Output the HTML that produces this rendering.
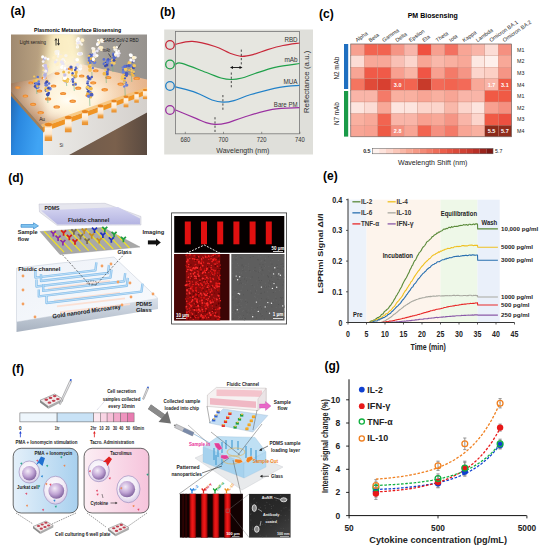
<!DOCTYPE html>
<html><head><meta charset="utf-8"><style>
html,body{margin:0;padding:0;background:#fff;width:544px;height:550px;overflow:hidden}
svg{display:block}
text{font-family:"Liberation Sans",sans-serif}
</style></head><body>
<svg width="544" height="550" viewBox="0 0 544 550">
<text x="10.5" y="15" font-size="12" font-weight="bold" text-anchor="start" fill="#000" >(a)</text>
<text x="160" y="15.6" font-size="12" font-weight="bold" text-anchor="start" fill="#000" >(b)</text>
<text x="319" y="17.5" font-size="12" font-weight="bold" text-anchor="start" fill="#000" >(c)</text>
<text x="8.2" y="181.8" font-size="12" font-weight="bold" text-anchor="start" fill="#000" >(d)</text>
<text x="323" y="180" font-size="12" font-weight="bold" text-anchor="start" fill="#000" >(e)</text>
<text x="12" y="373" font-size="12" font-weight="bold" text-anchor="start" fill="#000" >(f)</text>
<text x="324.5" y="370" font-size="12" font-weight="bold" text-anchor="start" fill="#000" >(g)</text>
<defs><linearGradient id="abg" x1="0" y1="0" x2="1" y2="0"><stop offset="0" stop-color="#a08a70"/><stop offset="0.2" stop-color="#b8a080"/><stop offset="0.33" stop-color="#d8c090"/><stop offset="0.45" stop-color="#e8d8b0"/><stop offset="0.55" stop-color="#b4aca0"/><stop offset="0.7" stop-color="#a29e98"/><stop offset="1" stop-color="#96928e"/></linearGradient><filter id="ablur" x="-50%" y="-50%" width="200%" height="200%"><feGaussianBlur stdDeviation="4"/></filter><clipPath id="aclip"><rect x="11" y="34.5" width="136" height="120.5"/></clipPath><radialGradient id="abeam" cx="0.42" cy="0.1" r="0.55" gradientTransform="translate(0.42,0.1) scale(0.6,1.6) translate(-0.42,-0.1)"><stop offset="0" stop-color="#fffbe8" stop-opacity="1"/><stop offset="0.45" stop-color="#fce8b0" stop-opacity="0.8"/><stop offset="1" stop-color="#f0c880" stop-opacity="0"/></radialGradient><radialGradient id="aglow" cx="0.45" cy="0.5" r="0.55"><stop offset="0" stop-color="#fffdf6" stop-opacity="1"/><stop offset="0.35" stop-color="#fff2dc" stop-opacity="0.9"/><stop offset="1" stop-color="#f0c8a0" stop-opacity="0"/></radialGradient><linearGradient id="abeam2" x1="0" y1="0" x2="0" y2="1"><stop offset="0" stop-color="#fffbe6" stop-opacity="0.95"/><stop offset="0.6" stop-color="#fff4d8" stop-opacity="0.6"/><stop offset="1" stop-color="#fff0d0" stop-opacity="0"/></linearGradient><linearGradient id="atop" x1="0" y1="0" x2="1" y2="0"><stop offset="0" stop-color="#8a6448"/><stop offset="0.2" stop-color="#b88a68"/><stop offset="0.45" stop-color="#fcecd8"/><stop offset="0.7" stop-color="#f2cca8"/><stop offset="1" stop-color="#e6b48c"/></linearGradient><linearGradient id="aleft" x1="0" y1="0" x2="1" y2="0.3"><stop offset="0" stop-color="#2468b0"/><stop offset="0.35" stop-color="#2a88e0"/><stop offset="1" stop-color="#40a4f4"/></linearGradient><linearGradient id="afront" x1="0" y1="0" x2="1" y2="0"><stop offset="0" stop-color="#ecebe8"/><stop offset="1" stop-color="#d4d0cc"/></linearGradient><linearGradient id="afloor" x1="0" y1="0" x2="1" y2="0"><stop offset="0" stop-color="#6e5a4c"/><stop offset="0.6" stop-color="#7a604c"/><stop offset="1" stop-color="#5a4a40"/></linearGradient></defs>
<g>
<rect x="11" y="34.5" width="136" height="120.5" fill="url(#abg)"/>
<g clip-path="url(#aclip)"><polygon points="50,30 74,30 96,100 40,100" fill="#fff4cc" opacity="0.85" filter="url(#ablur)"/></g>
<polygon points="68,155 147,112 147,155" fill="url(#afloor)"/>
<polygon points="11,83.5 45,77 72,62 147,79.5 147,90 41.3,127.5 11,92" fill="url(#atop)"/>
<polygon points="11,83.5 45,77 72,62 147,79.5 147,90 41.3,127.5 11,92" fill="url(#aglow)"/>
<g clip-path="url(#aclip)"><polygon points="52,60 76,60 96,112 45,118" fill="#fff8e4" opacity="0.75" filter="url(#ablur)"/></g>
<defs><radialGradient id="aspot"><stop offset="0" stop-color="#fffef8" stop-opacity="1"/><stop offset="0.5" stop-color="#fff6e0" stop-opacity="0.7"/><stop offset="1" stop-color="#fff0d0" stop-opacity="0"/></radialGradient></defs>
<ellipse cx="68" cy="100" rx="26" ry="16" fill="url(#aspot)"/>
<polygon points="41.3,127.5 147,90 147,112.5 69,155 41.3,155" fill="url(#afront)"/>
<polygon points="41.3,127.5 147,90 147,94.5 42,132.5" fill="#f09424"/>
<polygon points="41.3,124.5 147,87 147,90 41.3,127.5" fill="#f8c070" opacity="0.8"/>
<polygon points="11,92 43,128 43,155 11,155" fill="url(#aleft)"/>
<polygon points="11,92 43,128 44,133 11,96" fill="#c07830" opacity="0.8"/>
<ellipse cx="40.7" cy="112.6" rx="3.3" ry="1.7" fill="#ee8a30"/>
<ellipse cx="40.7" cy="112.9" rx="2.0" ry="0.9" fill="#f6a850"/>
<ellipse cx="56.7" cy="106.9" rx="3.3" ry="1.7" fill="#ee8a30"/>
<ellipse cx="56.7" cy="107.2" rx="2.0" ry="0.9" fill="#f6a850"/>
<ellipse cx="72.7" cy="101.2" rx="3.3" ry="1.7" fill="#ee8a30"/>
<ellipse cx="72.7" cy="101.5" rx="2.0" ry="0.9" fill="#f6a850"/>
<ellipse cx="88.7" cy="95.5" rx="3.3" ry="1.7" fill="#ee8a30"/>
<ellipse cx="88.7" cy="95.8" rx="2.0" ry="0.9" fill="#f6a850"/>
<ellipse cx="104.7" cy="89.8" rx="3.3" ry="1.7" fill="#ee8a30"/>
<ellipse cx="104.7" cy="90.1" rx="2.0" ry="0.9" fill="#f6a850"/>
<ellipse cx="120.7" cy="84.1" rx="3.3" ry="1.7" fill="#ee8a30"/>
<ellipse cx="120.7" cy="84.4" rx="2.0" ry="0.9" fill="#f6a850"/>
<ellipse cx="136.7" cy="78.4" rx="3.3" ry="1.7" fill="#ee8a30"/>
<ellipse cx="136.7" cy="78.7" rx="2.0" ry="0.9" fill="#f6a850"/>
<ellipse cx="33.1" cy="104.3" rx="3.1" ry="1.6" fill="#ee8a30"/>
<ellipse cx="33.1" cy="104.6" rx="1.9" ry="0.8" fill="#f6a850"/>
<ellipse cx="48.1" cy="98.9" rx="3.1" ry="1.6" fill="#ee8a30"/>
<ellipse cx="48.1" cy="99.2" rx="1.9" ry="0.8" fill="#f6a850"/>
<ellipse cx="63.1" cy="93.5" rx="3.1" ry="1.6" fill="#ee8a30"/>
<ellipse cx="63.1" cy="93.8" rx="1.9" ry="0.8" fill="#f6a850"/>
<ellipse cx="78.2" cy="88.2" rx="3.1" ry="1.6" fill="#ee8a30"/>
<ellipse cx="78.2" cy="88.5" rx="1.9" ry="0.8" fill="#f6a850"/>
<ellipse cx="93.2" cy="82.8" rx="3.1" ry="1.6" fill="#ee8a30"/>
<ellipse cx="93.2" cy="83.1" rx="1.9" ry="0.8" fill="#f6a850"/>
<ellipse cx="108.3" cy="77.5" rx="3.1" ry="1.6" fill="#ee8a30"/>
<ellipse cx="108.3" cy="77.8" rx="1.9" ry="0.8" fill="#f6a850"/>
<ellipse cx="25.4" cy="95.9" rx="2.9" ry="1.5" fill="#ee8a30"/>
<ellipse cx="25.4" cy="96.2" rx="1.8" ry="0.8" fill="#f6a850"/>
<ellipse cx="39.5" cy="90.9" rx="2.9" ry="1.5" fill="#ee8a30"/>
<ellipse cx="39.5" cy="91.2" rx="1.8" ry="0.8" fill="#f6a850"/>
<ellipse cx="53.6" cy="85.9" rx="2.9" ry="1.5" fill="#ee8a30"/>
<ellipse cx="53.6" cy="86.2" rx="1.8" ry="0.8" fill="#f6a850"/>
<ellipse cx="67.7" cy="80.9" rx="2.9" ry="1.5" fill="#ee8a30"/>
<ellipse cx="67.7" cy="81.2" rx="1.8" ry="0.8" fill="#f6a850"/>
<ellipse cx="81.7" cy="75.9" rx="2.9" ry="1.5" fill="#ee8a30"/>
<ellipse cx="81.7" cy="76.2" rx="1.8" ry="0.8" fill="#f6a850"/>
<ellipse cx="95.8" cy="70.8" rx="2.9" ry="1.5" fill="#ee8a30"/>
<ellipse cx="95.8" cy="71.1" rx="1.8" ry="0.8" fill="#f6a850"/>
<ellipse cx="17.8" cy="87.6" rx="2.7" ry="1.4" fill="#ee8a30"/>
<ellipse cx="17.8" cy="87.9" rx="1.6" ry="0.7" fill="#f6a850"/>
<ellipse cx="30.9" cy="82.9" rx="2.7" ry="1.4" fill="#ee8a30"/>
<ellipse cx="30.9" cy="83.2" rx="1.6" ry="0.7" fill="#f6a850"/>
<ellipse cx="44.0" cy="78.2" rx="2.7" ry="1.4" fill="#ee8a30"/>
<ellipse cx="44.0" cy="78.5" rx="1.6" ry="0.7" fill="#f6a850"/>
<ellipse cx="57.1" cy="73.6" rx="2.7" ry="1.4" fill="#ee8a30"/>
<ellipse cx="57.1" cy="73.9" rx="1.6" ry="0.7" fill="#f6a850"/>
<ellipse cx="70.3" cy="68.9" rx="2.7" ry="1.4" fill="#ee8a30"/>
<ellipse cx="70.3" cy="69.2" rx="1.6" ry="0.7" fill="#f6a850"/>
<defs><linearGradient id="anotch" x1="0" y1="0" x2="0" y2="1"><stop offset="0" stop-color="#f09a30"/><stop offset="0.25" stop-color="#fff4e4"/><stop offset="0.6" stop-color="#fbe6cc"/><stop offset="0.8" stop-color="#f0a040"/><stop offset="1" stop-color="#e89030"/></linearGradient></defs>
<rect x="44.7" y="124.0" width="7.4" height="17.0" fill="url(#anotch)"/>
<ellipse cx="48.4" cy="124.5" rx="3.7" ry="1.8" fill="#e88420"/>
<rect x="64.9" y="116.9" width="6.7" height="15.4" fill="url(#anotch)"/>
<ellipse cx="68.3" cy="117.4" rx="3.4" ry="1.6" fill="#e88420"/>
<rect x="81.9" y="110.9" width="6.2" height="14.2" fill="url(#anotch)"/>
<ellipse cx="85.0" cy="111.4" rx="3.1" ry="1.5" fill="#e88420"/>
<rect x="97.7" y="105.4" width="5.7" height="13.0" fill="url(#anotch)"/>
<ellipse cx="100.5" cy="105.9" rx="2.8" ry="1.4" fill="#e88420"/>
<rect x="111.4" y="100.5" width="5.2" height="12.0" fill="url(#anotch)"/>
<ellipse cx="114.0" cy="101.0" rx="2.6" ry="1.3" fill="#e88420"/>
<rect x="123.6" y="96.3" width="4.8" height="11.0" fill="url(#anotch)"/>
<ellipse cx="126.0" cy="96.8" rx="2.4" ry="1.2" fill="#e88420"/>
<rect x="134.3" y="92.5" width="4.5" height="10.2" fill="url(#anotch)"/>
<ellipse cx="136.5" cy="93.0" rx="2.2" ry="1.1" fill="#e88420"/>
<rect x="142.9" y="89.5" width="4.2" height="9.6" fill="url(#anotch)"/>
<ellipse cx="145.0" cy="90.0" rx="2.1" ry="1.0" fill="#e88420"/>
<line x1="36.6" y1="88.0" x2="36.9" y2="94.0" stroke="#70b080" stroke-width="0.6"/>
<circle cx="35.0" cy="83.5" r="1.1" fill="#3a4cb0"/>
<circle cx="34.2" cy="76.5" r="1.1" fill="#f4c860"/>
<circle cx="34.2" cy="80.9" r="1.4" fill="#f0b848"/>
<circle cx="36.8" cy="84.6" r="1.8" fill="#4a5cc0"/>
<circle cx="35.4" cy="86.3" r="1.6" fill="#3a4cb0"/>
<circle cx="36.9" cy="87.1" r="1.9" fill="#4a5cc0"/>
<circle cx="38.0" cy="87.3" r="1.4" fill="#6a80d8"/>
<circle cx="37.0" cy="80.4" r="1.8" fill="#f4c860"/>
<circle cx="37.0" cy="85.5" r="1.3" fill="#3a4cb0"/>
<circle cx="37.5" cy="86.6" r="1.1" fill="#f4c860"/>
<circle cx="37.4" cy="85.1" r="1.7" fill="#f0b848"/>
<circle cx="38.7" cy="81.5" r="1.3" fill="#6a80d8"/>
<circle cx="37.8" cy="76.9" r="1.2" fill="#5a70d0"/>
<circle cx="36.6" cy="83.8" r="1.7" fill="#6a80d8"/>
<circle cx="38.8" cy="84.0" r="1.5" fill="#4a5cc0"/>
<circle cx="44.7" cy="76.0" r="1.4" fill="#f8e0a0"/>
<circle cx="42.7" cy="56.9" r="1.6" fill="#ffffff"/>
<circle cx="44.3" cy="59.0" r="1.6" fill="#b0b0e0"/>
<circle cx="45.2" cy="66.1" r="1.9" fill="#c8c0e8"/>
<circle cx="46.2" cy="68.6" r="1.7" fill="#c8c0e8"/>
<circle cx="45.8" cy="72.6" r="1.3" fill="#f8e0a0"/>
<circle cx="46.2" cy="70.7" r="1.9" fill="#c8c0e8"/>
<circle cx="45.9" cy="71.5" r="1.1" fill="#f8e0a0"/>
<circle cx="43.2" cy="61.6" r="1.4" fill="#f4f0f8"/>
<circle cx="45.4" cy="58.0" r="1.5" fill="#f4f0f8"/>
<circle cx="47.4" cy="66.8" r="1.8" fill="#f8e0a0"/>
<circle cx="45.0" cy="73.3" r="1.6" fill="#b0b0e0"/>
<circle cx="44.1" cy="70.9" r="1.2" fill="#c8c0e8"/>
<circle cx="44.2" cy="74.4" r="1.8" fill="#f8e0a0"/>
<circle cx="44.5" cy="75.6" r="1.4" fill="#f4f0f8"/>
<circle cx="45.7" cy="71.1" r="1.7" fill="#f4f0f8"/>
<circle cx="46.0" cy="67.6" r="1.5" fill="#c8c0e8"/>
<circle cx="48.1" cy="59.1" r="1.4" fill="#ffffff"/>
<circle cx="43.5" cy="70.4" r="1.1" fill="#f8e0a0"/>
<circle cx="44.2" cy="78.4" r="1.2" fill="#f4f0f8"/>
<circle cx="43.3" cy="65.6" r="1.2" fill="#ffffff"/>
<circle cx="44.8" cy="77.6" r="1.2" fill="#c8c0e8"/>
<circle cx="44.9" cy="75.0" r="1.9" fill="#b0b0e0"/>
<circle cx="45.3" cy="65.5" r="1.8" fill="#c8c0e8"/>
<line x1="47.6" y1="95.0" x2="47.9" y2="103.0" stroke="#70b080" stroke-width="0.6"/>
<circle cx="47.4" cy="81.1" r="1.3" fill="#f0b848"/>
<circle cx="48.7" cy="93.0" r="1.3" fill="#3a4cb0"/>
<circle cx="45.6" cy="83.4" r="1.3" fill="#4a5cc0"/>
<circle cx="46.7" cy="81.7" r="1.5" fill="#3a4cb0"/>
<circle cx="47.7" cy="94.6" r="1.8" fill="#3a4cb0"/>
<circle cx="46.3" cy="85.3" r="1.8" fill="#6a80d8"/>
<circle cx="46.3" cy="90.0" r="1.7" fill="#f4c860"/>
<circle cx="46.3" cy="90.4" r="1.7" fill="#5a70d0"/>
<circle cx="49.0" cy="83.5" r="1.3" fill="#5a70d0"/>
<circle cx="48.8" cy="88.1" r="1.7" fill="#4a5cc0"/>
<circle cx="46.1" cy="88.4" r="1.9" fill="#f4c860"/>
<circle cx="49.8" cy="88.7" r="1.9" fill="#6a80d8"/>
<circle cx="46.3" cy="89.9" r="1.5" fill="#5a70d0"/>
<circle cx="47.5" cy="90.3" r="1.8" fill="#f4c860"/>
<circle cx="48.4" cy="88.3" r="1.2" fill="#3a4cb0"/>
<circle cx="58.8" cy="55.8" r="1.5" fill="#f8f4ec"/>
<circle cx="57.7" cy="62.5" r="1.2" fill="#e8e4f4"/>
<circle cx="57.9" cy="51.8" r="1.4" fill="#fff0c8"/>
<circle cx="57.9" cy="51.7" r="1.9" fill="#f8f4ec"/>
<circle cx="56.9" cy="64.6" r="1.7" fill="#fff0c8"/>
<circle cx="57.9" cy="63.0" r="1.6" fill="#fff0c8"/>
<circle cx="56.7" cy="60.1" r="1.1" fill="#f8f4ec"/>
<circle cx="57.8" cy="53.8" r="1.5" fill="#ffffff"/>
<circle cx="56.1" cy="51.9" r="1.8" fill="#f8f4ec"/>
<circle cx="55.4" cy="62.0" r="1.5" fill="#e8e4f4"/>
<circle cx="55.5" cy="54.3" r="1.8" fill="#fff0c8"/>
<circle cx="57.5" cy="64.1" r="1.6" fill="#fff0c8"/>
<circle cx="56.6" cy="53.6" r="1.5" fill="#f8f4ec"/>
<circle cx="54.0" cy="57.7" r="1.7" fill="#fff0c8"/>
<circle cx="58.0" cy="56.5" r="1.2" fill="#f8f4ec"/>
<circle cx="64.1" cy="61.4" r="1.4" fill="#ffffff"/>
<circle cx="63.3" cy="60.7" r="1.8" fill="#ffffff"/>
<circle cx="61.8" cy="67.2" r="1.7" fill="#ffffff"/>
<circle cx="63.3" cy="60.9" r="1.5" fill="#ffffff"/>
<circle cx="63.0" cy="59.4" r="1.7" fill="#f8f4ec"/>
<circle cx="63.2" cy="61.7" r="1.5" fill="#fff0c8"/>
<circle cx="63.1" cy="64.5" r="1.8" fill="#e8e4f4"/>
<circle cx="61.2" cy="55.5" r="1.2" fill="#fff0c8"/>
<circle cx="62.8" cy="66.3" r="1.6" fill="#ffffff"/>
<circle cx="61.6" cy="62.0" r="1.7" fill="#e8e4f4"/>
<circle cx="60.9" cy="55.4" r="1.2" fill="#e8e4f4"/>
<circle cx="65.9" cy="55.6" r="1.7" fill="#f8f4ec"/>
<circle cx="64.6" cy="66.7" r="1.9" fill="#f8f4ec"/>
<circle cx="61.0" cy="56.3" r="1.9" fill="#fff0c8"/>
<circle cx="62.6" cy="62.3" r="1.4" fill="#e8e4f4"/>
<line x1="66.4" y1="82.0" x2="66.7" y2="86.0" stroke="#70b080" stroke-width="0.6"/>
<circle cx="63.7" cy="71.9" r="1.5" fill="#f0c050"/>
<circle cx="65.7" cy="81.7" r="1.5" fill="#c8c0e8"/>
<circle cx="68.3" cy="81.1" r="1.9" fill="#ffffff"/>
<circle cx="65.4" cy="80.5" r="1.8" fill="#f8d070"/>
<circle cx="67.5" cy="79.5" r="1.8" fill="#f0c050"/>
<circle cx="68.9" cy="72.5" r="1.2" fill="#f0c050"/>
<circle cx="66.8" cy="69.1" r="1.2" fill="#c8c0e8"/>
<circle cx="67.2" cy="81.2" r="1.8" fill="#f0c050"/>
<circle cx="64.2" cy="78.2" r="1.7" fill="#f8d070"/>
<circle cx="67.8" cy="80.8" r="1.3" fill="#f8d070"/>
<circle cx="64.4" cy="80.3" r="1.8" fill="#f0c050"/>
<circle cx="64.7" cy="78.2" r="1.9" fill="#ffffff"/>
<circle cx="64.9" cy="68.4" r="1.3" fill="#ffffff"/>
<circle cx="65.5" cy="77.6" r="1.3" fill="#ffffff"/>
<circle cx="64.8" cy="75.0" r="1.7" fill="#c8c0e8"/>
<line x1="74.0" y1="85.0" x2="74.3" y2="91.0" stroke="#70b080" stroke-width="0.6"/>
<circle cx="71.0" cy="67.1" r="1.7" fill="#4a5cc0"/>
<circle cx="72.4" cy="75.1" r="1.3" fill="#f0b848"/>
<circle cx="74.8" cy="77.0" r="1.4" fill="#3a4cb0"/>
<circle cx="75.7" cy="76.1" r="1.9" fill="#f0b848"/>
<circle cx="72.7" cy="79.5" r="1.4" fill="#5a70d0"/>
<circle cx="75.2" cy="70.0" r="1.2" fill="#3a4cb0"/>
<circle cx="77.1" cy="67.2" r="1.1" fill="#5a70d0"/>
<circle cx="76.1" cy="73.7" r="1.2" fill="#f0b848"/>
<circle cx="75.4" cy="83.5" r="1.6" fill="#f4c860"/>
<circle cx="72.8" cy="79.9" r="1.1" fill="#6a80d8"/>
<circle cx="73.0" cy="81.7" r="1.3" fill="#4a5cc0"/>
<circle cx="77.0" cy="67.7" r="1.4" fill="#f4c860"/>
<circle cx="75.5" cy="84.4" r="1.4" fill="#5a70d0"/>
<circle cx="73.5" cy="85.0" r="1.3" fill="#f0b848"/>
<circle cx="72.6" cy="73.2" r="1.2" fill="#4a5cc0"/>
<circle cx="71.9" cy="70.3" r="1.1" fill="#f4c860"/>
<circle cx="73.2" cy="84.6" r="1.2" fill="#5a70d0"/>
<circle cx="76.2" cy="67.8" r="1.6" fill="#5a70d0"/>
<circle cx="76.2" cy="72.1" r="1.7" fill="#f0b848"/>
<circle cx="79.6" cy="42.0" r="1.7" fill="#e8e4f4"/>
<circle cx="77.1" cy="43.4" r="1.7" fill="#fff0c8"/>
<circle cx="77.5" cy="40.4" r="1.8" fill="#ffffff"/>
<circle cx="81.7" cy="44.5" r="1.2" fill="#f8f4ec"/>
<circle cx="80.1" cy="54.2" r="1.4" fill="#ffffff"/>
<circle cx="77.4" cy="46.9" r="1.6" fill="#ffffff"/>
<circle cx="79.5" cy="42.7" r="1.5" fill="#ffffff"/>
<circle cx="81.3" cy="53.7" r="1.6" fill="#ffffff"/>
<circle cx="80.5" cy="53.8" r="1.7" fill="#e8e4f4"/>
<circle cx="78.0" cy="39.8" r="1.3" fill="#f8f4ec"/>
<circle cx="79.4" cy="43.3" r="1.2" fill="#fff0c8"/>
<circle cx="78.3" cy="38.6" r="1.6" fill="#ffffff"/>
<circle cx="77.3" cy="43.4" r="1.4" fill="#f8f4ec"/>
<circle cx="80.7" cy="43.3" r="1.1" fill="#f8f4ec"/>
<circle cx="78.7" cy="53.9" r="1.7" fill="#ffffff"/>
<circle cx="78.4" cy="42.8" r="1.5" fill="#e8e4f4"/>
<circle cx="77.7" cy="46.6" r="1.3" fill="#f8f4ec"/>
<circle cx="79.5" cy="53.5" r="1.5" fill="#e8e4f4"/>
<circle cx="82.4" cy="40.2" r="1.9" fill="#fff0c8"/>
<circle cx="80.5" cy="65.4" r="1.2" fill="#f8f4ec"/>
<circle cx="79.5" cy="68.9" r="1.9" fill="#e8e4f4"/>
<circle cx="79.8" cy="68.4" r="1.8" fill="#e8e4f4"/>
<circle cx="77.0" cy="61.6" r="1.4" fill="#fff0c8"/>
<circle cx="80.4" cy="68.1" r="1.4" fill="#fff0c8"/>
<circle cx="78.0" cy="61.3" r="1.4" fill="#fff0c8"/>
<circle cx="75.5" cy="59.9" r="1.8" fill="#e8e4f4"/>
<circle cx="80.3" cy="68.6" r="1.8" fill="#ffffff"/>
<circle cx="77.9" cy="66.5" r="1.4" fill="#fff0c8"/>
<circle cx="75.9" cy="59.6" r="1.7" fill="#fff0c8"/>
<circle cx="77.2" cy="59.7" r="1.8" fill="#ffffff"/>
<circle cx="80.5" cy="66.6" r="1.9" fill="#f8f4ec"/>
<circle cx="77.6" cy="64.8" r="1.7" fill="#e8e4f4"/>
<line x1="89.6" y1="98.0" x2="89.9" y2="106.0" stroke="#70b080" stroke-width="0.6"/>
<circle cx="87.3" cy="88.6" r="1.4" fill="#3a4cb0"/>
<circle cx="89.9" cy="78.7" r="1.7" fill="#5a70d0"/>
<circle cx="90.5" cy="96.9" r="1.6" fill="#f0b848"/>
<circle cx="91.1" cy="95.0" r="1.1" fill="#f0b848"/>
<circle cx="87.3" cy="77.6" r="1.4" fill="#f0b848"/>
<circle cx="88.5" cy="91.8" r="1.9" fill="#3a4cb0"/>
<circle cx="90.3" cy="92.3" r="1.5" fill="#6a80d8"/>
<circle cx="87.5" cy="83.3" r="1.2" fill="#3a4cb0"/>
<circle cx="91.4" cy="93.4" r="1.5" fill="#f0b848"/>
<circle cx="88.8" cy="88.0" r="1.4" fill="#f0b848"/>
<circle cx="88.3" cy="85.9" r="1.4" fill="#5a70d0"/>
<circle cx="88.5" cy="96.0" r="1.7" fill="#6a80d8"/>
<circle cx="87.5" cy="93.6" r="1.4" fill="#f0b848"/>
<circle cx="87.9" cy="81.6" r="1.4" fill="#6a80d8"/>
<circle cx="88.7" cy="96.6" r="1.2" fill="#6a80d8"/>
<circle cx="90.3" cy="86.9" r="1.2" fill="#5a70d0"/>
<circle cx="88.9" cy="78.3" r="1.5" fill="#3a4cb0"/>
<circle cx="91.8" cy="77.0" r="1.2" fill="#4a5cc0"/>
<circle cx="90.9" cy="88.6" r="1.9" fill="#f0b848"/>
<circle cx="87.4" cy="87.2" r="1.8" fill="#f4c860"/>
<circle cx="88.0" cy="76.6" r="1.3" fill="#4a5cc0"/>
<circle cx="91.6" cy="94.7" r="1.9" fill="#4a5cc0"/>
<line x1="91.8" y1="72.0" x2="92.1" y2="76.0" stroke="#70b080" stroke-width="0.6"/>
<circle cx="92.6" cy="59.0" r="1.2" fill="#f0b848"/>
<circle cx="88.9" cy="58.0" r="1.3" fill="#5a70d0"/>
<circle cx="92.7" cy="55.4" r="1.9" fill="#6a80d8"/>
<circle cx="92.0" cy="60.7" r="1.7" fill="#f0b848"/>
<circle cx="90.0" cy="70.0" r="1.9" fill="#f4c860"/>
<circle cx="90.8" cy="68.5" r="1.1" fill="#f4c860"/>
<circle cx="94.4" cy="62.3" r="1.9" fill="#6a80d8"/>
<circle cx="93.9" cy="60.4" r="1.5" fill="#f0b848"/>
<circle cx="89.3" cy="62.2" r="1.7" fill="#f0b848"/>
<circle cx="89.6" cy="66.5" r="1.8" fill="#f0b848"/>
<circle cx="89.5" cy="60.4" r="1.6" fill="#5a70d0"/>
<circle cx="90.1" cy="55.3" r="1.7" fill="#4a5cc0"/>
<circle cx="91.0" cy="59.1" r="1.3" fill="#f0b848"/>
<circle cx="93.2" cy="57.7" r="1.2" fill="#f4c860"/>
<circle cx="90.3" cy="63.1" r="1.3" fill="#5a70d0"/>
<circle cx="92.9" cy="68.0" r="1.2" fill="#6a80d8"/>
<circle cx="92.4" cy="60.8" r="1.5" fill="#5a70d0"/>
<circle cx="89.1" cy="55.6" r="1.2" fill="#f4c860"/>
<circle cx="90.4" cy="64.9" r="1.2" fill="#f4c860"/>
<circle cx="93.3" cy="59.4" r="1.5" fill="#fff0c8"/>
<circle cx="93.9" cy="51.5" r="1.9" fill="#ffffff"/>
<circle cx="93.9" cy="48.8" r="1.6" fill="#f8f4ec"/>
<circle cx="94.8" cy="53.7" r="1.6" fill="#e8e4f4"/>
<circle cx="94.4" cy="55.5" r="1.5" fill="#e8e4f4"/>
<circle cx="93.3" cy="58.7" r="1.4" fill="#ffffff"/>
<circle cx="92.6" cy="48.5" r="1.4" fill="#f8f4ec"/>
<circle cx="93.9" cy="50.8" r="1.2" fill="#fff0c8"/>
<circle cx="93.3" cy="51.5" r="1.3" fill="#fff0c8"/>
<circle cx="96.9" cy="55.6" r="1.6" fill="#ffffff"/>
<circle cx="95.6" cy="57.0" r="1.1" fill="#fff0c8"/>
<circle cx="93.3" cy="59.6" r="1.3" fill="#ffffff"/>
<circle cx="97.3" cy="51.0" r="1.4" fill="#e8e4f4"/>
<line x1="106.0" y1="75.0" x2="106.3" y2="83.0" stroke="#70b080" stroke-width="0.6"/>
<circle cx="108.1" cy="69.6" r="1.3" fill="#4a5cc0"/>
<circle cx="105.0" cy="63.5" r="1.3" fill="#6a80d8"/>
<circle cx="106.5" cy="63.5" r="1.9" fill="#3a4cb0"/>
<circle cx="107.3" cy="74.0" r="1.5" fill="#4a5cc0"/>
<circle cx="108.9" cy="59.7" r="1.7" fill="#f0b848"/>
<circle cx="107.9" cy="60.4" r="1.8" fill="#5a70d0"/>
<circle cx="107.3" cy="72.1" r="1.3" fill="#3a4cb0"/>
<circle cx="104.0" cy="63.9" r="1.4" fill="#5a70d0"/>
<circle cx="105.4" cy="69.9" r="1.2" fill="#f4c860"/>
<circle cx="107.1" cy="71.8" r="1.4" fill="#5a70d0"/>
<circle cx="105.9" cy="64.6" r="1.4" fill="#f4c860"/>
<circle cx="108.4" cy="59.3" r="1.3" fill="#4a5cc0"/>
<circle cx="104.4" cy="73.7" r="1.9" fill="#f0b848"/>
<circle cx="103.9" cy="59.4" r="1.4" fill="#5a70d0"/>
<circle cx="106.9" cy="65.1" r="1.5" fill="#3a4cb0"/>
<circle cx="107.5" cy="62.6" r="1.3" fill="#6a80d8"/>
<circle cx="105.3" cy="65.9" r="1.3" fill="#3a4cb0"/>
<line x1="112.7" y1="66.0" x2="113.0" y2="72.0" stroke="#70b080" stroke-width="0.6"/>
<circle cx="111.1" cy="59.8" r="1.2" fill="#5a70d0"/>
<circle cx="113.2" cy="53.6" r="1.2" fill="#6a80d8"/>
<circle cx="111.6" cy="62.5" r="1.3" fill="#f4c860"/>
<circle cx="113.6" cy="54.7" r="1.2" fill="#4a5cc0"/>
<circle cx="114.3" cy="59.4" r="1.8" fill="#f0b848"/>
<circle cx="111.9" cy="65.4" r="1.1" fill="#4a5cc0"/>
<circle cx="114.5" cy="57.6" r="1.8" fill="#5a70d0"/>
<circle cx="114.5" cy="60.8" r="1.6" fill="#f0b848"/>
<circle cx="113.7" cy="55.2" r="1.2" fill="#4a5cc0"/>
<circle cx="113.3" cy="57.7" r="1.1" fill="#5a70d0"/>
<circle cx="110.6" cy="61.2" r="1.1" fill="#6a80d8"/>
<circle cx="115.1" cy="55.7" r="1.8" fill="#4a5cc0"/>
<circle cx="112.1" cy="60.3" r="1.3" fill="#f4c860"/>
<circle cx="114.0" cy="63.2" r="1.5" fill="#f4c860"/>
<circle cx="114.1" cy="60.3" r="1.5" fill="#3a4cb0"/>
<circle cx="114.8" cy="49.6" r="1.4" fill="#f8f4ec"/>
<circle cx="119.2" cy="53.3" r="1.4" fill="#e8e4f4"/>
<circle cx="118.0" cy="55.5" r="1.4" fill="#e8e4f4"/>
<circle cx="118.0" cy="55.8" r="1.6" fill="#e8e4f4"/>
<circle cx="116.5" cy="52.1" r="1.4" fill="#ffffff"/>
<circle cx="115.4" cy="54.4" r="1.4" fill="#ffffff"/>
<circle cx="116.8" cy="47.2" r="1.2" fill="#f8f4ec"/>
<circle cx="115.6" cy="55.5" r="1.2" fill="#fff0c8"/>
<circle cx="116.3" cy="49.8" r="1.2" fill="#f8f4ec"/>
<circle cx="117.1" cy="53.2" r="1.2" fill="#ffffff"/>
<circle cx="118.6" cy="51.1" r="1.3" fill="#f8f4ec"/>
<circle cx="114.3" cy="47.6" r="1.4" fill="#fff0c8"/>
<line x1="124.9" y1="88.0" x2="125.2" y2="96.0" stroke="#70b080" stroke-width="0.6"/>
<circle cx="125.6" cy="74.6" r="1.8" fill="#4a5cc0"/>
<circle cx="126.7" cy="74.4" r="1.6" fill="#5a70d0"/>
<circle cx="125.6" cy="69.2" r="1.8" fill="#f4c860"/>
<circle cx="123.0" cy="69.8" r="1.1" fill="#5a70d0"/>
<circle cx="122.8" cy="67.4" r="1.2" fill="#6a80d8"/>
<circle cx="125.9" cy="82.6" r="1.1" fill="#5a70d0"/>
<circle cx="126.3" cy="75.6" r="1.6" fill="#4a5cc0"/>
<circle cx="124.4" cy="80.9" r="1.5" fill="#f0b848"/>
<circle cx="123.8" cy="74.2" r="1.3" fill="#f0b848"/>
<circle cx="124.4" cy="82.5" r="1.5" fill="#6a80d8"/>
<circle cx="122.5" cy="78.4" r="1.9" fill="#f4c860"/>
<circle cx="124.6" cy="77.8" r="1.7" fill="#f4c860"/>
<circle cx="123.3" cy="77.9" r="1.4" fill="#f0b848"/>
<circle cx="124.3" cy="86.5" r="1.2" fill="#6a80d8"/>
<circle cx="125.0" cy="78.3" r="1.1" fill="#4a5cc0"/>
<circle cx="126.7" cy="85.1" r="1.7" fill="#6a80d8"/>
<circle cx="122.6" cy="76.7" r="1.8" fill="#f4c860"/>
<circle cx="126.5" cy="73.6" r="1.8" fill="#4a5cc0"/>
<circle cx="126.4" cy="66.1" r="1.3" fill="#4a5cc0"/>
<circle cx="124.8" cy="66.4" r="1.6" fill="#5a70d0"/>
<circle cx="123.3" cy="72.1" r="1.6" fill="#6a80d8"/>
<circle cx="124.1" cy="82.5" r="1.3" fill="#f4c860"/>
<line x1="131.5" y1="76.0" x2="131.8" y2="82.0" stroke="#70b080" stroke-width="0.6"/>
<circle cx="129.4" cy="62.9" r="1.9" fill="#f4c860"/>
<circle cx="132.0" cy="68.3" r="1.5" fill="#f4c860"/>
<circle cx="129.3" cy="70.9" r="1.4" fill="#5a70d0"/>
<circle cx="130.3" cy="65.8" r="1.8" fill="#6a80d8"/>
<circle cx="132.7" cy="73.3" r="1.7" fill="#4a5cc0"/>
<circle cx="132.9" cy="75.2" r="1.5" fill="#f0b848"/>
<circle cx="133.5" cy="66.7" r="1.3" fill="#4a5cc0"/>
<circle cx="133.4" cy="67.4" r="1.7" fill="#3a4cb0"/>
<circle cx="133.7" cy="71.8" r="1.2" fill="#f4c860"/>
<circle cx="129.5" cy="70.7" r="1.2" fill="#5a70d0"/>
<circle cx="128.9" cy="64.1" r="1.3" fill="#f4c860"/>
<circle cx="134.2" cy="65.8" r="1.8" fill="#f4c860"/>
<circle cx="132.9" cy="61.7" r="1.1" fill="#3a4cb0"/>
<circle cx="132.0" cy="73.6" r="1.4" fill="#f0b848"/>
<circle cx="129.3" cy="70.2" r="1.3" fill="#f0b848"/>
<circle cx="128.9" cy="65.6" r="1.6" fill="#4a5cc0"/>
<circle cx="131.6" cy="71.1" r="1.3" fill="#f4c860"/>
<circle cx="133.5" cy="57.3" r="1.4" fill="#f8f4ec"/>
<circle cx="131.0" cy="55.4" r="1.8" fill="#ffffff"/>
<circle cx="131.4" cy="60.1" r="1.2" fill="#ffffff"/>
<circle cx="133.7" cy="60.8" r="1.4" fill="#e8e4f4"/>
<circle cx="130.8" cy="59.9" r="1.6" fill="#e8e4f4"/>
<circle cx="133.5" cy="57.4" r="1.3" fill="#fff0c8"/>
<circle cx="130.2" cy="54.8" r="1.4" fill="#ffffff"/>
<circle cx="131.0" cy="60.1" r="1.1" fill="#ffffff"/>
<circle cx="135.3" cy="57.6" r="1.4" fill="#f8f4ec"/>
<circle cx="133.7" cy="57.9" r="1.8" fill="#fff0c8"/>
<circle cx="99.2" cy="48.3" r="1.6" fill="#e8e4f4"/>
<circle cx="101.4" cy="40.1" r="1.7" fill="#fff0c8"/>
<circle cx="101.3" cy="49.9" r="1.2" fill="#fff0c8"/>
<circle cx="98.2" cy="43.4" r="1.3" fill="#ffffff"/>
<circle cx="97.9" cy="43.6" r="1.7" fill="#e8e4f4"/>
<circle cx="100.2" cy="47.3" r="1.6" fill="#fff0c8"/>
<circle cx="102.9" cy="40.8" r="1.6" fill="#e8e4f4"/>
<circle cx="98.2" cy="40.3" r="1.2" fill="#ffffff"/>
<circle cx="102.1" cy="41.0" r="1.9" fill="#f8f4ec"/>
<circle cx="99.0" cy="42.5" r="1.4" fill="#fff0c8"/>
<circle cx="101.8" cy="47.6" r="1.5" fill="#fff0c8"/>
<circle cx="97.4" cy="44.7" r="1.4" fill="#ffffff"/>
</g>
<text x="34" y="32.3" font-size="5.2" font-weight="bold" text-anchor="start" fill="#000" >Plasmonic Metasurface Biosensing</text>
<text x="19.7" y="44" font-size="5.4" text-anchor="start" fill="#1a1a1a" textLength="26.3" lengthAdjust="spacingAndGlyphs" >Light sensing</text>
<path d="M56,45.5 L56,39 M55,40.5 L56,38.6 L57,40.5 M58.5,38.6 L58.5,45 M57.5,43.2 L58.5,45.2 L59.5,43.2" stroke="#1a1a1a" stroke-width="0.8" fill="none"/>
<text x="103.1" y="41.6" font-size="5.3" text-anchor="start" fill="#1a1a1a" textLength="35.4" lengthAdjust="spacingAndGlyphs" >SARS-CoV-2 RBD</text>
<text x="103.1" y="52.3" font-size="5.3" text-anchor="start" fill="#1a1a1a" textLength="7.1" lengthAdjust="spacingAndGlyphs" >mAb</text>
<line x1="121" y1="43.5" x2="118" y2="48.5" stroke="#1a1a1a" stroke-width="0.6"/>
<line x1="108.5" y1="53.5" x2="111" y2="57.5" stroke="#1a1a1a" stroke-width="0.6"/>
<text x="39.2" y="121" font-size="5.3" text-anchor="start" fill="#1a1a1a" textLength="5.8" lengthAdjust="spacingAndGlyphs" >Au</text>
<text x="59.5" y="146.5" font-size="5.3" text-anchor="start" fill="#333" textLength="3.8" lengthAdjust="spacingAndGlyphs" >Si</text>
<rect x="164.2" y="29.5" width="148.8" height="125" fill="#dfdfda"/>
<rect x="175.5" y="31.5" width="124" height="102.3" fill="#e6e6e0" stroke="#777" stroke-width="0.8"/>
<path d="M175.6,44.3 C178.4,43.8 185.7,41.0 192.3,41.4 C198.9,41.8 208.7,44.5 215.0,46.5 C221.3,48.5 225.6,51.6 230.0,53.2 C234.4,54.8 237.5,56.1 241.3,56.3 C245.1,56.5 248.6,55.7 253.0,54.6 C257.4,53.5 262.6,51.1 267.6,49.6 C272.6,48.1 277.7,46.6 283.0,45.5 C288.3,44.4 296.8,43.4 299.5,43.0" fill="none" stroke="#c8283a" stroke-width="1.2"/>
<line x1="241.3" y1="49.6" x2="241.3" y2="64.6" stroke="#222" stroke-width="0.8" stroke-dasharray="2.2,2"/>
<circle cx="170" cy="45.0" r="4.3" fill="none" stroke="#c8283a" stroke-width="1.3"/>
<text x="297.6" y="42.4" font-size="7" text-anchor="end" fill="#333" textLength="13.2" lengthAdjust="spacingAndGlyphs" >RBD</text>
<path d="M175.6,64.2 C176.7,64.1 176.6,61.9 182.0,63.4 C187.4,64.9 201.3,70.6 207.8,73.0 C214.3,75.4 217.1,76.9 221.0,78.0 C224.9,79.1 227.8,79.5 231.3,79.5 C234.8,79.5 238.1,79.0 242.0,78.0 C245.9,77.0 249.5,75.3 255.0,73.5 C260.5,71.7 267.6,69.0 275.0,67.3 C282.4,65.6 295.4,64.1 299.5,63.5" fill="none" stroke="#1fa04a" stroke-width="1.2"/>
<line x1="231.3" y1="72.5" x2="231.3" y2="87.3" stroke="#222" stroke-width="0.8" stroke-dasharray="2.2,2"/>
<circle cx="170" cy="64.5" r="4.3" fill="none" stroke="#1fa04a" stroke-width="1.3"/>
<text x="297.6" y="62.3" font-size="7" text-anchor="end" fill="#333" textLength="13.2" lengthAdjust="spacingAndGlyphs" >mAb</text>
<path d="M175.6,86.9 C179.0,87.9 189.8,90.4 195.9,92.6 C202.0,94.8 207.5,98.4 212.0,100.0 C216.5,101.6 219.2,102.1 222.9,102.2 C226.6,102.3 229.3,101.9 234.0,100.6 C238.7,99.3 243.3,96.7 250.9,94.5 C258.5,92.3 271.4,88.8 279.5,87.3 C287.6,85.8 296.2,85.7 299.5,85.4" fill="none" stroke="#2080c8" stroke-width="1.2"/>
<line x1="222.9" y1="95" x2="222.9" y2="110" stroke="#222" stroke-width="0.8" stroke-dasharray="2.2,2"/>
<circle cx="170" cy="86.0" r="4.3" fill="none" stroke="#2080c8" stroke-width="1.3"/>
<text x="297.6" y="83.8" font-size="7" text-anchor="end" fill="#333" textLength="14.1" lengthAdjust="spacingAndGlyphs" >MUA</text>
<path d="M175.6,110 C179.0,111.4 190.8,116.3 195.9,118.4 C201.0,120.5 202.8,121.6 206.0,122.6 C209.2,123.6 211.7,124.3 215.0,124.4 C218.3,124.5 221.2,124.4 226.0,123.2 C230.8,122.0 236.0,119.5 243.7,117.2 C251.4,114.9 263.1,110.9 272.4,109.3 C281.7,107.7 295.0,108.0 299.5,107.7" fill="none" stroke="#9a30a0" stroke-width="1.2"/>
<line x1="215" y1="117.2" x2="215" y2="133" stroke="#222" stroke-width="0.8" stroke-dasharray="2.2,2"/>
<circle cx="170" cy="110.0" r="4.3" fill="none" stroke="#9a30a0" stroke-width="1.3"/>
<text x="297.6" y="106.5" font-size="7" text-anchor="end" fill="#333" textLength="23.8" lengthAdjust="spacingAndGlyphs" >Bare PM</text>
<line x1="231.5" y1="67.5" x2="241" y2="67.5" stroke="#111" stroke-width="0.9"/>
<polygon points="230,67.5 233,66 233,69" fill="#111"/><polygon points="242.5,67.5 239.5,66 239.5,69" fill="#111"/>
<line x1="185.3" y1="133.8" x2="185.3" y2="131.8" stroke="#555" stroke-width="0.6"/>
<text x="185.3" y="142.2" font-size="7.1" text-anchor="middle" fill="#333" textLength="9.8" lengthAdjust="spacingAndGlyphs" >680</text>
<line x1="223.5" y1="133.8" x2="223.5" y2="131.8" stroke="#555" stroke-width="0.6"/>
<text x="223.5" y="142.2" font-size="7.1" text-anchor="middle" fill="#333" textLength="9.8" lengthAdjust="spacingAndGlyphs" >700</text>
<line x1="261.7" y1="133.8" x2="261.7" y2="131.8" stroke="#555" stroke-width="0.6"/>
<text x="261.7" y="142.2" font-size="7.1" text-anchor="middle" fill="#333" textLength="9.8" lengthAdjust="spacingAndGlyphs" >720</text>
<line x1="299.9" y1="133.8" x2="299.9" y2="131.8" stroke="#555" stroke-width="0.6"/>
<text x="299.9" y="142.2" font-size="7.1" text-anchor="middle" fill="#333" textLength="9.8" lengthAdjust="spacingAndGlyphs" >740</text>
<text x="242.9" y="152.9" font-size="7.6" text-anchor="middle" fill="#333" textLength="53.1" lengthAdjust="spacingAndGlyphs" >Wavelength (nm)</text>
<text x="0" y="0" font-size="7.7" fill="#333" text-anchor="middle" textLength="62.7" lengthAdjust="spacingAndGlyphs" transform="translate(308.6,81.9) rotate(-90)">Reflectance (a.u.)</text>
<text x="432.8" y="17.9" font-size="7" font-weight="bold" text-anchor="middle" fill="#000" >PM Biosensing</text>
<rect x="350.80" y="44.00" width="13.40" height="11.60" fill="#f7a090" stroke="#c88878" stroke-width="0.3"/>
<rect x="364.20" y="44.00" width="13.40" height="11.60" fill="#f26450" stroke="#c88878" stroke-width="0.3"/>
<rect x="377.60" y="44.00" width="13.40" height="11.60" fill="#f26450" stroke="#c88878" stroke-width="0.3"/>
<rect x="391.00" y="44.00" width="13.40" height="11.60" fill="#f59585" stroke="#c88878" stroke-width="0.3"/>
<rect x="404.40" y="44.00" width="13.40" height="11.60" fill="#f8b5aa" stroke="#c88878" stroke-width="0.3"/>
<rect x="417.80" y="44.00" width="13.40" height="11.60" fill="#f05040" stroke="#c88878" stroke-width="0.3"/>
<rect x="431.20" y="44.00" width="13.40" height="11.60" fill="#f7a090" stroke="#c88878" stroke-width="0.3"/>
<rect x="444.60" y="44.00" width="13.40" height="11.60" fill="#f37060" stroke="#c88878" stroke-width="0.3"/>
<rect x="458.00" y="44.00" width="13.40" height="11.60" fill="#f8a595" stroke="#c88878" stroke-width="0.3"/>
<rect x="471.40" y="44.00" width="13.40" height="11.60" fill="#f9b5a8" stroke="#c88878" stroke-width="0.3"/>
<rect x="484.80" y="44.00" width="13.40" height="11.60" fill="#fcdcd5" stroke="#c88878" stroke-width="0.3"/>
<rect x="498.20" y="44.00" width="13.40" height="11.60" fill="#f59080" stroke="#c88878" stroke-width="0.3"/>
<rect x="350.80" y="55.60" width="13.40" height="11.60" fill="#fcdcd5" stroke="#c88878" stroke-width="0.3"/>
<rect x="364.20" y="55.60" width="13.40" height="11.60" fill="#f8a898" stroke="#c88878" stroke-width="0.3"/>
<rect x="377.60" y="55.60" width="13.40" height="11.60" fill="#f8a898" stroke="#c88878" stroke-width="0.3"/>
<rect x="391.00" y="55.60" width="13.40" height="11.60" fill="#f9c0b5" stroke="#c88878" stroke-width="0.3"/>
<rect x="404.40" y="55.60" width="13.40" height="11.60" fill="#fcd5cc" stroke="#c88878" stroke-width="0.3"/>
<rect x="417.80" y="55.60" width="13.40" height="11.60" fill="#f8a595" stroke="#c88878" stroke-width="0.3"/>
<rect x="431.20" y="55.60" width="13.40" height="11.60" fill="#f9b8aa" stroke="#c88878" stroke-width="0.3"/>
<rect x="444.60" y="55.60" width="13.40" height="11.60" fill="#f9b0a0" stroke="#c88878" stroke-width="0.3"/>
<rect x="458.00" y="55.60" width="13.40" height="11.60" fill="#f8a898" stroke="#c88878" stroke-width="0.3"/>
<rect x="471.40" y="55.60" width="13.40" height="11.60" fill="#fde8e2" stroke="#c88878" stroke-width="0.3"/>
<rect x="484.80" y="55.60" width="13.40" height="11.60" fill="#fef0ec" stroke="#c88878" stroke-width="0.3"/>
<rect x="498.20" y="55.60" width="13.40" height="11.60" fill="#f8a898" stroke="#c88878" stroke-width="0.3"/>
<rect x="350.80" y="67.20" width="13.40" height="11.60" fill="#f8a595" stroke="#c88878" stroke-width="0.3"/>
<rect x="364.20" y="67.20" width="13.40" height="11.60" fill="#f05a48" stroke="#c88878" stroke-width="0.3"/>
<rect x="377.60" y="67.20" width="13.40" height="11.60" fill="#f05a48" stroke="#c88878" stroke-width="0.3"/>
<rect x="391.00" y="67.20" width="13.40" height="11.60" fill="#f8a090" stroke="#c88878" stroke-width="0.3"/>
<rect x="404.40" y="67.20" width="13.40" height="11.60" fill="#f9b5a5" stroke="#c88878" stroke-width="0.3"/>
<rect x="417.80" y="67.20" width="13.40" height="11.60" fill="#f05545" stroke="#c88878" stroke-width="0.3"/>
<rect x="431.20" y="67.20" width="13.40" height="11.60" fill="#f8a090" stroke="#c88878" stroke-width="0.3"/>
<rect x="444.60" y="67.20" width="13.40" height="11.60" fill="#f47a68" stroke="#c88878" stroke-width="0.3"/>
<rect x="458.00" y="67.20" width="13.40" height="11.60" fill="#f59585" stroke="#c88878" stroke-width="0.3"/>
<rect x="471.40" y="67.20" width="13.40" height="11.60" fill="#fcd5cc" stroke="#c88878" stroke-width="0.3"/>
<rect x="484.80" y="67.20" width="13.40" height="11.60" fill="#fcd0c5" stroke="#c88878" stroke-width="0.3"/>
<rect x="498.20" y="67.20" width="13.40" height="11.60" fill="#f59585" stroke="#c88878" stroke-width="0.3"/>
<rect x="350.80" y="78.80" width="13.40" height="11.60" fill="#f47560" stroke="#c88878" stroke-width="0.3"/>
<rect x="364.20" y="78.80" width="13.40" height="11.60" fill="#e04a38" stroke="#c88878" stroke-width="0.3"/>
<rect x="377.60" y="78.80" width="13.40" height="11.60" fill="#d84030" stroke="#c88878" stroke-width="0.3"/>
<rect x="391.00" y="78.80" width="13.40" height="11.60" fill="#f06050" stroke="#c88878" stroke-width="0.3"/>
<rect x="404.40" y="78.80" width="13.40" height="11.60" fill="#f26450" stroke="#c88878" stroke-width="0.3"/>
<rect x="417.80" y="78.80" width="13.40" height="11.60" fill="#c83a2a" stroke="#c88878" stroke-width="0.3"/>
<rect x="431.20" y="78.80" width="13.40" height="11.60" fill="#f26a58" stroke="#c88878" stroke-width="0.3"/>
<rect x="444.60" y="78.80" width="13.40" height="11.60" fill="#f26450" stroke="#c88878" stroke-width="0.3"/>
<rect x="458.00" y="78.80" width="13.40" height="11.60" fill="#f36a58" stroke="#c88878" stroke-width="0.3"/>
<rect x="471.40" y="78.80" width="13.40" height="11.60" fill="#f8a898" stroke="#c88878" stroke-width="0.3"/>
<rect x="484.80" y="78.80" width="13.40" height="11.60" fill="#f9b5a8" stroke="#c88878" stroke-width="0.3"/>
<rect x="498.20" y="78.80" width="13.40" height="11.60" fill="#f05a45" stroke="#c88878" stroke-width="0.3"/>
<rect x="350.80" y="90.40" width="13.40" height="11.60" fill="#f9b5a8" stroke="#c88878" stroke-width="0.3"/>
<rect x="364.20" y="90.40" width="13.40" height="11.60" fill="#f9b5a8" stroke="#c88878" stroke-width="0.3"/>
<rect x="377.60" y="90.40" width="13.40" height="11.60" fill="#f47a68" stroke="#c88878" stroke-width="0.3"/>
<rect x="391.00" y="90.40" width="13.40" height="11.60" fill="#f9b0a0" stroke="#c88878" stroke-width="0.3"/>
<rect x="404.40" y="90.40" width="13.40" height="11.60" fill="#f9b0a0" stroke="#c88878" stroke-width="0.3"/>
<rect x="417.80" y="90.40" width="13.40" height="11.60" fill="#f8a595" stroke="#c88878" stroke-width="0.3"/>
<rect x="431.20" y="90.40" width="13.40" height="11.60" fill="#f9b0a0" stroke="#c88878" stroke-width="0.3"/>
<rect x="444.60" y="90.40" width="13.40" height="11.60" fill="#f8a595" stroke="#c88878" stroke-width="0.3"/>
<rect x="458.00" y="90.40" width="13.40" height="11.60" fill="#f9b5a8" stroke="#c88878" stroke-width="0.3"/>
<rect x="471.40" y="90.40" width="13.40" height="11.60" fill="#f9b5a8" stroke="#c88878" stroke-width="0.3"/>
<rect x="484.80" y="90.40" width="13.40" height="11.60" fill="#f05a45" stroke="#c88878" stroke-width="0.3"/>
<rect x="498.20" y="90.40" width="13.40" height="11.60" fill="#f05a45" stroke="#c88878" stroke-width="0.3"/>
<rect x="350.80" y="102.00" width="13.40" height="11.60" fill="#fde5df" stroke="#c88878" stroke-width="0.3"/>
<rect x="364.20" y="102.00" width="13.40" height="11.60" fill="#fcdcd5" stroke="#c88878" stroke-width="0.3"/>
<rect x="377.60" y="102.00" width="13.40" height="11.60" fill="#f8a898" stroke="#c88878" stroke-width="0.3"/>
<rect x="391.00" y="102.00" width="13.40" height="11.60" fill="#fde5df" stroke="#c88878" stroke-width="0.3"/>
<rect x="404.40" y="102.00" width="13.40" height="11.60" fill="#fde5df" stroke="#c88878" stroke-width="0.3"/>
<rect x="417.80" y="102.00" width="13.40" height="11.60" fill="#fcd5cc" stroke="#c88878" stroke-width="0.3"/>
<rect x="431.20" y="102.00" width="13.40" height="11.60" fill="#fcd5cc" stroke="#c88878" stroke-width="0.3"/>
<rect x="444.60" y="102.00" width="13.40" height="11.60" fill="#f9b8aa" stroke="#c88878" stroke-width="0.3"/>
<rect x="458.00" y="102.00" width="13.40" height="11.60" fill="#fcd5cc" stroke="#c88878" stroke-width="0.3"/>
<rect x="471.40" y="102.00" width="13.40" height="11.60" fill="#fde5df" stroke="#c88878" stroke-width="0.3"/>
<rect x="484.80" y="102.00" width="13.40" height="11.60" fill="#f8a090" stroke="#c88878" stroke-width="0.3"/>
<rect x="498.20" y="102.00" width="13.40" height="11.60" fill="#f59080" stroke="#c88878" stroke-width="0.3"/>
<rect x="350.80" y="113.60" width="13.40" height="11.60" fill="#f9b0a0" stroke="#c88878" stroke-width="0.3"/>
<rect x="364.20" y="113.60" width="13.40" height="11.60" fill="#f8a898" stroke="#c88878" stroke-width="0.3"/>
<rect x="377.60" y="113.60" width="13.40" height="11.60" fill="#f26450" stroke="#c88878" stroke-width="0.3"/>
<rect x="391.00" y="113.60" width="13.40" height="11.60" fill="#f9b5a8" stroke="#c88878" stroke-width="0.3"/>
<rect x="404.40" y="113.60" width="13.40" height="11.60" fill="#f9b5a8" stroke="#c88878" stroke-width="0.3"/>
<rect x="417.80" y="113.60" width="13.40" height="11.60" fill="#f8a090" stroke="#c88878" stroke-width="0.3"/>
<rect x="431.20" y="113.60" width="13.40" height="11.60" fill="#f8a898" stroke="#c88878" stroke-width="0.3"/>
<rect x="444.60" y="113.60" width="13.40" height="11.60" fill="#f59585" stroke="#c88878" stroke-width="0.3"/>
<rect x="458.00" y="113.60" width="13.40" height="11.60" fill="#f9b5a8" stroke="#c88878" stroke-width="0.3"/>
<rect x="471.40" y="113.60" width="13.40" height="11.60" fill="#fcd5cc" stroke="#c88878" stroke-width="0.3"/>
<rect x="484.80" y="113.60" width="13.40" height="11.60" fill="#f05a45" stroke="#c88878" stroke-width="0.3"/>
<rect x="498.20" y="113.60" width="13.40" height="11.60" fill="#ec5040" stroke="#c88878" stroke-width="0.3"/>
<rect x="350.80" y="125.20" width="13.40" height="11.60" fill="#f8a595" stroke="#c88878" stroke-width="0.3"/>
<rect x="364.20" y="125.20" width="13.40" height="11.60" fill="#f8a090" stroke="#c88878" stroke-width="0.3"/>
<rect x="377.60" y="125.20" width="13.40" height="11.60" fill="#ee5a45" stroke="#c88878" stroke-width="0.3"/>
<rect x="391.00" y="125.20" width="13.40" height="11.60" fill="#f59080" stroke="#c88878" stroke-width="0.3"/>
<rect x="404.40" y="125.20" width="13.40" height="11.60" fill="#f8a595" stroke="#c88878" stroke-width="0.3"/>
<rect x="417.80" y="125.20" width="13.40" height="11.60" fill="#f26450" stroke="#c88878" stroke-width="0.3"/>
<rect x="431.20" y="125.20" width="13.40" height="11.60" fill="#f59080" stroke="#c88878" stroke-width="0.3"/>
<rect x="444.60" y="125.20" width="13.40" height="11.60" fill="#f47a68" stroke="#c88878" stroke-width="0.3"/>
<rect x="458.00" y="125.20" width="13.40" height="11.60" fill="#f8a595" stroke="#c88878" stroke-width="0.3"/>
<rect x="471.40" y="125.20" width="13.40" height="11.60" fill="#f9b0a0" stroke="#c88878" stroke-width="0.3"/>
<rect x="484.80" y="125.20" width="13.40" height="11.60" fill="#8b2a1a" stroke="#c88878" stroke-width="0.3"/>
<rect x="498.20" y="125.20" width="13.40" height="11.60" fill="#902c1c" stroke="#c88878" stroke-width="0.3"/>
<rect x="350.8" y="44.0" width="160.8" height="92.8" fill="none" stroke="#666" stroke-width="0.6"/>
<text x="397.7" y="86.6" font-size="5.5" font-weight="bold" text-anchor="middle" fill="#fff" >3.0</text>
<text x="491.5" y="86.6" font-size="5.5" font-weight="bold" text-anchor="middle" fill="#fff" >1.7</text>
<text x="504.9" y="86.6" font-size="5.5" font-weight="bold" text-anchor="middle" fill="#fff" >3.1</text>
<text x="397.7" y="133.0" font-size="5.5" font-weight="bold" text-anchor="middle" fill="#fff" >2.8</text>
<text x="491.5" y="133.0" font-size="5.5" font-weight="bold" text-anchor="middle" fill="#fff" >5.5</text>
<text x="504.9" y="133.0" font-size="5.5" font-weight="bold" text-anchor="middle" fill="#fff" >5.7</text>
<text x="517" y="51.8" font-size="5.3" text-anchor="start" fill="#222" >M1</text>
<text x="517" y="63.4" font-size="5.3" text-anchor="start" fill="#222" >M2</text>
<text x="517" y="75.0" font-size="5.3" text-anchor="start" fill="#222" >M3</text>
<text x="517" y="86.6" font-size="5.3" text-anchor="start" fill="#222" >M4</text>
<text x="517" y="98.2" font-size="5.3" text-anchor="start" fill="#222" >M1</text>
<text x="517" y="109.8" font-size="5.3" text-anchor="start" fill="#222" >M2</text>
<text x="517" y="121.4" font-size="5.3" text-anchor="start" fill="#222" >M3</text>
<text x="517" y="133.0" font-size="5.3" text-anchor="start" fill="#222" >M4</text>
<text x="0" y="0" font-size="5.4" fill="#222" transform="translate(356.9,42.2) rotate(-35)">Alpha</text>
<text x="0" y="0" font-size="5.4" fill="#222" transform="translate(370.3,42.2) rotate(-35)">Beta</text>
<text x="0" y="0" font-size="5.4" fill="#222" transform="translate(383.7,42.2) rotate(-35)">Gamma</text>
<text x="0" y="0" font-size="5.4" fill="#222" transform="translate(397.1,42.2) rotate(-35)">Delta</text>
<text x="0" y="0" font-size="5.4" fill="#222" transform="translate(410.5,42.2) rotate(-35)">Epsilon</text>
<text x="0" y="0" font-size="5.4" fill="#222" transform="translate(423.9,42.2) rotate(-35)">Eta</text>
<text x="0" y="0" font-size="5.4" fill="#222" transform="translate(437.3,42.2) rotate(-35)">Theta</text>
<text x="0" y="0" font-size="5.4" fill="#222" transform="translate(450.7,42.2) rotate(-35)">Iota</text>
<text x="0" y="0" font-size="5.4" fill="#222" transform="translate(464.1,42.2) rotate(-35)">Kappa</text>
<text x="0" y="0" font-size="5.4" fill="#222" transform="translate(477.5,42.2) rotate(-35)">Lambda</text>
<text x="0" y="0" font-size="5.4" fill="#222" transform="translate(490.9,42.2) rotate(-35)">Omicron BA.1</text>
<text x="0" y="0" font-size="5.4" fill="#222" transform="translate(504.3,42.2) rotate(-35)">Omicron BA.2</text>
<rect x="344" y="44" width="4.2" height="45" fill="#1f6fc0"/>
<rect x="344" y="91" width="4.2" height="45.6" fill="#1a9a48"/>
<text x="0" y="0" font-size="7.8" fill="#222" text-anchor="middle" textLength="22.7" lengthAdjust="spacingAndGlyphs" transform="translate(339.2,68.2) rotate(-90)">N2 mAb</text>
<text x="0" y="0" font-size="7.8" fill="#222" text-anchor="middle" textLength="22.7" lengthAdjust="spacingAndGlyphs" transform="translate(339.2,113.6) rotate(-90)">N7 mAb</text>
<defs><linearGradient id="cbar"><stop offset="0" stop-color="#fff8f6"/><stop offset="0.35" stop-color="#f8a090"/><stop offset="0.7" stop-color="#e65040"/><stop offset="1" stop-color="#8a2418"/></linearGradient></defs>
<rect x="372.50" y="148.5" width="6.74" height="5.3" fill="rgb(254, 242, 238)"/>
<rect x="379.19" y="148.5" width="6.74" height="5.3" fill="rgb(253, 227, 220)"/>
<rect x="385.89" y="148.5" width="6.74" height="5.3" fill="rgb(251, 212, 202)"/>
<rect x="392.58" y="148.5" width="6.74" height="5.3" fill="rgb(250, 198, 184)"/>
<rect x="399.28" y="148.5" width="6.74" height="5.3" fill="rgb(249, 183, 166)"/>
<rect x="405.97" y="148.5" width="6.74" height="5.3" fill="rgb(247, 168, 148)"/>
<rect x="412.67" y="148.5" width="6.74" height="5.3" fill="rgb(245, 153, 133)"/>
<rect x="419.36" y="148.5" width="6.74" height="5.3" fill="rgb(243, 138, 118)"/>
<rect x="426.06" y="148.5" width="6.74" height="5.3" fill="rgb(241, 124, 104)"/>
<rect x="432.75" y="148.5" width="6.74" height="5.3" fill="rgb(238, 109, 89)"/>
<rect x="439.44" y="148.5" width="6.74" height="5.3" fill="rgb(236, 94, 74)"/>
<rect x="446.14" y="148.5" width="6.74" height="5.3" fill="rgb(228, 83, 65)"/>
<rect x="452.83" y="148.5" width="6.74" height="5.3" fill="rgb(218, 74, 58)"/>
<rect x="459.53" y="148.5" width="6.74" height="5.3" fill="rgb(208, 66, 52)"/>
<rect x="466.22" y="148.5" width="6.74" height="5.3" fill="rgb(198, 57, 45)"/>
<rect x="472.92" y="148.5" width="6.74" height="5.3" fill="rgb(184, 47, 38)"/>
<rect x="479.61" y="148.5" width="6.74" height="5.3" fill="rgb(154, 36, 29)"/>
<rect x="486.31" y="148.5" width="6.74" height="5.3" fill="rgb(124, 25, 20)"/>
<rect x="372.5" y="148.5" width="120.5" height="5.3" fill="none" stroke="#555" stroke-width="0.5"/>
<text x="370.5" y="153.4" font-size="5.3" font-weight="bold" text-anchor="end" fill="#222" >0.5</text>
<text x="495" y="153.4" font-size="5.3" text-anchor="start" fill="#222" >5.7</text>
<text x="432.7" y="165.2" font-size="7.3" text-anchor="middle" fill="#222" textLength="69.4" lengthAdjust="spacingAndGlyphs" >Wavelength Shift (nm)</text>
<defs><linearGradient id="dtop" x1="0" y1="0" x2="1" y2="1"><stop offset="0" stop-color="#eef2f8"/><stop offset="1" stop-color="#f8fafd"/></linearGradient><linearGradient id="dfront" x1="0" y1="0" x2="0" y2="1"><stop offset="0" stop-color="#d8e0ea"/><stop offset="1" stop-color="#a8b2c0"/></linearGradient><clipPath id="dplate"><polygon points="40,231.5 103,227.5 140,247 60,254.5"/></clipPath><linearGradient id="dlav" x1="0" y1="0" x2="0" y2="1"><stop offset="0" stop-color="#d4d4f0"/><stop offset="1" stop-color="#b4b4e2"/></linearGradient></defs>
<polygon points="16.5,268 114,257 158,298.5 16.5,322" fill="url(#dtop)" stroke="#c0c8d4" stroke-width="0.5"/>
<polygon points="16.5,322 158,298.5 158,309 16.5,332" fill="url(#dfront)"/>
<line x1="48" y1="289.0" x2="110" y2="281.0" stroke="#fbe0d4" stroke-width="1.8"/>
<line x1="51" y1="294.8" x2="115" y2="286.8" stroke="#fbe0d4" stroke-width="1.8"/>
<line x1="54" y1="300.6" x2="120" y2="292.6" stroke="#fbe0d4" stroke-width="1.8"/>
<line x1="57" y1="306.4" x2="125" y2="298.4" stroke="#fbe0d4" stroke-width="1.8"/>
<line x1="60" y1="312.2" x2="130" y2="304.2" stroke="#fbe0d4" stroke-width="1.8"/>
<polyline points="35.4,270.6 35.4,277.6 95.4,270.4 96.4,262.4" fill="none" stroke="#88c0ec" stroke-width="2.4" stroke-linejoin="round"/>
<polyline points="35.4,270.6 35.4,277.6 95.4,270.4 96.4,262.4" fill="none" stroke="#d4ebfb" stroke-width="0.7" stroke-linejoin="round"/>
<polyline points="41.0,274.0 41.0,281.0 108.0,273.0 109.0,265.0" fill="none" stroke="#88c0ec" stroke-width="2.4" stroke-linejoin="round"/>
<polyline points="41.0,274.0 41.0,281.0 108.0,273.0 109.0,265.0" fill="none" stroke="#d4ebfb" stroke-width="0.7" stroke-linejoin="round"/>
<polyline points="36.5,279.5 36.5,286.5 110.5,277.6 111.5,269.6" fill="none" stroke="#88c0ec" stroke-width="2.4" stroke-linejoin="round"/>
<polyline points="36.5,279.5 36.5,286.5 110.5,277.6 111.5,269.6" fill="none" stroke="#d4ebfb" stroke-width="0.7" stroke-linejoin="round"/>
<polyline points="43.2,283.9 43.2,290.9 124.2,281.2 125.2,273.2" fill="none" stroke="#88c0ec" stroke-width="2.4" stroke-linejoin="round"/>
<polyline points="43.2,283.9 43.2,290.9 124.2,281.2 125.2,273.2" fill="none" stroke="#d4ebfb" stroke-width="0.7" stroke-linejoin="round"/>
<polyline points="38.8,289.4 38.8,296.4 126.8,285.8 127.8,277.8" fill="none" stroke="#88c0ec" stroke-width="2.4" stroke-linejoin="round"/>
<polyline points="38.8,289.4 38.8,296.4 126.8,285.8 127.8,277.8" fill="none" stroke="#d4ebfb" stroke-width="0.7" stroke-linejoin="round"/>
<polyline points="46.5,296.0 46.5,303.0 141.5,291.6 142.5,283.6" fill="none" stroke="#88c0ec" stroke-width="2.4" stroke-linejoin="round"/>
<polyline points="46.5,296.0 46.5,303.0 141.5,291.6 142.5,283.6" fill="none" stroke="#d4ebfb" stroke-width="0.7" stroke-linejoin="round"/>
<circle cx="23" cy="276" r="1.4" fill="#f4a060"/>
<circle cx="23" cy="290" r="1.4" fill="#f4a060"/>
<circle cx="23" cy="304" r="1.4" fill="#f4a060"/>
<circle cx="35" cy="317" r="1.4" fill="#f4a060"/>
<circle cx="111" cy="264" r="1.4" fill="#f4a060"/>
<circle cx="102" cy="266" r="1.4" fill="#f4a060"/>
<circle cx="130" cy="283" r="1.4" fill="#f4a060"/>
<circle cx="131" cy="297" r="1.4" fill="#f4a060"/>
<circle cx="122" cy="305" r="1.4" fill="#f4a060"/>
<circle cx="153" cy="294" r="1.4" fill="#f4a060"/>
<circle cx="118" cy="282" r="1.4" fill="#f4a060"/>
<text x="18.2" y="271.2" font-size="5.8" font-weight="bold" text-anchor="start" fill="#222" >Fluidic channel</text>
<text x="0" y="0" font-size="6.2" font-weight="bold" fill="#222" textLength="69" lengthAdjust="spacingAndGlyphs" transform="translate(52.7,318.4) rotate(-8.3)">Gold nanorod Microarray</text>
<text x="135.9" y="305.6" font-size="6" font-weight="bold" text-anchor="start" fill="#222" textLength="16" lengthAdjust="spacingAndGlyphs" >PDMS</text>
<text x="135.9" y="312.4" font-size="6" font-weight="bold" text-anchor="start" fill="#222" textLength="16" lengthAdjust="spacingAndGlyphs" >Glass</text>
<polyline points="60,252 88,283 96,285 128,250" fill="none" stroke="#222" stroke-width="0.6" stroke-dasharray="2,1.5"/>
<ellipse cx="92" cy="283" rx="5" ry="2" fill="none" stroke="#222" stroke-width="0.5" stroke-dasharray="1.5,1"/>
<polygon points="40,231.5 103,227.5 140,247 60,254.5" fill="#a8a8a8" stroke="#8a8a8a" stroke-width="0.4"/>
<line x1="44.0" y1="231.2" x2="64.0" y2="252.2" stroke="#f4e41a" stroke-width="1.2" clip-path="url(#dplate)"/>
<line x1="52.2" y1="230.7" x2="72.2" y2="251.7" stroke="#f4e41a" stroke-width="1.2" clip-path="url(#dplate)"/>
<line x1="60.4" y1="230.2" x2="80.4" y2="251.2" stroke="#f4e41a" stroke-width="1.2" clip-path="url(#dplate)"/>
<line x1="68.6" y1="229.7" x2="88.6" y2="250.7" stroke="#f4e41a" stroke-width="1.2" clip-path="url(#dplate)"/>
<line x1="76.8" y1="229.2" x2="96.8" y2="250.2" stroke="#f4e41a" stroke-width="1.2" clip-path="url(#dplate)"/>
<line x1="85.0" y1="228.7" x2="105.0" y2="249.7" stroke="#f4e41a" stroke-width="1.2" clip-path="url(#dplate)"/>
<line x1="93.2" y1="228.2" x2="113.2" y2="249.2" stroke="#f4e41a" stroke-width="1.2" clip-path="url(#dplate)"/>
<line x1="101.4" y1="227.7" x2="121.4" y2="248.7" stroke="#f4e41a" stroke-width="1.2" clip-path="url(#dplate)"/>
<line x1="109.6" y1="227.2" x2="129.6" y2="248.2" stroke="#f4e41a" stroke-width="1.2" clip-path="url(#dplate)"/>
<path d="M50.8,231.2 L53.3,233.6 L55.8,231.2 M53.3,233.6 L53.3,236.6" stroke="#8a2aa8" stroke-width="1.7" fill="none"/>
<path d="M61.1,230.3 L63.6,232.7 L66.1,230.3 M63.6,232.7 L63.6,235.7" stroke="#d41c1c" stroke-width="1.7" fill="none"/>
<path d="M71.4,229.4 L73.9,231.8 L76.4,229.4 M73.9,231.8 L73.9,234.8" stroke="#7a6a4a" stroke-width="1.7" fill="none"/>
<path d="M81.7,228.6 L84.2,231.0 L86.7,228.6 M84.2,231.0 L84.2,234.0" stroke="#c89020" stroke-width="1.7" fill="none"/>
<path d="M92.0,227.7 L94.5,230.1 L97.0,227.7 M94.5,230.1 L94.5,233.1" stroke="#2030c0" stroke-width="1.7" fill="none"/>
<path d="M102.3,226.8 L104.8,229.2 L107.3,226.8 M104.8,229.2 L104.8,232.2" stroke="#20a040" stroke-width="1.7" fill="none"/>
<path d="M55.6,235.6 L58.1,238.0 L60.6,235.6 M58.1,238.0 L58.1,241.0" stroke="#8a2aa8" stroke-width="1.7" fill="none"/>
<path d="M66.8,234.8 L69.3,237.2 L71.8,234.8 M69.3,237.2 L69.3,240.2" stroke="#d41c1c" stroke-width="1.7" fill="none"/>
<path d="M78.0,234.1 L80.5,236.5 L83.0,234.1 M80.5,236.5 L80.5,239.5" stroke="#7a6a4a" stroke-width="1.7" fill="none"/>
<path d="M89.2,233.3 L91.7,235.7 L94.2,233.3 M91.7,235.7 L91.7,238.7" stroke="#c89020" stroke-width="1.7" fill="none"/>
<path d="M100.4,232.6 L102.9,235.0 L105.4,232.6 M102.9,235.0 L102.9,238.0" stroke="#2030c0" stroke-width="1.7" fill="none"/>
<path d="M111.6,231.8 L114.1,234.2 L116.6,231.8 M114.1,234.2 L114.1,237.2" stroke="#20a040" stroke-width="1.7" fill="none"/>
<path d="M60.4,240.0 L62.9,242.4 L65.4,240.0 M62.9,242.4 L62.9,245.4" stroke="#8a2aa8" stroke-width="1.7" fill="none"/>
<path d="M72.5,239.4 L75.0,241.8 L77.5,239.4 M75.0,241.8 L75.0,244.8" stroke="#d41c1c" stroke-width="1.7" fill="none"/>
<path d="M84.6,238.7 L87.1,241.1 L89.6,238.7 M87.1,241.1 L87.1,244.1" stroke="#7a6a4a" stroke-width="1.7" fill="none"/>
<path d="M96.7,238.1 L99.2,240.5 L101.7,238.1 M99.2,240.5 L99.2,243.5" stroke="#c89020" stroke-width="1.7" fill="none"/>
<path d="M108.8,237.4 L111.3,239.8 L113.8,237.4 M111.3,239.8 L111.3,242.8" stroke="#2030c0" stroke-width="1.7" fill="none"/>
<path d="M120.9,236.8 L123.4,239.2 L125.9,236.8 M123.4,239.2 L123.4,242.2" stroke="#20a040" stroke-width="1.7" fill="none"/>
<text x="117.5" y="254.4" font-size="5.2" font-weight="bold" text-anchor="start" fill="#222" >Glass</text>
<polygon points="39,204 105,203.3 141,216.5 141,225 57,225.3 39.5,212" fill="#e6e6ee" stroke="#b4b4c4" stroke-width="0.4"/>
<polygon points="41,210.5 118,207 140,218.5 140,224.3 57.5,224.6" fill="url(#dlav)"/>
<text x="44.5" y="210" font-size="5.2" font-weight="bold" text-anchor="start" fill="#222" >PDMS</text>
<text x="67.9" y="222" font-size="5.7" font-weight="bold" text-anchor="start" fill="#222" >Fluidic channel</text>
<polygon points="21,224.5 33.5,224.5 33.5,222.8 38.5,225.9 33.5,229 33.5,227.3 21,227.3" fill="#80c4f0" stroke="#2a80c8" stroke-width="0.6"/>
<text x="17.7" y="234.2" font-size="5.6" font-weight="bold" text-anchor="start" fill="#222" >Sample</text>
<text x="17.7" y="240.6" font-size="5.6" font-weight="bold" text-anchor="start" fill="#222" >flow</text>
<text x="142.4" y="234.2" font-size="5.7" font-weight="bold" text-anchor="start" fill="#222" >Imaging</text>
<rect x="147.9" y="240.4" width="8.8" height="4" fill="#111"/><polygon points="156,238.4 160.8,242.4 156,246.2" fill="#111"/>
<rect x="171.6" y="212.9" width="115" height="111.1" fill="#fff" stroke="#333" stroke-width="0.8"/>
<rect x="174.2" y="216" width="110.1" height="36.8" fill="#050000"/>
<rect x="184.8" y="221.5" width="6" height="22.8" fill="#e01010"/>
<rect x="201.0" y="221.5" width="6" height="22.8" fill="#e01010"/>
<rect x="217.2" y="221.5" width="6" height="22.8" fill="#e01010"/>
<rect x="233.4" y="221.5" width="6" height="22.8" fill="#e01010"/>
<rect x="249.6" y="221.5" width="6" height="22.8" fill="#e01010"/>
<rect x="265.8" y="221.5" width="6" height="22.8" fill="#e01010"/>
<polyline points="186,253.5 204.3,245 220.5,253.5" fill="none" stroke="#fff" stroke-width="0.9" stroke-dasharray="2,1.3"/>
<text x="278" y="250" font-size="4.5" font-weight="bold" text-anchor="middle" fill="#fff" >50 μm</text>
<rect x="273" y="251" width="10" height="0.8" fill="#fff"/>
<rect x="174.2" y="254" width="55.3" height="66.4" fill="#3c0505"/>
<rect x="174.2" y="254" width="11.5" height="66.4" fill="#4a0707"/>
<rect x="185.7" y="254" width="34.5" height="66.4" fill="#8c0c0c"/>
<circle cx="207.3" cy="303.1" r="0.9" fill="#f83030"/>
<circle cx="186.5" cy="285.0" r="1.0" fill="#ff2a2a"/>
<circle cx="217.0" cy="261.9" r="0.7" fill="#e81818"/>
<circle cx="198.8" cy="261.2" r="0.6" fill="#e81818"/>
<circle cx="199.8" cy="266.4" r="0.9" fill="#600404"/>
<circle cx="191.1" cy="306.7" r="0.6" fill="#f83030"/>
<circle cx="201.1" cy="263.2" r="1.0" fill="#ff2a2a"/>
<circle cx="192.8" cy="268.6" r="1.0" fill="#e81818"/>
<circle cx="195.6" cy="317.5" r="0.8" fill="#e81818"/>
<circle cx="191.9" cy="317.9" r="0.6" fill="#600404"/>
<circle cx="196.0" cy="278.2" r="0.6" fill="#e81818"/>
<circle cx="194.7" cy="276.2" r="0.9" fill="#f83030"/>
<circle cx="185.6" cy="298.9" r="0.7" fill="#d01010"/>
<circle cx="197.9" cy="274.5" r="0.8" fill="#e81818"/>
<circle cx="202.3" cy="300.7" r="0.5" fill="#ff2a2a"/>
<circle cx="218.7" cy="277.9" r="0.7" fill="#f83030"/>
<circle cx="213.1" cy="278.5" r="0.8" fill="#ff2a2a"/>
<circle cx="201.3" cy="300.9" r="0.8" fill="#e81818"/>
<circle cx="189.7" cy="270.6" r="0.9" fill="#600404"/>
<circle cx="197.6" cy="277.7" r="0.8" fill="#600404"/>
<circle cx="189.3" cy="303.5" r="0.9" fill="#d01010"/>
<circle cx="186.8" cy="316.4" r="0.5" fill="#d01010"/>
<circle cx="203.5" cy="278.3" r="0.6" fill="#d01010"/>
<circle cx="217.8" cy="290.2" r="0.7" fill="#d01010"/>
<circle cx="196.2" cy="306.8" r="0.8" fill="#d01010"/>
<circle cx="220.4" cy="265.1" r="0.5" fill="#f83030"/>
<circle cx="204.2" cy="281.1" r="0.6" fill="#f83030"/>
<circle cx="197.5" cy="270.9" r="0.8" fill="#e81818"/>
<circle cx="187.4" cy="314.5" r="0.5" fill="#600404"/>
<circle cx="197.2" cy="268.1" r="1.0" fill="#f83030"/>
<circle cx="218.7" cy="295.8" r="0.9" fill="#ff2a2a"/>
<circle cx="191.4" cy="278.9" r="0.5" fill="#600404"/>
<circle cx="195.8" cy="284.2" r="1.0" fill="#e81818"/>
<circle cx="219.7" cy="284.2" r="0.7" fill="#d01010"/>
<circle cx="202.3" cy="273.6" r="0.7" fill="#e81818"/>
<circle cx="189.4" cy="308.3" r="0.8" fill="#e81818"/>
<circle cx="207.4" cy="287.2" r="0.7" fill="#ff2a2a"/>
<circle cx="202.7" cy="288.2" r="0.8" fill="#f83030"/>
<circle cx="198.1" cy="306.0" r="0.9" fill="#f83030"/>
<circle cx="208.7" cy="304.3" r="0.7" fill="#d01010"/>
<circle cx="214.7" cy="271.8" r="1.0" fill="#d01010"/>
<circle cx="219.0" cy="276.8" r="0.6" fill="#ff2a2a"/>
<circle cx="202.1" cy="305.2" r="0.7" fill="#d01010"/>
<circle cx="201.7" cy="308.0" r="0.8" fill="#d01010"/>
<circle cx="197.7" cy="296.7" r="0.9" fill="#600404"/>
<circle cx="197.8" cy="309.7" r="0.9" fill="#600404"/>
<circle cx="219.7" cy="317.2" r="0.8" fill="#f83030"/>
<circle cx="219.8" cy="267.5" r="0.7" fill="#600404"/>
<circle cx="195.4" cy="259.7" r="0.8" fill="#600404"/>
<circle cx="191.5" cy="305.6" r="0.8" fill="#600404"/>
<circle cx="196.1" cy="290.7" r="0.9" fill="#d01010"/>
<circle cx="210.7" cy="256.3" r="0.6" fill="#600404"/>
<circle cx="207.3" cy="266.3" r="0.9" fill="#e81818"/>
<circle cx="207.6" cy="257.2" r="0.7" fill="#e81818"/>
<circle cx="191.3" cy="312.9" r="0.6" fill="#e81818"/>
<circle cx="202.4" cy="290.4" r="0.7" fill="#d01010"/>
<circle cx="198.8" cy="294.6" r="0.8" fill="#e81818"/>
<circle cx="210.6" cy="279.0" r="0.7" fill="#d01010"/>
<circle cx="215.5" cy="311.2" r="0.8" fill="#f83030"/>
<circle cx="198.6" cy="256.9" r="0.8" fill="#ff2a2a"/>
<circle cx="195.8" cy="288.1" r="1.0" fill="#d01010"/>
<circle cx="219.0" cy="308.1" r="0.7" fill="#f83030"/>
<circle cx="208.0" cy="278.7" r="0.6" fill="#f83030"/>
<circle cx="198.9" cy="285.7" r="0.6" fill="#e81818"/>
<circle cx="206.8" cy="277.5" r="0.9" fill="#ff2a2a"/>
<circle cx="198.9" cy="275.9" r="1.0" fill="#f83030"/>
<circle cx="190.4" cy="295.7" r="0.9" fill="#600404"/>
<circle cx="200.5" cy="318.5" r="0.7" fill="#600404"/>
<circle cx="219.5" cy="279.4" r="1.0" fill="#e81818"/>
<circle cx="206.4" cy="271.5" r="1.0" fill="#600404"/>
<circle cx="194.3" cy="255.8" r="1.0" fill="#d01010"/>
<circle cx="202.7" cy="273.3" r="0.7" fill="#ff2a2a"/>
<circle cx="208.6" cy="317.4" r="0.6" fill="#ff2a2a"/>
<circle cx="212.9" cy="308.7" r="0.5" fill="#f83030"/>
<circle cx="205.1" cy="270.4" r="0.7" fill="#ff2a2a"/>
<circle cx="194.1" cy="272.0" r="0.6" fill="#d01010"/>
<circle cx="195.8" cy="294.3" r="0.7" fill="#f83030"/>
<circle cx="216.3" cy="313.1" r="0.5" fill="#e81818"/>
<circle cx="196.0" cy="289.4" r="0.7" fill="#d01010"/>
<circle cx="211.1" cy="256.2" r="0.7" fill="#f83030"/>
<circle cx="190.1" cy="254.7" r="0.8" fill="#ff2a2a"/>
<circle cx="216.6" cy="290.2" r="0.5" fill="#600404"/>
<circle cx="206.3" cy="299.6" r="1.0" fill="#600404"/>
<circle cx="215.6" cy="309.6" r="0.7" fill="#e81818"/>
<circle cx="217.0" cy="285.0" r="0.9" fill="#d01010"/>
<circle cx="214.8" cy="300.0" r="0.7" fill="#d01010"/>
<circle cx="208.2" cy="285.4" r="0.7" fill="#e81818"/>
<circle cx="202.2" cy="290.5" r="0.7" fill="#d01010"/>
<circle cx="204.3" cy="282.4" r="0.8" fill="#ff2a2a"/>
<circle cx="187.9" cy="269.6" r="0.9" fill="#ff2a2a"/>
<circle cx="208.7" cy="256.2" r="0.9" fill="#ff2a2a"/>
<circle cx="220.4" cy="300.4" r="0.5" fill="#ff2a2a"/>
<circle cx="193.2" cy="296.8" r="1.0" fill="#e81818"/>
<circle cx="220.3" cy="300.7" r="0.7" fill="#e81818"/>
<circle cx="206.9" cy="281.6" r="0.6" fill="#f83030"/>
<circle cx="193.0" cy="290.9" r="0.8" fill="#ff2a2a"/>
<circle cx="195.3" cy="291.9" r="0.6" fill="#600404"/>
<circle cx="216.2" cy="263.3" r="0.7" fill="#d01010"/>
<circle cx="209.5" cy="286.6" r="0.7" fill="#d01010"/>
<circle cx="217.5" cy="263.6" r="0.6" fill="#f83030"/>
<circle cx="207.6" cy="287.6" r="1.0" fill="#f83030"/>
<circle cx="204.7" cy="268.9" r="0.5" fill="#e81818"/>
<circle cx="194.4" cy="303.7" r="0.8" fill="#e81818"/>
<circle cx="213.8" cy="311.1" r="0.7" fill="#600404"/>
<circle cx="191.8" cy="301.2" r="0.8" fill="#ff2a2a"/>
<circle cx="205.6" cy="256.9" r="0.9" fill="#f83030"/>
<circle cx="206.3" cy="270.1" r="0.9" fill="#600404"/>
<circle cx="219.2" cy="261.5" r="0.8" fill="#f83030"/>
<circle cx="210.9" cy="258.0" r="0.6" fill="#600404"/>
<circle cx="209.3" cy="269.1" r="0.6" fill="#600404"/>
<circle cx="214.2" cy="263.7" r="0.8" fill="#d01010"/>
<circle cx="214.8" cy="273.5" r="1.0" fill="#d01010"/>
<circle cx="213.4" cy="279.3" r="0.9" fill="#d01010"/>
<circle cx="208.2" cy="307.2" r="0.7" fill="#d01010"/>
<circle cx="203.6" cy="293.3" r="0.8" fill="#e81818"/>
<circle cx="199.3" cy="260.9" r="0.5" fill="#e81818"/>
<circle cx="192.3" cy="286.6" r="1.0" fill="#d01010"/>
<circle cx="185.5" cy="285.3" r="0.9" fill="#f83030"/>
<circle cx="217.8" cy="275.7" r="0.7" fill="#e81818"/>
<circle cx="190.9" cy="264.9" r="0.7" fill="#600404"/>
<circle cx="215.9" cy="285.3" r="0.8" fill="#ff2a2a"/>
<circle cx="195.2" cy="265.1" r="0.6" fill="#e81818"/>
<circle cx="186.7" cy="313.2" r="0.7" fill="#d01010"/>
<circle cx="196.6" cy="258.4" r="0.5" fill="#600404"/>
<circle cx="202.0" cy="316.4" r="0.6" fill="#d01010"/>
<circle cx="195.7" cy="298.7" r="0.9" fill="#e81818"/>
<circle cx="186.7" cy="301.3" r="0.8" fill="#ff2a2a"/>
<circle cx="207.1" cy="314.2" r="0.9" fill="#d01010"/>
<circle cx="192.0" cy="278.2" r="0.5" fill="#600404"/>
<circle cx="191.2" cy="270.3" r="0.8" fill="#ff2a2a"/>
<circle cx="208.1" cy="282.7" r="1.0" fill="#ff2a2a"/>
<circle cx="201.7" cy="284.2" r="0.8" fill="#e81818"/>
<circle cx="187.1" cy="290.4" r="1.0" fill="#f83030"/>
<circle cx="205.3" cy="316.0" r="0.9" fill="#e81818"/>
<circle cx="217.0" cy="286.7" r="1.0" fill="#ff2a2a"/>
<circle cx="209.4" cy="296.7" r="0.7" fill="#ff2a2a"/>
<circle cx="187.2" cy="309.1" r="0.7" fill="#ff2a2a"/>
<circle cx="216.1" cy="316.7" r="0.6" fill="#f83030"/>
<circle cx="207.9" cy="266.8" r="0.6" fill="#d01010"/>
<circle cx="213.2" cy="260.2" r="1.0" fill="#e81818"/>
<circle cx="206.4" cy="310.6" r="0.6" fill="#ff2a2a"/>
<circle cx="200.9" cy="277.9" r="0.7" fill="#600404"/>
<circle cx="203.8" cy="263.2" r="0.5" fill="#d01010"/>
<circle cx="209.6" cy="312.9" r="1.0" fill="#f83030"/>
<circle cx="189.5" cy="274.9" r="0.5" fill="#d01010"/>
<circle cx="214.2" cy="275.0" r="0.6" fill="#ff2a2a"/>
<circle cx="202.0" cy="300.2" r="0.9" fill="#f83030"/>
<circle cx="208.8" cy="272.6" r="0.7" fill="#e81818"/>
<circle cx="187.2" cy="267.6" r="0.6" fill="#d01010"/>
<circle cx="216.5" cy="259.2" r="0.9" fill="#600404"/>
<circle cx="211.8" cy="290.9" r="0.9" fill="#e81818"/>
<circle cx="205.6" cy="283.5" r="0.9" fill="#ff2a2a"/>
<circle cx="211.0" cy="300.4" r="0.6" fill="#600404"/>
<circle cx="205.2" cy="275.5" r="0.7" fill="#e81818"/>
<circle cx="194.7" cy="298.8" r="0.6" fill="#ff2a2a"/>
<circle cx="204.5" cy="302.9" r="0.5" fill="#ff2a2a"/>
<circle cx="187.3" cy="263.0" r="0.7" fill="#d01010"/>
<circle cx="218.7" cy="294.6" r="0.6" fill="#600404"/>
<circle cx="189.9" cy="267.7" r="0.7" fill="#e81818"/>
<circle cx="206.0" cy="308.7" r="0.9" fill="#ff2a2a"/>
<circle cx="194.9" cy="294.2" r="0.8" fill="#e81818"/>
<circle cx="201.1" cy="316.0" r="0.9" fill="#ff2a2a"/>
<circle cx="197.2" cy="283.7" r="0.6" fill="#f83030"/>
<circle cx="200.7" cy="283.4" r="0.9" fill="#e81818"/>
<circle cx="204.1" cy="318.0" r="0.8" fill="#ff2a2a"/>
<circle cx="189.9" cy="310.2" r="0.8" fill="#e81818"/>
<circle cx="219.7" cy="256.7" r="0.8" fill="#600404"/>
<circle cx="210.2" cy="277.7" r="0.7" fill="#e81818"/>
<circle cx="195.2" cy="267.7" r="0.8" fill="#d01010"/>
<circle cx="212.3" cy="305.9" r="0.7" fill="#e81818"/>
<circle cx="214.0" cy="297.9" r="1.0" fill="#ff2a2a"/>
<circle cx="207.1" cy="280.8" r="0.6" fill="#e81818"/>
<circle cx="202.7" cy="257.0" r="0.6" fill="#ff2a2a"/>
<circle cx="211.9" cy="272.9" r="1.0" fill="#d01010"/>
<circle cx="202.2" cy="285.3" r="0.8" fill="#ff2a2a"/>
<circle cx="213.5" cy="279.2" r="0.5" fill="#f83030"/>
<circle cx="206.7" cy="295.2" r="0.9" fill="#ff2a2a"/>
<circle cx="196.6" cy="256.3" r="0.7" fill="#600404"/>
<circle cx="203.0" cy="290.2" r="0.8" fill="#600404"/>
<circle cx="219.9" cy="307.9" r="1.0" fill="#f83030"/>
<circle cx="209.0" cy="289.7" r="0.9" fill="#d01010"/>
<circle cx="219.0" cy="255.8" r="0.9" fill="#e81818"/>
<circle cx="195.4" cy="259.6" r="0.5" fill="#d01010"/>
<circle cx="206.9" cy="311.0" r="1.0" fill="#600404"/>
<circle cx="196.2" cy="315.4" r="0.6" fill="#e81818"/>
<circle cx="188.0" cy="303.8" r="0.8" fill="#d01010"/>
<circle cx="216.9" cy="299.5" r="0.9" fill="#f83030"/>
<circle cx="206.9" cy="268.2" r="0.8" fill="#ff2a2a"/>
<circle cx="193.9" cy="318.3" r="0.8" fill="#600404"/>
<circle cx="219.4" cy="298.5" r="0.7" fill="#f83030"/>
<circle cx="217.0" cy="314.1" r="0.8" fill="#600404"/>
<circle cx="196.8" cy="309.7" r="0.9" fill="#d01010"/>
<circle cx="194.2" cy="261.1" r="0.6" fill="#d01010"/>
<circle cx="213.4" cy="259.6" r="1.0" fill="#ff2a2a"/>
<circle cx="207.6" cy="304.7" r="0.6" fill="#ff2a2a"/>
<circle cx="205.4" cy="295.5" r="0.8" fill="#f83030"/>
<circle cx="211.0" cy="281.8" r="0.7" fill="#f83030"/>
<circle cx="206.4" cy="270.5" r="0.7" fill="#ff2a2a"/>
<circle cx="206.7" cy="317.8" r="0.6" fill="#ff2a2a"/>
<circle cx="190.7" cy="273.9" r="0.8" fill="#f83030"/>
<circle cx="191.9" cy="267.0" r="0.8" fill="#d01010"/>
<circle cx="211.0" cy="258.5" r="0.7" fill="#f83030"/>
<circle cx="219.0" cy="275.4" r="0.9" fill="#600404"/>
<circle cx="217.9" cy="269.5" r="0.8" fill="#600404"/>
<circle cx="214.9" cy="254.6" r="0.8" fill="#ff2a2a"/>
<circle cx="188.7" cy="264.5" r="0.8" fill="#ff2a2a"/>
<circle cx="205.6" cy="283.4" r="0.7" fill="#e81818"/>
<circle cx="210.5" cy="315.0" r="1.0" fill="#ff2a2a"/>
<circle cx="198.3" cy="307.8" r="0.6" fill="#d01010"/>
<circle cx="198.6" cy="284.5" r="0.8" fill="#ff2a2a"/>
<circle cx="194.1" cy="316.2" r="0.7" fill="#ff2a2a"/>
<circle cx="189.6" cy="293.6" r="0.7" fill="#ff2a2a"/>
<circle cx="202.8" cy="317.6" r="1.0" fill="#ff2a2a"/>
<circle cx="202.7" cy="315.9" r="0.9" fill="#ff2a2a"/>
<circle cx="189.6" cy="285.9" r="0.7" fill="#e81818"/>
<circle cx="217.6" cy="279.5" r="0.6" fill="#600404"/>
<circle cx="208.0" cy="304.7" r="0.5" fill="#ff2a2a"/>
<circle cx="195.9" cy="276.6" r="0.9" fill="#f83030"/>
<circle cx="200.6" cy="268.9" r="1.0" fill="#d01010"/>
<circle cx="208.8" cy="259.3" r="0.6" fill="#ff2a2a"/>
<circle cx="204.9" cy="282.8" r="0.6" fill="#600404"/>
<circle cx="215.4" cy="270.5" r="0.7" fill="#e81818"/>
<circle cx="213.9" cy="254.8" r="0.9" fill="#d01010"/>
<circle cx="213.9" cy="255.9" r="0.8" fill="#600404"/>
<circle cx="215.9" cy="259.6" r="1.0" fill="#e81818"/>
<circle cx="219.6" cy="283.5" r="0.7" fill="#ff2a2a"/>
<circle cx="219.0" cy="293.7" r="0.9" fill="#600404"/>
<circle cx="203.3" cy="258.0" r="0.7" fill="#f83030"/>
<circle cx="200.7" cy="293.4" r="1.0" fill="#f83030"/>
<circle cx="207.8" cy="256.9" r="0.5" fill="#600404"/>
<circle cx="213.9" cy="308.4" r="0.7" fill="#600404"/>
<circle cx="186.0" cy="307.9" r="0.6" fill="#d01010"/>
<circle cx="190.7" cy="305.7" r="0.7" fill="#ff2a2a"/>
<circle cx="220.3" cy="268.7" r="0.7" fill="#d01010"/>
<circle cx="190.4" cy="278.3" r="0.5" fill="#ff2a2a"/>
<circle cx="212.4" cy="304.2" r="0.5" fill="#600404"/>
<circle cx="186.8" cy="281.3" r="0.6" fill="#ff2a2a"/>
<circle cx="211.7" cy="286.8" r="0.7" fill="#600404"/>
<circle cx="190.3" cy="270.0" r="1.0" fill="#f83030"/>
<circle cx="186.6" cy="266.6" r="0.7" fill="#d01010"/>
<circle cx="190.1" cy="297.3" r="0.7" fill="#e81818"/>
<circle cx="190.8" cy="288.5" r="1.0" fill="#f83030"/>
<circle cx="188.7" cy="261.8" r="0.8" fill="#d01010"/>
<circle cx="196.1" cy="313.9" r="0.8" fill="#600404"/>
<circle cx="219.3" cy="270.3" r="0.8" fill="#d01010"/>
<circle cx="186.1" cy="255.3" r="0.7" fill="#e81818"/>
<circle cx="202.3" cy="300.7" r="0.5" fill="#e81818"/>
<circle cx="200.2" cy="287.5" r="0.8" fill="#d01010"/>
<circle cx="187.5" cy="287.3" r="0.5" fill="#600404"/>
<circle cx="216.4" cy="305.4" r="0.8" fill="#600404"/>
<circle cx="201.3" cy="297.4" r="1.0" fill="#d01010"/>
<circle cx="205.4" cy="272.6" r="0.8" fill="#f83030"/>
<circle cx="218.7" cy="319.2" r="0.7" fill="#e81818"/>
<circle cx="206.2" cy="299.2" r="0.8" fill="#ff2a2a"/>
<circle cx="211.3" cy="289.1" r="0.7" fill="#f83030"/>
<circle cx="196.0" cy="290.6" r="0.9" fill="#e81818"/>
<circle cx="201.5" cy="258.6" r="0.5" fill="#f83030"/>
<circle cx="192.8" cy="284.2" r="0.5" fill="#ff2a2a"/>
<circle cx="189.6" cy="312.5" r="0.7" fill="#d01010"/>
<circle cx="194.7" cy="272.6" r="0.9" fill="#ff2a2a"/>
<circle cx="194.7" cy="308.8" r="0.8" fill="#600404"/>
<circle cx="191.3" cy="306.2" r="0.9" fill="#f83030"/>
<circle cx="216.2" cy="283.2" r="0.9" fill="#e81818"/>
<circle cx="206.3" cy="291.5" r="1.0" fill="#d01010"/>
<circle cx="205.1" cy="255.1" r="0.5" fill="#f83030"/>
<circle cx="202.8" cy="311.6" r="0.5" fill="#f83030"/>
<circle cx="199.9" cy="281.5" r="0.8" fill="#600404"/>
<circle cx="206.9" cy="269.0" r="1.0" fill="#ff2a2a"/>
<circle cx="210.2" cy="301.6" r="0.8" fill="#ff2a2a"/>
<circle cx="187.8" cy="284.6" r="0.8" fill="#f83030"/>
<circle cx="210.7" cy="259.0" r="0.8" fill="#d01010"/>
<circle cx="189.7" cy="303.9" r="0.6" fill="#d01010"/>
<circle cx="196.0" cy="312.1" r="0.7" fill="#600404"/>
<circle cx="201.8" cy="264.7" r="0.6" fill="#d01010"/>
<circle cx="196.5" cy="294.6" r="0.7" fill="#e81818"/>
<circle cx="197.8" cy="259.7" r="0.7" fill="#f83030"/>
<circle cx="203.6" cy="280.4" r="0.6" fill="#600404"/>
<circle cx="191.4" cy="287.4" r="1.0" fill="#d01010"/>
<circle cx="217.4" cy="264.0" r="0.6" fill="#600404"/>
<circle cx="203.1" cy="316.8" r="0.6" fill="#e81818"/>
<circle cx="208.7" cy="282.0" r="0.9" fill="#d01010"/>
<circle cx="195.8" cy="261.6" r="0.6" fill="#d01010"/>
<circle cx="215.1" cy="288.3" r="0.7" fill="#ff2a2a"/>
<circle cx="219.0" cy="262.1" r="0.9" fill="#d01010"/>
<circle cx="188.9" cy="311.5" r="0.6" fill="#f83030"/>
<circle cx="191.8" cy="305.4" r="0.8" fill="#e81818"/>
<circle cx="207.8" cy="301.9" r="0.6" fill="#600404"/>
<circle cx="215.5" cy="312.3" r="0.7" fill="#d01010"/>
<circle cx="210.6" cy="281.4" r="0.9" fill="#ff2a2a"/>
<circle cx="187.8" cy="259.0" r="0.5" fill="#ff2a2a"/>
<circle cx="213.2" cy="313.2" r="0.8" fill="#ff2a2a"/>
<circle cx="201.7" cy="259.2" r="0.7" fill="#f83030"/>
<circle cx="204.4" cy="297.2" r="0.8" fill="#d01010"/>
<circle cx="218.2" cy="316.5" r="0.7" fill="#ff2a2a"/>
<circle cx="191.5" cy="270.6" r="0.8" fill="#ff2a2a"/>
<circle cx="188.4" cy="319.2" r="0.8" fill="#600404"/>
<circle cx="189.5" cy="274.6" r="0.7" fill="#600404"/>
<circle cx="186.9" cy="312.3" r="1.0" fill="#e81818"/>
<circle cx="198.9" cy="296.0" r="1.0" fill="#d01010"/>
<circle cx="216.4" cy="301.1" r="0.5" fill="#d01010"/>
<circle cx="187.4" cy="316.0" r="0.7" fill="#600404"/>
<circle cx="204.9" cy="306.8" r="0.8" fill="#d01010"/>
<circle cx="195.4" cy="303.2" r="0.6" fill="#600404"/>
<circle cx="199.6" cy="301.0" r="0.5" fill="#f83030"/>
<circle cx="192.6" cy="300.0" r="0.9" fill="#ff2a2a"/>
<circle cx="201.1" cy="269.8" r="0.6" fill="#ff2a2a"/>
<circle cx="210.7" cy="271.3" r="0.7" fill="#e81818"/>
<circle cx="213.6" cy="286.1" r="0.6" fill="#d01010"/>
<circle cx="207.5" cy="300.2" r="0.8" fill="#f83030"/>
<circle cx="189.8" cy="304.6" r="0.7" fill="#f83030"/>
<circle cx="202.3" cy="309.7" r="0.9" fill="#f83030"/>
<circle cx="217.7" cy="273.0" r="0.7" fill="#d01010"/>
<circle cx="190.1" cy="282.0" r="0.7" fill="#e81818"/>
<circle cx="195.6" cy="267.3" r="1.0" fill="#ff2a2a"/>
<circle cx="185.5" cy="316.3" r="0.7" fill="#600404"/>
<circle cx="208.6" cy="282.1" r="0.9" fill="#600404"/>
<circle cx="197.4" cy="302.4" r="0.8" fill="#f83030"/>
<circle cx="213.1" cy="255.4" r="0.8" fill="#ff2a2a"/>
<circle cx="204.4" cy="286.1" r="0.7" fill="#d01010"/>
<circle cx="187.0" cy="289.6" r="0.7" fill="#ff2a2a"/>
<circle cx="211.3" cy="265.6" r="0.6" fill="#f83030"/>
<circle cx="193.8" cy="308.8" r="0.8" fill="#600404"/>
<circle cx="200.1" cy="311.1" r="0.8" fill="#ff2a2a"/>
<circle cx="192.7" cy="269.9" r="0.5" fill="#f83030"/>
<circle cx="198.6" cy="292.6" r="0.6" fill="#ff2a2a"/>
<circle cx="198.5" cy="293.6" r="0.9" fill="#600404"/>
<circle cx="213.0" cy="302.1" r="0.9" fill="#f83030"/>
<circle cx="214.9" cy="264.2" r="0.5" fill="#ff2a2a"/>
<circle cx="192.1" cy="266.9" r="0.6" fill="#600404"/>
<circle cx="217.0" cy="285.2" r="0.6" fill="#ff2a2a"/>
<circle cx="186.4" cy="306.6" r="0.9" fill="#f83030"/>
<circle cx="201.8" cy="295.0" r="0.8" fill="#f83030"/>
<circle cx="192.7" cy="297.2" r="0.7" fill="#f83030"/>
<circle cx="192.5" cy="258.8" r="0.7" fill="#ff2a2a"/>
<circle cx="204.2" cy="312.6" r="0.6" fill="#600404"/>
<circle cx="185.6" cy="282.6" r="0.7" fill="#600404"/>
<circle cx="199.2" cy="305.1" r="0.6" fill="#600404"/>
<circle cx="209.6" cy="268.7" r="0.7" fill="#600404"/>
<circle cx="190.7" cy="317.4" r="0.6" fill="#f83030"/>
<circle cx="212.4" cy="299.9" r="0.9" fill="#d01010"/>
<circle cx="212.2" cy="311.5" r="1.0" fill="#600404"/>
<circle cx="214.3" cy="313.4" r="0.8" fill="#600404"/>
<circle cx="211.1" cy="267.8" r="0.8" fill="#ff2a2a"/>
<circle cx="192.2" cy="289.4" r="0.9" fill="#d01010"/>
<circle cx="207.7" cy="300.9" r="0.7" fill="#e81818"/>
<circle cx="207.5" cy="266.4" r="0.8" fill="#600404"/>
<circle cx="218.7" cy="303.2" r="0.9" fill="#600404"/>
<circle cx="219.0" cy="309.1" r="0.7" fill="#ff2a2a"/>
<circle cx="202.6" cy="278.6" r="1.0" fill="#f83030"/>
<circle cx="198.4" cy="312.5" r="0.6" fill="#f83030"/>
<circle cx="201.3" cy="314.7" r="0.8" fill="#f83030"/>
<circle cx="199.9" cy="280.3" r="0.8" fill="#ff2a2a"/>
<circle cx="193.5" cy="273.8" r="0.9" fill="#ff2a2a"/>
<circle cx="212.7" cy="286.2" r="0.5" fill="#f83030"/>
<circle cx="196.5" cy="259.8" r="0.7" fill="#e81818"/>
<circle cx="196.7" cy="310.6" r="0.9" fill="#d01010"/>
<circle cx="207.5" cy="305.5" r="1.0" fill="#ff2a2a"/>
<circle cx="212.3" cy="311.5" r="0.8" fill="#ff2a2a"/>
<circle cx="186.9" cy="288.1" r="0.7" fill="#600404"/>
<circle cx="196.1" cy="282.3" r="0.8" fill="#f83030"/>
<circle cx="188.0" cy="298.7" r="0.6" fill="#d01010"/>
<circle cx="214.6" cy="293.1" r="0.5" fill="#600404"/>
<circle cx="195.7" cy="260.8" r="0.7" fill="#600404"/>
<circle cx="188.6" cy="276.9" r="0.6" fill="#ff2a2a"/>
<circle cx="201.7" cy="260.9" r="0.9" fill="#d01010"/>
<circle cx="186.7" cy="317.8" r="0.9" fill="#ff2a2a"/>
<circle cx="206.3" cy="312.8" r="0.7" fill="#600404"/>
<circle cx="214.3" cy="287.4" r="0.7" fill="#f83030"/>
<circle cx="188.8" cy="287.9" r="0.9" fill="#600404"/>
<circle cx="208.5" cy="294.8" r="0.7" fill="#600404"/>
<circle cx="189.8" cy="258.6" r="0.7" fill="#ff2a2a"/>
<circle cx="196.2" cy="278.4" r="0.8" fill="#f83030"/>
<circle cx="189.3" cy="255.1" r="0.6" fill="#d01010"/>
<circle cx="186.9" cy="261.6" r="0.9" fill="#ff2a2a"/>
<circle cx="187.9" cy="259.8" r="0.8" fill="#d01010"/>
<circle cx="200.6" cy="269.7" r="0.7" fill="#d01010"/>
<circle cx="191.2" cy="276.3" r="0.8" fill="#f83030"/>
<circle cx="205.2" cy="280.4" r="0.7" fill="#600404"/>
<circle cx="215.2" cy="266.1" r="0.7" fill="#d01010"/>
<circle cx="215.2" cy="260.3" r="0.7" fill="#d01010"/>
<circle cx="198.5" cy="305.8" r="1.0" fill="#ff2a2a"/>
<circle cx="199.2" cy="310.6" r="1.0" fill="#e81818"/>
<circle cx="190.6" cy="306.9" r="0.8" fill="#d01010"/>
<circle cx="195.2" cy="265.9" r="0.7" fill="#600404"/>
<circle cx="196.5" cy="267.3" r="0.6" fill="#f83030"/>
<circle cx="203.6" cy="262.3" r="0.7" fill="#e81818"/>
<circle cx="214.1" cy="297.7" r="0.6" fill="#600404"/>
<circle cx="216.1" cy="298.2" r="0.5" fill="#ff2a2a"/>
<circle cx="212.8" cy="274.6" r="0.7" fill="#f83030"/>
<circle cx="197.7" cy="310.0" r="0.5" fill="#e81818"/>
<circle cx="203.0" cy="272.4" r="0.8" fill="#ff2a2a"/>
<circle cx="217.7" cy="319.5" r="0.7" fill="#d01010"/>
<circle cx="193.2" cy="284.4" r="0.5" fill="#ff2a2a"/>
<circle cx="212.1" cy="261.6" r="0.8" fill="#ff2a2a"/>
<circle cx="194.2" cy="258.8" r="0.6" fill="#f83030"/>
<circle cx="217.7" cy="309.2" r="0.9" fill="#d01010"/>
<circle cx="199.9" cy="305.4" r="0.7" fill="#600404"/>
<circle cx="191.6" cy="301.7" r="0.7" fill="#ff2a2a"/>
<circle cx="212.3" cy="285.3" r="0.6" fill="#ff2a2a"/>
<circle cx="211.0" cy="302.4" r="1.0" fill="#f83030"/>
<circle cx="193.1" cy="298.1" r="0.5" fill="#600404"/>
<circle cx="186.8" cy="271.5" r="0.7" fill="#ff2a2a"/>
<circle cx="211.4" cy="315.0" r="0.7" fill="#e81818"/>
<circle cx="219.0" cy="286.4" r="0.9" fill="#ff2a2a"/>
<circle cx="206.2" cy="275.6" r="0.7" fill="#d01010"/>
<circle cx="194.9" cy="268.6" r="0.9" fill="#f83030"/>
<circle cx="195.8" cy="264.3" r="0.5" fill="#f83030"/>
<circle cx="192.5" cy="314.1" r="0.8" fill="#ff2a2a"/>
<circle cx="193.5" cy="267.9" r="0.8" fill="#f83030"/>
<circle cx="193.1" cy="309.6" r="0.6" fill="#e81818"/>
<circle cx="189.7" cy="293.3" r="0.9" fill="#f83030"/>
<circle cx="202.6" cy="311.6" r="0.8" fill="#d01010"/>
<circle cx="188.3" cy="266.7" r="0.7" fill="#f83030"/>
<circle cx="208.3" cy="298.8" r="0.8" fill="#f83030"/>
<circle cx="202.1" cy="288.7" r="0.9" fill="#d01010"/>
<circle cx="186.0" cy="265.3" r="0.6" fill="#d01010"/>
<circle cx="198.8" cy="309.4" r="0.9" fill="#f83030"/>
<circle cx="208.1" cy="263.3" r="0.7" fill="#f83030"/>
<circle cx="207.6" cy="303.1" r="0.8" fill="#ff2a2a"/>
<circle cx="217.5" cy="266.3" r="0.8" fill="#e81818"/>
<circle cx="194.9" cy="265.1" r="0.7" fill="#d01010"/>
<circle cx="188.3" cy="277.5" r="0.8" fill="#f83030"/>
<circle cx="194.0" cy="294.0" r="1.0" fill="#600404"/>
<circle cx="201.0" cy="271.4" r="0.7" fill="#600404"/>
<circle cx="219.8" cy="281.1" r="0.9" fill="#600404"/>
<circle cx="218.4" cy="258.5" r="1.0" fill="#600404"/>
<circle cx="206.9" cy="257.4" r="0.8" fill="#d01010"/>
<circle cx="197.1" cy="299.3" r="0.7" fill="#f83030"/>
<circle cx="213.8" cy="298.8" r="0.6" fill="#600404"/>
<circle cx="210.3" cy="301.0" r="0.9" fill="#e81818"/>
<circle cx="205.3" cy="305.9" r="0.8" fill="#d01010"/>
<circle cx="211.9" cy="269.4" r="0.7" fill="#f83030"/>
<circle cx="215.3" cy="266.0" r="0.9" fill="#600404"/>
<circle cx="218.4" cy="283.5" r="0.8" fill="#e81818"/>
<circle cx="196.8" cy="301.3" r="1.0" fill="#ff2a2a"/>
<circle cx="189.8" cy="283.7" r="0.7" fill="#ff2a2a"/>
<circle cx="215.6" cy="264.1" r="0.7" fill="#f83030"/>
<circle cx="209.3" cy="263.7" r="0.6" fill="#ff2a2a"/>
<circle cx="214.5" cy="258.7" r="0.7" fill="#e81818"/>
<circle cx="218.6" cy="304.0" r="0.7" fill="#600404"/>
<circle cx="204.1" cy="298.2" r="0.8" fill="#d01010"/>
<circle cx="210.5" cy="318.1" r="0.7" fill="#600404"/>
<circle cx="215.2" cy="313.0" r="0.7" fill="#f83030"/>
<circle cx="196.7" cy="287.2" r="0.5" fill="#e81818"/>
<circle cx="204.7" cy="271.1" r="1.0" fill="#e81818"/>
<circle cx="213.9" cy="270.3" r="0.8" fill="#f83030"/>
<circle cx="202.9" cy="314.8" r="0.6" fill="#600404"/>
<circle cx="194.6" cy="278.3" r="0.5" fill="#ff2a2a"/>
<circle cx="213.2" cy="270.0" r="0.6" fill="#e81818"/>
<circle cx="218.5" cy="277.7" r="0.6" fill="#d01010"/>
<circle cx="189.1" cy="291.1" r="0.6" fill="#f83030"/>
<circle cx="203.8" cy="272.1" r="0.6" fill="#ff2a2a"/>
<circle cx="189.0" cy="274.2" r="0.6" fill="#e81818"/>
<circle cx="196.6" cy="316.5" r="0.5" fill="#600404"/>
<circle cx="198.9" cy="262.0" r="0.9" fill="#f83030"/>
<circle cx="210.6" cy="302.8" r="0.9" fill="#ff2a2a"/>
<circle cx="196.5" cy="291.2" r="0.6" fill="#e81818"/>
<circle cx="198.2" cy="317.6" r="0.9" fill="#d01010"/>
<circle cx="188.4" cy="282.4" r="0.8" fill="#600404"/>
<circle cx="202.3" cy="302.9" r="1.0" fill="#ff2a2a"/>
<circle cx="196.3" cy="305.4" r="0.6" fill="#600404"/>
<circle cx="189.3" cy="292.7" r="0.8" fill="#f83030"/>
<circle cx="207.2" cy="288.8" r="0.8" fill="#600404"/>
<circle cx="203.7" cy="278.5" r="0.6" fill="#ff2a2a"/>
<circle cx="186.3" cy="295.0" r="0.7" fill="#600404"/>
<circle cx="197.3" cy="269.8" r="0.7" fill="#600404"/>
<circle cx="194.6" cy="269.4" r="0.7" fill="#d01010"/>
<circle cx="187.9" cy="260.1" r="0.9" fill="#f83030"/>
<circle cx="204.7" cy="319.2" r="0.7" fill="#600404"/>
<circle cx="218.3" cy="298.0" r="0.5" fill="#600404"/>
<circle cx="203.6" cy="311.5" r="0.6" fill="#d01010"/>
<circle cx="193.7" cy="258.7" r="0.8" fill="#e81818"/>
<circle cx="193.3" cy="316.4" r="1.0" fill="#600404"/>
<circle cx="205.6" cy="311.1" r="0.7" fill="#e81818"/>
<circle cx="215.8" cy="286.1" r="0.9" fill="#d01010"/>
<circle cx="188.0" cy="284.8" r="0.8" fill="#d01010"/>
<circle cx="214.8" cy="315.7" r="0.9" fill="#ff2a2a"/>
<circle cx="203.5" cy="297.7" r="0.7" fill="#d01010"/>
<circle cx="209.3" cy="257.1" r="0.7" fill="#d01010"/>
<circle cx="213.0" cy="310.2" r="0.7" fill="#600404"/>
<circle cx="198.5" cy="272.0" r="0.7" fill="#e81818"/>
<circle cx="206.4" cy="303.7" r="1.0" fill="#ff2a2a"/>
<circle cx="197.5" cy="257.4" r="0.9" fill="#600404"/>
<circle cx="211.9" cy="294.8" r="0.7" fill="#ff2a2a"/>
<circle cx="200.5" cy="267.2" r="0.6" fill="#ff2a2a"/>
<circle cx="205.2" cy="279.3" r="0.7" fill="#e81818"/>
<circle cx="197.7" cy="281.5" r="0.6" fill="#d01010"/>
<circle cx="202.7" cy="265.7" r="0.9" fill="#ff2a2a"/>
<circle cx="212.0" cy="276.0" r="0.5" fill="#600404"/>
<circle cx="198.1" cy="274.0" r="0.7" fill="#f83030"/>
<circle cx="197.0" cy="300.2" r="0.9" fill="#e81818"/>
<circle cx="202.1" cy="316.5" r="0.7" fill="#d01010"/>
<circle cx="218.1" cy="295.2" r="0.8" fill="#f83030"/>
<circle cx="192.3" cy="281.8" r="0.6" fill="#ff2a2a"/>
<circle cx="210.3" cy="292.1" r="0.8" fill="#ff2a2a"/>
<circle cx="215.2" cy="311.1" r="0.8" fill="#600404"/>
<circle cx="209.5" cy="312.8" r="0.6" fill="#f83030"/>
<circle cx="193.2" cy="319.3" r="0.6" fill="#f83030"/>
<circle cx="219.9" cy="275.4" r="0.8" fill="#e81818"/>
<circle cx="206.8" cy="301.0" r="0.6" fill="#600404"/>
<circle cx="195.6" cy="295.0" r="0.9" fill="#d01010"/>
<circle cx="210.6" cy="275.1" r="0.5" fill="#d01010"/>
<circle cx="208.5" cy="285.4" r="0.8" fill="#e81818"/>
<circle cx="194.7" cy="259.5" r="0.6" fill="#f83030"/>
<circle cx="189.1" cy="281.2" r="0.8" fill="#ff2a2a"/>
<circle cx="215.4" cy="319.1" r="0.7" fill="#600404"/>
<circle cx="186.8" cy="293.9" r="0.7" fill="#f83030"/>
<circle cx="194.5" cy="310.0" r="1.0" fill="#f83030"/>
<circle cx="192.3" cy="316.5" r="0.9" fill="#600404"/>
<circle cx="190.1" cy="302.4" r="0.7" fill="#e81818"/>
<circle cx="207.4" cy="293.4" r="0.6" fill="#ff2a2a"/>
<circle cx="199.0" cy="263.1" r="0.9" fill="#e81818"/>
<circle cx="217.3" cy="283.3" r="0.5" fill="#ff2a2a"/>
<circle cx="189.0" cy="288.5" r="0.6" fill="#f83030"/>
<circle cx="220.0" cy="269.5" r="0.9" fill="#600404"/>
<circle cx="203.1" cy="287.0" r="0.6" fill="#e81818"/>
<circle cx="204.7" cy="294.3" r="1.0" fill="#f83030"/>
<circle cx="215.0" cy="255.7" r="0.6" fill="#600404"/>
<circle cx="207.6" cy="263.3" r="0.5" fill="#ff2a2a"/>
<circle cx="200.0" cy="319.3" r="0.8" fill="#600404"/>
<text x="176" y="317" font-size="4.5" font-weight="bold" text-anchor="start" fill="#fff" >10 μm</text>
<rect x="176" y="318" width="10" height="0.8" fill="#fff"/>
<rect x="231.3" y="254" width="53.2" height="66.5" fill="#5e5e5e"/>
<rect x="265.9" y="286.6" width="0.8" height="0.8" fill="#505050"/>
<rect x="248.6" y="277.5" width="0.8" height="0.8" fill="#6c6c6c"/>
<rect x="237.8" y="301.8" width="0.8" height="0.8" fill="#505050"/>
<rect x="241.6" y="307.4" width="0.8" height="0.8" fill="#6c6c6c"/>
<rect x="280.6" y="276.0" width="0.8" height="0.8" fill="#6c6c6c"/>
<rect x="283.5" y="276.7" width="0.8" height="0.8" fill="#6c6c6c"/>
<rect x="235.4" y="259.5" width="0.8" height="0.8" fill="#505050"/>
<rect x="235.2" y="310.1" width="0.8" height="0.8" fill="#505050"/>
<rect x="235.3" y="312.9" width="0.8" height="0.8" fill="#6c6c6c"/>
<rect x="254.4" y="309.3" width="0.8" height="0.8" fill="#6c6c6c"/>
<rect x="244.2" y="278.6" width="0.8" height="0.8" fill="#505050"/>
<rect x="235.9" y="297.9" width="0.8" height="0.8" fill="#6c6c6c"/>
<rect x="245.5" y="302.3" width="0.8" height="0.8" fill="#6c6c6c"/>
<rect x="243.1" y="294.4" width="0.8" height="0.8" fill="#505050"/>
<rect x="262.5" y="264.3" width="0.8" height="0.8" fill="#505050"/>
<rect x="254.7" y="267.3" width="0.8" height="0.8" fill="#505050"/>
<rect x="267.0" y="305.9" width="0.8" height="0.8" fill="#6c6c6c"/>
<rect x="257.4" y="259.3" width="0.8" height="0.8" fill="#505050"/>
<rect x="267.0" y="275.3" width="0.8" height="0.8" fill="#505050"/>
<rect x="272.9" y="292.2" width="0.8" height="0.8" fill="#505050"/>
<rect x="261.1" y="308.4" width="0.8" height="0.8" fill="#505050"/>
<rect x="274.7" y="285.5" width="0.8" height="0.8" fill="#505050"/>
<rect x="259.7" y="270.0" width="0.8" height="0.8" fill="#6c6c6c"/>
<rect x="276.4" y="300.4" width="0.8" height="0.8" fill="#6c6c6c"/>
<rect x="249.9" y="257.1" width="0.8" height="0.8" fill="#505050"/>
<rect x="268.8" y="285.3" width="0.8" height="0.8" fill="#6c6c6c"/>
<rect x="243.1" y="318.0" width="0.8" height="0.8" fill="#6c6c6c"/>
<rect x="262.4" y="270.0" width="0.8" height="0.8" fill="#505050"/>
<rect x="282.9" y="266.1" width="0.8" height="0.8" fill="#505050"/>
<rect x="238.0" y="293.2" width="0.8" height="0.8" fill="#6c6c6c"/>
<rect x="232.3" y="312.0" width="0.8" height="0.8" fill="#6c6c6c"/>
<rect x="242.2" y="269.0" width="0.8" height="0.8" fill="#6c6c6c"/>
<rect x="280.5" y="264.7" width="0.8" height="0.8" fill="#6c6c6c"/>
<rect x="279.6" y="271.7" width="0.8" height="0.8" fill="#6c6c6c"/>
<rect x="259.7" y="299.7" width="0.8" height="0.8" fill="#6c6c6c"/>
<rect x="283.0" y="278.2" width="0.8" height="0.8" fill="#6c6c6c"/>
<rect x="241.2" y="282.8" width="0.8" height="0.8" fill="#505050"/>
<rect x="257.2" y="307.3" width="0.8" height="0.8" fill="#505050"/>
<rect x="240.2" y="299.0" width="0.8" height="0.8" fill="#6c6c6c"/>
<rect x="283.8" y="306.9" width="0.8" height="0.8" fill="#505050"/>
<rect x="279.2" y="318.0" width="0.8" height="0.8" fill="#505050"/>
<rect x="258.9" y="271.2" width="0.8" height="0.8" fill="#6c6c6c"/>
<rect x="245.5" y="310.6" width="0.8" height="0.8" fill="#505050"/>
<rect x="266.1" y="311.3" width="0.8" height="0.8" fill="#505050"/>
<rect x="255.9" y="289.9" width="0.8" height="0.8" fill="#6c6c6c"/>
<rect x="275.6" y="298.0" width="0.8" height="0.8" fill="#505050"/>
<rect x="268.6" y="282.6" width="0.8" height="0.8" fill="#505050"/>
<rect x="233.9" y="276.8" width="0.8" height="0.8" fill="#505050"/>
<rect x="250.9" y="292.7" width="0.8" height="0.8" fill="#505050"/>
<rect x="268.9" y="302.6" width="0.8" height="0.8" fill="#6c6c6c"/>
<rect x="267.7" y="299.5" width="0.8" height="0.8" fill="#505050"/>
<rect x="284.0" y="306.3" width="0.8" height="0.8" fill="#6c6c6c"/>
<rect x="268.6" y="279.9" width="0.8" height="0.8" fill="#505050"/>
<rect x="262.9" y="274.6" width="0.8" height="0.8" fill="#6c6c6c"/>
<rect x="274.8" y="268.4" width="0.8" height="0.8" fill="#6c6c6c"/>
<rect x="283.8" y="316.8" width="0.8" height="0.8" fill="#505050"/>
<rect x="279.1" y="278.2" width="0.8" height="0.8" fill="#6c6c6c"/>
<rect x="274.9" y="291.1" width="0.8" height="0.8" fill="#6c6c6c"/>
<rect x="241.8" y="317.7" width="0.8" height="0.8" fill="#505050"/>
<rect x="245.1" y="318.2" width="0.8" height="0.8" fill="#505050"/>
<rect x="241.6" y="265.4" width="0.8" height="0.8" fill="#505050"/>
<rect x="238.4" y="309.1" width="0.8" height="0.8" fill="#6c6c6c"/>
<rect x="269.6" y="302.4" width="0.8" height="0.8" fill="#6c6c6c"/>
<rect x="264.7" y="262.2" width="0.8" height="0.8" fill="#6c6c6c"/>
<rect x="252.1" y="314.3" width="0.8" height="0.8" fill="#6c6c6c"/>
<rect x="244.4" y="317.9" width="0.8" height="0.8" fill="#505050"/>
<rect x="238.3" y="318.2" width="0.8" height="0.8" fill="#6c6c6c"/>
<rect x="272.9" y="269.8" width="0.8" height="0.8" fill="#505050"/>
<rect x="245.5" y="265.2" width="0.8" height="0.8" fill="#6c6c6c"/>
<rect x="253.6" y="315.1" width="0.8" height="0.8" fill="#505050"/>
<rect x="246.1" y="277.0" width="0.8" height="0.8" fill="#6c6c6c"/>
<rect x="239.9" y="280.2" width="0.8" height="0.8" fill="#505050"/>
<rect x="267.6" y="295.9" width="0.8" height="0.8" fill="#6c6c6c"/>
<rect x="237.5" y="312.3" width="0.8" height="0.8" fill="#6c6c6c"/>
<rect x="240.8" y="289.9" width="0.8" height="0.8" fill="#6c6c6c"/>
<rect x="258.3" y="255.6" width="0.8" height="0.8" fill="#6c6c6c"/>
<rect x="275.4" y="296.5" width="0.8" height="0.8" fill="#6c6c6c"/>
<rect x="239.7" y="314.9" width="0.8" height="0.8" fill="#6c6c6c"/>
<rect x="260.5" y="274.0" width="0.8" height="0.8" fill="#6c6c6c"/>
<rect x="236.7" y="305.1" width="0.8" height="0.8" fill="#6c6c6c"/>
<rect x="277.6" y="278.9" width="0.8" height="0.8" fill="#505050"/>
<rect x="261.0" y="298.2" width="0.8" height="0.8" fill="#505050"/>
<rect x="264.5" y="266.4" width="0.8" height="0.8" fill="#505050"/>
<rect x="268.4" y="266.2" width="0.8" height="0.8" fill="#6c6c6c"/>
<rect x="257.3" y="284.1" width="0.8" height="0.8" fill="#505050"/>
<rect x="283.0" y="281.6" width="0.8" height="0.8" fill="#505050"/>
<rect x="277.0" y="265.9" width="0.8" height="0.8" fill="#6c6c6c"/>
<rect x="262.5" y="254.6" width="0.8" height="0.8" fill="#6c6c6c"/>
<rect x="283.0" y="268.1" width="0.8" height="0.8" fill="#6c6c6c"/>
<rect x="264.2" y="318.6" width="0.8" height="0.8" fill="#505050"/>
<rect x="238.4" y="283.4" width="0.8" height="0.8" fill="#505050"/>
<rect x="278.8" y="301.5" width="0.8" height="0.8" fill="#6c6c6c"/>
<rect x="280.0" y="297.1" width="0.8" height="0.8" fill="#505050"/>
<rect x="259.9" y="306.4" width="0.8" height="0.8" fill="#505050"/>
<rect x="272.6" y="301.4" width="0.8" height="0.8" fill="#6c6c6c"/>
<rect x="241.6" y="299.2" width="0.8" height="0.8" fill="#6c6c6c"/>
<rect x="257.7" y="259.4" width="0.8" height="0.8" fill="#505050"/>
<rect x="269.5" y="272.6" width="0.8" height="0.8" fill="#505050"/>
<rect x="280.6" y="264.2" width="0.8" height="0.8" fill="#505050"/>
<rect x="235.8" y="271.5" width="0.8" height="0.8" fill="#6c6c6c"/>
<rect x="243.3" y="315.5" width="0.8" height="0.8" fill="#6c6c6c"/>
<rect x="254.1" y="286.6" width="0.8" height="0.8" fill="#6c6c6c"/>
<rect x="276.1" y="274.7" width="0.8" height="0.8" fill="#505050"/>
<rect x="256.1" y="317.5" width="0.8" height="0.8" fill="#505050"/>
<rect x="233.0" y="309.9" width="0.8" height="0.8" fill="#6c6c6c"/>
<rect x="249.6" y="312.7" width="0.8" height="0.8" fill="#505050"/>
<rect x="255.1" y="290.6" width="0.8" height="0.8" fill="#505050"/>
<rect x="256.0" y="290.4" width="0.8" height="0.8" fill="#6c6c6c"/>
<rect x="244.6" y="306.7" width="0.8" height="0.8" fill="#6c6c6c"/>
<rect x="242.7" y="277.5" width="0.8" height="0.8" fill="#6c6c6c"/>
<rect x="261.8" y="269.3" width="0.8" height="0.8" fill="#505050"/>
<rect x="257.3" y="298.6" width="0.8" height="0.8" fill="#6c6c6c"/>
<rect x="265.1" y="282.8" width="0.8" height="0.8" fill="#6c6c6c"/>
<rect x="238.9" y="271.9" width="0.8" height="0.8" fill="#6c6c6c"/>
<rect x="245.4" y="299.3" width="0.8" height="0.8" fill="#6c6c6c"/>
<rect x="241.5" y="257.8" width="0.8" height="0.8" fill="#505050"/>
<rect x="272.5" y="279.9" width="0.8" height="0.8" fill="#6c6c6c"/>
<rect x="277.6" y="255.3" width="0.8" height="0.8" fill="#6c6c6c"/>
<rect x="238.1" y="311.8" width="0.8" height="0.8" fill="#6c6c6c"/>
<rect x="253.3" y="270.2" width="0.8" height="0.8" fill="#6c6c6c"/>
<rect x="276.2" y="270.5" width="0.8" height="0.8" fill="#6c6c6c"/>
<rect x="281.2" y="319.2" width="0.8" height="0.8" fill="#505050"/>
<rect x="265.9" y="298.7" width="0.8" height="0.8" fill="#505050"/>
<rect x="268.8" y="287.8" width="0.8" height="0.8" fill="#6c6c6c"/>
<rect x="279.6" y="317.5" width="0.8" height="0.8" fill="#505050"/>
<rect x="245.9" y="304.3" width="0.8" height="0.8" fill="#6c6c6c"/>
<rect x="239.5" y="306.5" width="0.8" height="0.8" fill="#505050"/>
<rect x="267.8" y="303.7" width="0.8" height="0.8" fill="#6c6c6c"/>
<rect x="271.0" y="276.9" width="0.8" height="0.8" fill="#505050"/>
<rect x="258.7" y="280.1" width="0.8" height="0.8" fill="#505050"/>
<rect x="240.4" y="316.3" width="0.8" height="0.8" fill="#6c6c6c"/>
<rect x="235.8" y="256.1" width="0.8" height="0.8" fill="#505050"/>
<rect x="235.8" y="257.2" width="0.8" height="0.8" fill="#6c6c6c"/>
<rect x="255.3" y="296.8" width="0.8" height="0.8" fill="#6c6c6c"/>
<rect x="252.4" y="313.9" width="0.8" height="0.8" fill="#6c6c6c"/>
<rect x="270.0" y="260.9" width="0.8" height="0.8" fill="#505050"/>
<rect x="251.5" y="307.1" width="0.8" height="0.8" fill="#6c6c6c"/>
<rect x="270.8" y="303.7" width="0.8" height="0.8" fill="#505050"/>
<rect x="261.4" y="260.3" width="0.8" height="0.8" fill="#6c6c6c"/>
<rect x="238.8" y="303.4" width="0.8" height="0.8" fill="#6c6c6c"/>
<rect x="276.2" y="315.9" width="0.8" height="0.8" fill="#6c6c6c"/>
<rect x="234.8" y="310.4" width="0.8" height="0.8" fill="#505050"/>
<rect x="238.3" y="316.3" width="0.8" height="0.8" fill="#6c6c6c"/>
<rect x="244.4" y="267.5" width="0.8" height="0.8" fill="#6c6c6c"/>
<rect x="268.5" y="270.3" width="0.8" height="0.8" fill="#6c6c6c"/>
<rect x="273.0" y="287.5" width="0.8" height="0.8" fill="#505050"/>
<rect x="243.1" y="315.2" width="0.8" height="0.8" fill="#505050"/>
<rect x="283.7" y="305.1" width="0.8" height="0.8" fill="#6c6c6c"/>
<rect x="259.4" y="268.8" width="0.8" height="0.8" fill="#6c6c6c"/>
<rect x="259.7" y="282.4" width="0.8" height="0.8" fill="#505050"/>
<rect x="233.2" y="296.5" width="0.8" height="0.8" fill="#6c6c6c"/>
<rect x="257.3" y="284.4" width="0.8" height="0.8" fill="#6c6c6c"/>
<rect x="263.8" y="286.5" width="0.8" height="0.8" fill="#505050"/>
<rect x="272.6" y="302.0" width="0.8" height="0.8" fill="#505050"/>
<rect x="241.9" y="286.6" width="0.8" height="0.8" fill="#6c6c6c"/>
<rect x="276.6" y="264.8" width="0.8" height="0.8" fill="#505050"/>
<rect x="241.8" y="276.2" width="0.8" height="0.8" fill="#505050"/>
<rect x="252.7" y="256.1" width="0.8" height="0.8" fill="#505050"/>
<rect x="237.9" y="265.2" width="0.8" height="0.8" fill="#6c6c6c"/>
<rect x="268.2" y="280.4" width="0.8" height="0.8" fill="#6c6c6c"/>
<rect x="266.0" y="305.7" width="0.8" height="0.8" fill="#505050"/>
<rect x="255.6" y="270.8" width="0.8" height="0.8" fill="#505050"/>
<rect x="271.6" y="263.8" width="0.8" height="0.8" fill="#505050"/>
<rect x="267.7" y="311.4" width="0.8" height="0.8" fill="#6c6c6c"/>
<rect x="242.5" y="283.0" width="0.8" height="0.8" fill="#6c6c6c"/>
<rect x="239.5" y="308.1" width="0.8" height="0.8" fill="#6c6c6c"/>
<rect x="232.0" y="272.8" width="0.8" height="0.8" fill="#6c6c6c"/>
<rect x="260.8" y="292.8" width="0.8" height="0.8" fill="#505050"/>
<rect x="259.4" y="305.1" width="0.8" height="0.8" fill="#6c6c6c"/>
<rect x="246.9" y="301.8" width="0.8" height="0.8" fill="#505050"/>
<rect x="239.2" y="317.1" width="0.8" height="0.8" fill="#6c6c6c"/>
<rect x="279.9" y="268.6" width="0.8" height="0.8" fill="#505050"/>
<rect x="254.3" y="270.1" width="0.8" height="0.8" fill="#505050"/>
<rect x="278.1" y="304.1" width="0.8" height="0.8" fill="#505050"/>
<rect x="232.7" y="318.3" width="0.8" height="0.8" fill="#505050"/>
<rect x="250.3" y="271.4" width="0.8" height="0.8" fill="#6c6c6c"/>
<rect x="237.8" y="282.6" width="0.8" height="0.8" fill="#6c6c6c"/>
<rect x="234.4" y="290.0" width="0.8" height="0.8" fill="#505050"/>
<rect x="233.0" y="278.9" width="0.8" height="0.8" fill="#505050"/>
<rect x="279.9" y="277.7" width="0.8" height="0.8" fill="#6c6c6c"/>
<rect x="250.2" y="290.4" width="0.8" height="0.8" fill="#6c6c6c"/>
<rect x="239.7" y="282.5" width="0.8" height="0.8" fill="#505050"/>
<rect x="264.1" y="267.4" width="0.8" height="0.8" fill="#6c6c6c"/>
<rect x="245.0" y="284.1" width="0.8" height="0.8" fill="#6c6c6c"/>
<rect x="282.7" y="299.6" width="0.8" height="0.8" fill="#6c6c6c"/>
<rect x="274.1" y="287.7" width="0.8" height="0.8" fill="#505050"/>
<rect x="271.5" y="306.5" width="0.8" height="0.8" fill="#505050"/>
<rect x="273.9" y="267.1" width="0.8" height="0.8" fill="#505050"/>
<rect x="247.3" y="313.7" width="0.8" height="0.8" fill="#6c6c6c"/>
<rect x="250.8" y="284.4" width="0.8" height="0.8" fill="#6c6c6c"/>
<rect x="273.0" y="299.7" width="0.8" height="0.8" fill="#6c6c6c"/>
<rect x="260.7" y="273.8" width="0.8" height="0.8" fill="#505050"/>
<rect x="268.5" y="297.6" width="0.8" height="0.8" fill="#6c6c6c"/>
<rect x="232.3" y="262.8" width="0.8" height="0.8" fill="#6c6c6c"/>
<rect x="264.9" y="319.2" width="0.8" height="0.8" fill="#6c6c6c"/>
<rect x="275.8" y="307.3" width="0.8" height="0.8" fill="#6c6c6c"/>
<rect x="241.8" y="264.4" width="0.8" height="0.8" fill="#505050"/>
<rect x="254.3" y="295.9" width="0.8" height="0.8" fill="#6c6c6c"/>
<rect x="248.1" y="263.6" width="0.8" height="0.8" fill="#6c6c6c"/>
<rect x="242.5" y="269.9" width="0.8" height="0.8" fill="#505050"/>
<rect x="260.5" y="256.3" width="0.8" height="0.8" fill="#6c6c6c"/>
<rect x="276.7" y="276.2" width="0.8" height="0.8" fill="#505050"/>
<rect x="261.5" y="315.7" width="0.8" height="0.8" fill="#505050"/>
<rect x="264.9" y="285.9" width="0.8" height="0.8" fill="#6c6c6c"/>
<rect x="267.9" y="276.3" width="0.8" height="0.8" fill="#505050"/>
<rect x="236.6" y="290.1" width="0.8" height="0.8" fill="#505050"/>
<rect x="259.4" y="267.4" width="0.8" height="0.8" fill="#6c6c6c"/>
<rect x="265.1" y="257.8" width="0.8" height="0.8" fill="#6c6c6c"/>
<rect x="258.1" y="277.4" width="0.8" height="0.8" fill="#505050"/>
<rect x="233.3" y="256.7" width="0.8" height="0.8" fill="#6c6c6c"/>
<rect x="271.9" y="281.0" width="0.8" height="0.8" fill="#505050"/>
<rect x="249.4" y="270.3" width="0.8" height="0.8" fill="#505050"/>
<rect x="262.0" y="314.9" width="0.8" height="0.8" fill="#505050"/>
<rect x="243.9" y="319.7" width="0.8" height="0.8" fill="#6c6c6c"/>
<rect x="282.3" y="284.6" width="0.8" height="0.8" fill="#505050"/>
<rect x="282.3" y="297.1" width="0.8" height="0.8" fill="#505050"/>
<rect x="275.3" y="282.6" width="0.8" height="0.8" fill="#505050"/>
<rect x="269.5" y="280.7" width="0.8" height="0.8" fill="#505050"/>
<rect x="257.7" y="294.4" width="0.8" height="0.8" fill="#6c6c6c"/>
<rect x="245.4" y="270.9" width="0.8" height="0.8" fill="#6c6c6c"/>
<rect x="272.0" y="258.7" width="0.8" height="0.8" fill="#505050"/>
<rect x="262.4" y="319.2" width="0.8" height="0.8" fill="#6c6c6c"/>
<rect x="237.6" y="292.3" width="0.8" height="0.8" fill="#505050"/>
<rect x="264.2" y="259.9" width="0.8" height="0.8" fill="#505050"/>
<rect x="270.0" y="261.5" width="0.8" height="0.8" fill="#6c6c6c"/>
<rect x="283.6" y="311.2" width="0.8" height="0.8" fill="#6c6c6c"/>
<rect x="269.4" y="271.5" width="0.8" height="0.8" fill="#6c6c6c"/>
<rect x="237.2" y="263.3" width="0.8" height="0.8" fill="#6c6c6c"/>
<rect x="246.6" y="289.8" width="0.8" height="0.8" fill="#6c6c6c"/>
<rect x="268.2" y="256.3" width="0.8" height="0.8" fill="#505050"/>
<rect x="261.4" y="260.7" width="0.8" height="0.8" fill="#6c6c6c"/>
<rect x="241.0" y="272.7" width="0.8" height="0.8" fill="#6c6c6c"/>
<rect x="246.2" y="280.5" width="0.8" height="0.8" fill="#505050"/>
<rect x="260.0" y="313.5" width="0.8" height="0.8" fill="#505050"/>
<rect x="251.8" y="285.0" width="0.8" height="0.8" fill="#505050"/>
<rect x="282.9" y="257.1" width="0.8" height="0.8" fill="#6c6c6c"/>
<rect x="278.3" y="260.2" width="0.8" height="0.8" fill="#6c6c6c"/>
<rect x="235.6" y="296.6" width="0.8" height="0.8" fill="#505050"/>
<rect x="250.1" y="278.0" width="0.8" height="0.8" fill="#6c6c6c"/>
<rect x="235.6" y="267.3" width="0.8" height="0.8" fill="#6c6c6c"/>
<rect x="262.3" y="314.4" width="0.8" height="0.8" fill="#6c6c6c"/>
<rect x="240.7" y="305.1" width="0.8" height="0.8" fill="#6c6c6c"/>
<rect x="233.4" y="278.4" width="0.8" height="0.8" fill="#505050"/>
<rect x="279.3" y="313.1" width="0.8" height="0.8" fill="#505050"/>
<rect x="282.5" y="263.4" width="0.8" height="0.8" fill="#505050"/>
<rect x="270.1" y="283.7" width="0.8" height="0.8" fill="#505050"/>
<rect x="234.3" y="304.6" width="0.8" height="0.8" fill="#6c6c6c"/>
<rect x="272.2" y="259.2" width="0.8" height="0.8" fill="#6c6c6c"/>
<rect x="260.6" y="293.1" width="0.8" height="0.8" fill="#505050"/>
<rect x="259.5" y="263.8" width="0.8" height="0.8" fill="#505050"/>
<rect x="265.2" y="265.8" width="0.8" height="0.8" fill="#6c6c6c"/>
<rect x="277.5" y="268.1" width="0.8" height="0.8" fill="#505050"/>
<rect x="241.1" y="317.4" width="0.8" height="0.8" fill="#6c6c6c"/>
<rect x="239.7" y="290.3" width="0.8" height="0.8" fill="#6c6c6c"/>
<rect x="268.2" y="276.7" width="0.8" height="0.8" fill="#505050"/>
<rect x="240.3" y="257.1" width="0.8" height="0.8" fill="#505050"/>
<rect x="260.3" y="288.7" width="0.8" height="0.8" fill="#505050"/>
<rect x="247.2" y="289.9" width="0.8" height="0.8" fill="#505050"/>
<rect x="261.0" y="280.1" width="0.8" height="0.8" fill="#505050"/>
<rect x="247.8" y="268.6" width="0.8" height="0.8" fill="#6c6c6c"/>
<rect x="281.6" y="311.9" width="0.8" height="0.8" fill="#505050"/>
<rect x="278.9" y="290.2" width="0.8" height="0.8" fill="#6c6c6c"/>
<rect x="260.5" y="261.4" width="0.8" height="0.8" fill="#6c6c6c"/>
<rect x="275.5" y="314.5" width="0.8" height="0.8" fill="#505050"/>
<rect x="273.7" y="273.6" width="0.8" height="0.8" fill="#505050"/>
<rect x="267.1" y="303.3" width="0.8" height="0.8" fill="#505050"/>
<rect x="243.0" y="310.3" width="0.8" height="0.8" fill="#6c6c6c"/>
<rect x="242.7" y="309.9" width="0.8" height="0.8" fill="#6c6c6c"/>
<rect x="277.6" y="275.2" width="0.8" height="0.8" fill="#6c6c6c"/>
<rect x="283.0" y="289.7" width="0.8" height="0.8" fill="#6c6c6c"/>
<rect x="268.2" y="285.7" width="0.8" height="0.8" fill="#505050"/>
<rect x="250.9" y="309.4" width="0.8" height="0.8" fill="#6c6c6c"/>
<rect x="279.5" y="306.7" width="0.8" height="0.8" fill="#6c6c6c"/>
<rect x="273.6" y="276.1" width="0.8" height="0.8" fill="#6c6c6c"/>
<rect x="241.2" y="300.6" width="0.8" height="0.8" fill="#6c6c6c"/>
<rect x="264.2" y="291.7" width="0.8" height="0.8" fill="#505050"/>
<rect x="246.7" y="312.3" width="0.8" height="0.8" fill="#505050"/>
<rect x="253.5" y="313.4" width="0.8" height="0.8" fill="#505050"/>
<rect x="246.9" y="281.6" width="0.8" height="0.8" fill="#6c6c6c"/>
<rect x="255.0" y="293.0" width="0.8" height="0.8" fill="#6c6c6c"/>
<rect x="243.2" y="266.5" width="0.8" height="0.8" fill="#505050"/>
<rect x="277.5" y="269.4" width="0.8" height="0.8" fill="#6c6c6c"/>
<rect x="247.8" y="309.7" width="0.8" height="0.8" fill="#6c6c6c"/>
<rect x="237.0" y="309.8" width="0.8" height="0.8" fill="#505050"/>
<rect x="232.4" y="299.6" width="0.8" height="0.8" fill="#505050"/>
<rect x="236.8" y="256.4" width="0.8" height="0.8" fill="#6c6c6c"/>
<rect x="267.3" y="291.4" width="0.8" height="0.8" fill="#6c6c6c"/>
<rect x="244.9" y="301.4" width="0.8" height="0.8" fill="#505050"/>
<rect x="258.2" y="271.7" width="0.8" height="0.8" fill="#505050"/>
<rect x="240.8" y="289.7" width="0.8" height="0.8" fill="#6c6c6c"/>
<rect x="244.6" y="257.6" width="0.8" height="0.8" fill="#6c6c6c"/>
<rect x="248.1" y="266.3" width="0.8" height="0.8" fill="#6c6c6c"/>
<rect x="281.1" y="298.4" width="0.8" height="0.8" fill="#505050"/>
<rect x="261.0" y="266.8" width="0.8" height="0.8" fill="#505050"/>
<rect x="280.8" y="297.4" width="0.8" height="0.8" fill="#505050"/>
<rect x="256.4" y="280.5" width="0.8" height="0.8" fill="#6c6c6c"/>
<rect x="251.8" y="276.6" width="0.8" height="0.8" fill="#505050"/>
<rect x="260.3" y="269.6" width="0.8" height="0.8" fill="#6c6c6c"/>
<rect x="242.3" y="311.1" width="0.8" height="0.8" fill="#6c6c6c"/>
<rect x="232.2" y="294.5" width="0.8" height="0.8" fill="#505050"/>
<circle cx="256.4" cy="302.1" r="0.7" fill="#f0f0f0"/>
<circle cx="238.3" cy="293.4" r="0.7" fill="#f0f0f0"/>
<circle cx="273.6" cy="273.9" r="0.7" fill="#f0f0f0"/>
<circle cx="237.6" cy="279.7" r="0.7" fill="#f0f0f0"/>
<circle cx="271.5" cy="303.2" r="0.7" fill="#f0f0f0"/>
<circle cx="236.2" cy="276.1" r="0.7" fill="#f0f0f0"/>
<circle cx="278.8" cy="273.9" r="0.7" fill="#f0f0f0"/>
<circle cx="237.3" cy="309.8" r="0.7" fill="#f0f0f0"/>
<circle cx="274.0" cy="283.6" r="0.7" fill="#f0f0f0"/>
<circle cx="267.8" cy="302.6" r="0.7" fill="#f0f0f0"/>
<circle cx="274.8" cy="267.7" r="0.7" fill="#f0f0f0"/>
<circle cx="269.5" cy="313.3" r="0.7" fill="#f0f0f0"/>
<circle cx="272.4" cy="288.4" r="0.7" fill="#f0f0f0"/>
<circle cx="252.7" cy="316.7" r="0.7" fill="#f0f0f0"/>
<circle cx="282.7" cy="305.9" r="0.7" fill="#f0f0f0"/>
<circle cx="258.3" cy="311.4" r="0.7" fill="#f0f0f0"/>
<circle cx="276.7" cy="287.3" r="0.7" fill="#f0f0f0"/>
<circle cx="239.6" cy="294.0" r="0.7" fill="#f0f0f0"/>
<circle cx="239.7" cy="276.8" r="0.7" fill="#f0f0f0"/>
<circle cx="261.4" cy="287.1" r="0.7" fill="#f0f0f0"/>
<circle cx="265.2" cy="306.9" r="0.7" fill="#f0f0f0"/>
<circle cx="280.4" cy="275.2" r="0.7" fill="#f0f0f0"/>
<text x="278" y="316" font-size="4.5" font-weight="bold" text-anchor="middle" fill="#fff" >1 μm</text>
<rect x="273" y="318" width="10" height="0.8" fill="#fff"/>
<rect x="348.0" y="199.7" width="18.5" height="122.8" fill="#ecf2fa"/>
<rect x="366.5" y="199.7" width="74.0" height="122.8" fill="#fdf4ec"/>
<rect x="440.5" y="199.7" width="37.0" height="122.8" fill="#eef8e8"/>
<rect x="477.5" y="199.7" width="22.2" height="122.8" fill="#eaf0fa"/>
<polyline points="348.0,322.5 348.9,322.5 349.9,322.5 350.8,322.5 351.7,322.5 352.6,322.5 353.6,322.5 354.5,322.5 355.4,322.5 356.3,322.5 357.2,322.5 358.2,322.5 359.1,322.5 360.0,322.5 360.9,322.5 361.9,322.5 362.8,322.5 363.7,322.5 364.6,322.5 365.6,322.5 366.5,322.5 367.4,322.5 368.4,322.5 369.3,322.2 370.2,321.7 371.1,320.9 372.1,321.0 373.0,320.5 373.9,320.0 374.8,319.9 375.8,319.0 376.7,318.3 377.6,317.5 378.5,317.7 379.4,316.7 380.4,316.3 381.3,314.7 382.2,314.1 383.1,313.9 384.1,312.0 385.0,311.1 385.9,310.5 386.9,309.5 387.8,308.9 388.7,307.9 389.6,306.2 390.6,305.5 391.5,304.0 392.4,302.6 393.3,301.5 394.2,299.6 395.2,298.1 396.1,296.2 397.0,295.0 397.9,293.2 398.9,291.7 399.8,289.8 400.7,288.3 401.6,286.8 402.6,284.2 403.5,282.4 404.4,280.8 405.4,279.1 406.3,277.7 407.2,275.9 408.1,274.0 409.1,272.4 410.0,269.8 410.9,268.4 411.8,266.1 412.8,264.8 413.7,262.4 414.6,260.8 415.5,260.1 416.4,258.2 417.4,255.8 418.3,254.7 419.2,252.6 420.1,251.8 421.1,250.7 422.0,248.7 422.9,247.2 423.9,246.5 424.8,245.5 425.7,244.0 426.6,242.2 427.6,241.3 428.5,241.0 429.4,239.9 430.3,239.1 431.2,238.3 432.2,236.6 433.1,236.5 434.0,235.3 434.9,234.7 435.9,234.3 436.8,233.1 437.7,233.2 438.6,232.0 439.6,232.1 440.5,231.2 441.4,231.0 442.4,230.5 443.3,229.3 444.2,229.1 445.1,229.3 446.1,228.3 447.0,228.7 447.9,228.2 448.8,227.4 449.8,227.4 450.7,227.7 451.6,226.5 452.5,227.2 453.4,226.9 454.4,226.2 455.3,226.5 456.2,226.3 457.1,226.4 458.1,226.3 459.0,225.6 459.9,225.8 460.9,225.3 461.8,225.5 462.7,225.3 463.6,224.6 464.6,225.0 465.5,224.9 466.4,224.5 467.3,225.1 468.2,225.1 469.2,224.2 470.1,224.3 471.0,224.8 471.9,224.8 472.9,224.2 473.8,223.9 474.7,224.7 475.6,223.8 476.6,223.9 477.5,224.1 477.7,228.9 497.9,228.9" fill="none" stroke="#5a8a3a" stroke-width="1.1" stroke-linejoin="round"/>
<text x="501" y="230.9" font-size="6.2" font-weight="bold" text-anchor="start" fill="#222" >10,000 pg/ml</text>
<polyline points="348.0,322.5 348.9,322.5 349.9,322.5 350.8,322.5 351.7,322.5 352.6,322.5 353.6,322.5 354.5,322.5 355.4,322.5 356.3,322.5 357.2,322.5 358.2,322.5 359.1,322.5 360.0,322.5 360.9,322.5 361.9,322.5 362.8,322.5 363.7,322.5 364.6,322.5 365.6,322.5 366.5,322.5 367.4,322.5 368.4,322.5 369.3,322.3 370.2,322.4 371.1,322.2 372.1,321.0 373.0,321.4 373.9,320.6 374.8,320.7 375.8,319.8 376.7,319.6 377.6,319.5 378.5,319.1 379.4,318.2 380.4,318.3 381.3,317.6 382.2,316.7 383.1,315.9 384.1,315.5 385.0,315.1 385.9,313.8 386.9,313.7 387.8,313.1 388.7,312.1 389.6,311.1 390.6,310.6 391.5,309.5 392.4,308.4 393.3,307.2 394.2,306.6 395.2,305.3 396.1,303.7 397.0,302.4 397.9,301.5 398.9,300.3 399.8,299.1 400.7,298.2 401.6,297.0 402.6,295.7 403.5,293.5 404.4,292.3 405.4,290.6 406.3,290.1 407.2,288.1 408.1,286.8 409.1,285.1 410.0,284.0 410.9,281.9 411.8,281.3 412.8,279.5 413.7,277.9 414.6,276.4 415.5,275.1 416.4,273.8 417.4,272.4 418.3,271.0 419.2,270.3 420.1,268.7 421.1,267.3 422.0,266.2 422.9,265.5 423.9,264.1 424.8,263.0 425.7,262.2 426.6,261.2 427.6,260.5 428.5,259.5 429.4,258.6 430.3,258.3 431.2,257.0 432.2,255.9 433.1,255.3 434.0,254.8 434.9,254.5 435.9,253.6 436.8,253.2 437.7,252.8 438.6,251.9 439.6,252.1 440.5,251.1 441.4,251.3 442.4,250.4 443.3,250.1 444.2,250.0 445.1,249.3 446.1,249.1 447.0,248.7 447.9,248.2 448.8,248.5 449.8,248.5 450.7,248.0 451.6,247.5 452.5,247.7 453.4,247.6 454.4,246.7 455.3,246.8 456.2,246.8 457.1,246.3 458.1,246.7 459.0,246.3 459.9,246.6 460.9,246.2 461.8,245.8 462.7,245.6 463.6,245.6 464.6,245.9 465.5,245.7 466.4,245.9 467.3,245.9 468.2,245.6 469.2,245.2 470.1,245.1 471.0,245.2 471.9,244.9 472.9,245.5 473.8,245.6 474.7,245.3 475.6,245.4 476.6,245.4 477.5,245.2 477.7,247.3 497.9,247.3" fill="none" stroke="#f0c020" stroke-width="1.1" stroke-linejoin="round"/>
<text x="501" y="249.3" font-size="6.2" font-weight="bold" text-anchor="start" fill="#222" >5000 pg/ml</text>
<polyline points="348.0,322.5 348.9,322.5 349.9,322.5 350.8,322.5 351.7,322.5 352.6,322.5 353.6,322.5 354.5,322.5 355.4,322.5 356.3,322.5 357.2,322.5 358.2,322.5 359.1,322.5 360.0,322.5 360.9,322.5 361.9,322.5 362.8,322.5 363.7,322.5 364.6,322.5 365.6,322.5 366.5,322.5 367.4,322.5 368.4,322.5 369.3,322.5 370.2,322.5 371.1,322.2 372.1,322.1 373.0,322.0 373.9,321.3 374.8,320.9 375.8,321.0 376.7,321.0 377.6,320.7 378.5,319.6 379.4,319.9 380.4,319.0 381.3,318.6 382.2,318.4 383.1,317.5 384.1,317.6 385.0,317.0 385.9,316.2 386.9,315.9 387.8,314.6 388.7,314.4 389.6,313.8 390.6,313.2 391.5,311.9 392.4,311.3 393.3,310.3 394.2,309.4 395.2,308.4 396.1,307.3 397.0,306.5 397.9,305.9 398.9,304.7 399.8,303.8 400.7,302.9 401.6,301.4 402.6,300.0 403.5,299.3 404.4,298.0 405.4,296.7 406.3,295.2 407.2,294.1 408.1,292.8 409.1,291.4 410.0,290.4 410.9,288.8 411.8,287.5 412.8,286.9 413.7,284.9 414.6,283.9 415.5,283.1 416.4,281.7 417.4,280.3 418.3,278.9 419.2,278.2 420.1,277.0 421.1,275.6 422.0,274.6 422.9,273.5 423.9,272.9 424.8,271.8 425.7,271.3 426.6,269.9 427.6,269.0 428.5,268.3 429.4,267.5 430.3,267.2 431.2,265.9 432.2,265.1 433.1,264.5 434.0,264.3 434.9,263.5 435.9,263.3 436.8,262.3 437.7,261.8 438.6,261.8 439.6,261.6 440.5,260.8 441.4,260.4 442.4,259.8 443.3,259.7 444.2,259.7 445.1,258.8 446.1,259.1 447.0,258.2 447.9,258.5 448.8,258.1 449.8,257.5 450.7,257.8 451.6,257.6 452.5,257.2 453.4,256.8 454.4,256.6 455.3,256.5 456.2,256.2 457.1,256.4 458.1,255.9 459.0,256.5 459.9,256.3 460.9,255.9 461.8,256.0 462.7,255.6 463.6,255.6 464.6,255.6 465.5,255.3 466.4,255.4 467.3,255.6 468.2,255.5 469.2,255.0 470.1,254.9 471.0,255.5 471.9,254.9 472.9,254.7 473.8,255.1 474.7,255.0 475.6,255.3 476.6,255.0 477.5,255.0 477.7,260.2 497.9,260.2" fill="none" stroke="#2a70b0" stroke-width="1.1" stroke-linejoin="round"/>
<text x="501" y="262.2" font-size="6.2" font-weight="bold" text-anchor="start" fill="#222" >3000 pg/ml</text>
<polyline points="348.0,322.5 348.9,322.5 349.9,322.5 350.8,322.5 351.7,322.5 352.6,322.5 353.6,322.5 354.5,322.5 355.4,322.5 356.3,322.5 357.2,322.5 358.2,322.5 359.1,322.5 360.0,322.5 360.9,322.5 361.9,322.5 362.8,322.5 363.7,322.5 364.6,322.5 365.6,322.5 366.5,322.5 367.4,322.5 368.4,322.5 369.3,322.5 370.2,322.5 371.1,322.5 372.1,322.5 373.0,322.5 373.9,322.5 374.8,322.5 375.8,322.5 376.7,322.5 377.6,322.5 378.5,322.5 379.4,322.5 380.4,322.5 381.3,322.5 382.2,322.0 383.1,321.9 384.1,321.0 385.0,320.7 385.9,320.2 386.9,319.5 387.8,319.1 388.7,318.5 389.6,317.8 390.6,317.4 391.5,316.5 392.4,315.9 393.3,314.9 394.2,314.2 395.2,313.8 396.1,312.9 397.0,312.3 397.9,311.4 398.9,310.5 399.8,309.7 400.7,309.1 401.6,308.4 402.6,307.8 403.5,306.9 404.4,306.0 405.4,305.7 406.3,304.8 407.2,304.5 408.1,303.8 409.1,303.2 410.0,302.5 410.9,302.1 411.8,301.6 412.8,301.0 413.7,300.9 414.6,300.2 415.5,300.1 416.4,299.5 417.4,299.3 418.3,299.0 419.2,298.6 420.1,298.4 421.1,298.2 422.0,297.9 422.9,297.7 423.9,297.7 424.8,297.5 425.7,297.1 426.6,296.9 427.6,296.9 428.5,296.6 429.4,296.6 430.3,296.4 431.2,296.6 432.2,296.2 433.1,296.1 434.0,296.0 434.9,296.2 435.9,296.2 436.8,295.8 437.7,296.1 438.6,295.7 439.6,295.7 440.5,296.0 441.4,295.9 442.4,295.7 443.3,295.9 444.2,295.9 445.1,295.6 446.1,295.7 447.0,295.5 447.9,295.8 448.8,295.7 449.8,295.5 450.7,295.8 451.6,295.7 452.5,295.5 453.4,295.4 454.4,295.3 455.3,295.7 456.2,295.5 457.1,295.4 458.1,295.5 459.0,295.4 459.9,295.7 460.9,295.7 461.8,295.7 462.7,295.7 463.6,295.5 464.6,295.5 465.5,295.5 466.4,295.7 467.3,295.6 468.2,295.6 469.2,295.3 470.1,295.3 471.0,295.3 471.9,295.7 472.9,295.7 473.8,295.3 474.7,295.5 475.6,295.4 476.6,295.6 477.5,295.5 477.7,297.0 497.9,297.0" fill="none" stroke="#a8a8a0" stroke-width="1.1" stroke-linejoin="round"/>
<text x="501" y="299.0" font-size="6.2" font-weight="bold" text-anchor="start" fill="#222" >1000 pg/ml</text>
<polyline points="348.0,322.5 348.9,322.5 349.9,322.5 350.8,322.5 351.7,322.5 352.6,322.5 353.6,322.5 354.5,322.5 355.4,322.5 356.3,322.5 357.2,322.5 358.2,322.5 359.1,322.5 360.0,322.5 360.9,322.5 361.9,322.5 362.8,322.5 363.7,322.5 364.6,322.5 365.6,322.5 366.5,322.5 367.4,322.5 368.4,322.5 369.3,322.5 370.2,322.5 371.1,322.5 372.1,322.5 373.0,322.5 373.9,322.5 374.8,322.5 375.8,322.5 376.7,322.5 377.6,322.5 378.5,322.5 379.4,322.5 380.4,322.5 381.3,322.5 382.2,322.4 383.1,322.3 384.1,322.1 385.0,322.2 385.9,321.8 386.9,321.5 387.8,321.7 388.7,321.4 389.6,321.1 390.6,321.1 391.5,321.0 392.4,320.9 393.3,320.6 394.2,320.6 395.2,320.0 396.1,319.9 397.0,319.7 397.9,319.5 398.9,319.4 399.8,319.3 400.7,319.0 401.6,318.8 402.6,318.4 403.5,318.2 404.4,318.3 405.4,317.8 406.3,317.6 407.2,317.4 408.1,317.1 409.1,317.0 410.0,316.6 410.9,316.4 411.8,316.2 412.8,315.9 413.7,315.7 414.6,315.6 415.5,315.2 416.4,315.2 417.4,314.8 418.3,314.5 419.2,314.4 420.1,314.0 421.1,313.7 422.0,313.4 422.9,313.3 423.9,312.7 424.8,312.6 425.7,312.5 426.6,312.1 427.6,311.9 428.5,311.6 429.4,311.4 430.3,310.9 431.2,310.8 432.2,310.6 433.1,310.3 434.0,310.0 434.9,310.1 435.9,309.6 436.8,309.3 437.7,309.3 438.6,309.0 439.6,308.9 440.5,308.7 441.4,308.4 442.4,308.3 443.3,308.0 444.2,307.5 445.1,307.5 446.1,307.3 447.0,306.9 447.9,306.9 448.8,306.5 449.8,306.5 450.7,306.2 451.6,306.3 452.5,306.0 453.4,305.7 454.4,305.9 455.3,305.3 456.2,305.5 457.1,305.2 458.1,305.2 459.0,304.9 459.9,304.7 460.9,304.8 461.8,304.3 462.7,304.4 463.6,304.3 464.6,304.1 465.5,304.1 466.4,304.0 467.3,303.8 468.2,303.7 469.2,303.7 470.1,303.4 471.0,303.5 471.9,303.5 472.9,303.4 473.8,303.4 474.7,303.2 475.6,302.9 476.6,303.0 477.5,302.7 477.7,305.0 497.9,305.0" fill="none" stroke="#e82828" stroke-width="1.1" stroke-linejoin="round"/>
<text x="501" y="307.0" font-size="6.2" font-weight="bold" text-anchor="start" fill="#222" >500 pg/ml</text>
<polyline points="348.0,322.5 348.9,322.5 349.9,322.5 350.8,322.5 351.7,322.5 352.6,322.5 353.6,322.5 354.5,322.5 355.4,322.5 356.3,322.5 357.2,322.5 358.2,322.5 359.1,322.5 360.0,322.5 360.9,322.5 361.9,322.5 362.8,322.5 363.7,322.5 364.6,322.5 365.6,322.5 366.5,322.5 367.4,322.5 368.4,322.5 369.3,322.5 370.2,322.5 371.1,322.5 372.1,322.5 373.0,322.5 373.9,322.5 374.8,322.5 375.8,322.5 376.7,322.5 377.6,322.5 378.5,322.5 379.4,322.5 380.4,322.5 381.3,322.5 382.2,322.5 383.1,322.5 384.1,322.5 385.0,322.5 385.9,322.5 386.9,322.5 387.8,322.5 388.7,322.5 389.6,322.4 390.6,322.5 391.5,322.1 392.4,322.1 393.3,322.3 394.2,322.0 395.2,322.0 396.1,321.9 397.0,321.7 397.9,321.8 398.9,321.7 399.8,321.5 400.7,321.5 401.6,321.4 402.6,321.2 403.5,321.2 404.4,321.1 405.4,321.2 406.3,320.9 407.2,320.9 408.1,320.9 409.1,320.8 410.0,320.6 410.9,320.6 411.8,320.4 412.8,320.2 413.7,320.2 414.6,320.1 415.5,319.9 416.4,319.9 417.4,319.7 418.3,319.6 419.2,319.4 420.1,319.3 421.1,319.2 422.0,319.3 422.9,319.2 423.9,318.9 424.8,318.8 425.7,318.7 426.6,318.7 427.6,318.6 428.5,318.4 429.4,318.3 430.3,318.2 431.2,318.1 432.2,318.0 433.1,318.0 434.0,317.9 434.9,317.6 435.9,317.5 436.8,317.4 437.7,317.6 438.6,317.5 439.6,317.3 440.5,317.2 441.4,317.0 442.4,317.1 443.3,316.9 444.2,317.0 445.1,316.9 446.1,316.6 447.0,316.6 447.9,316.5 448.8,316.5 449.8,316.4 450.7,316.4 451.6,316.2 452.5,316.1 453.4,316.0 454.4,316.1 455.3,316.0 456.2,315.8 457.1,315.8 458.1,315.7 459.0,315.8 459.9,315.7 460.9,315.6 461.8,315.4 462.7,315.5 463.6,315.4 464.6,315.2 465.5,315.4 466.4,315.3 467.3,315.2 468.2,315.1 469.2,315.2 470.1,315.1 471.0,315.2 471.9,314.9 472.9,315.1 473.8,315.1 474.7,314.9 475.6,314.9 476.6,314.8 477.5,314.9 477.7,315.1 497.9,315.1" fill="none" stroke="#8a5aa8" stroke-width="1.1" stroke-linejoin="round"/>
<text x="501" y="317.1" font-size="6.2" font-weight="bold" text-anchor="start" fill="#222" >250 pg/ml</text>
<line x1="348.0" y1="198.7" x2="348.0" y2="322.5" stroke="#333" stroke-width="1"/>
<line x1="348.0" y1="322.5" x2="514.5" y2="322.5" stroke="#333" stroke-width="1"/>
<line x1="346.0" y1="322.5" x2="348.0" y2="322.5" stroke="#333" stroke-width="0.8"/>
<text x="342.3" y="325.5" font-size="8.4" font-weight="bold" text-anchor="end" fill="#222" textLength="3.9" lengthAdjust="spacingAndGlyphs" >0</text>
<line x1="346.0" y1="291.8" x2="348.0" y2="291.8" stroke="#333" stroke-width="0.8"/>
<text x="342.3" y="294.8" font-size="8.4" font-weight="bold" text-anchor="end" fill="#222" textLength="10" lengthAdjust="spacingAndGlyphs" >0.1</text>
<line x1="346.0" y1="261.1" x2="348.0" y2="261.1" stroke="#333" stroke-width="0.8"/>
<text x="342.3" y="264.1" font-size="8.4" font-weight="bold" text-anchor="end" fill="#222" textLength="10" lengthAdjust="spacingAndGlyphs" >0.2</text>
<line x1="346.0" y1="230.4" x2="348.0" y2="230.4" stroke="#333" stroke-width="0.8"/>
<text x="342.3" y="233.4" font-size="8.4" font-weight="bold" text-anchor="end" fill="#222" textLength="10" lengthAdjust="spacingAndGlyphs" >0.3</text>
<line x1="346.0" y1="199.7" x2="348.0" y2="199.7" stroke="#333" stroke-width="0.8"/>
<text x="342.3" y="202.7" font-size="8.4" font-weight="bold" text-anchor="end" fill="#222" textLength="10" lengthAdjust="spacingAndGlyphs" >0.4</text>
<line x1="348.0" y1="322.5" x2="348.0" y2="324.5" stroke="#333" stroke-width="0.8"/>
<text x="348.0" y="337.2" font-size="8.4" font-weight="bold" text-anchor="middle" fill="#222" textLength="3.9" lengthAdjust="spacingAndGlyphs" >0</text>
<line x1="366.5" y1="322.5" x2="366.5" y2="324.5" stroke="#333" stroke-width="0.8"/>
<text x="366.5" y="337.2" font-size="8.4" font-weight="bold" text-anchor="middle" fill="#222" textLength="3.9" lengthAdjust="spacingAndGlyphs" >5</text>
<line x1="385.0" y1="322.5" x2="385.0" y2="324.5" stroke="#333" stroke-width="0.8"/>
<text x="385.0" y="337.2" font-size="8.4" font-weight="bold" text-anchor="middle" fill="#222" textLength="7.8" lengthAdjust="spacingAndGlyphs" >10</text>
<line x1="403.5" y1="322.5" x2="403.5" y2="324.5" stroke="#333" stroke-width="0.8"/>
<text x="403.5" y="337.2" font-size="8.4" font-weight="bold" text-anchor="middle" fill="#222" textLength="7.8" lengthAdjust="spacingAndGlyphs" >15</text>
<line x1="422.0" y1="322.5" x2="422.0" y2="324.5" stroke="#333" stroke-width="0.8"/>
<text x="422.0" y="337.2" font-size="8.4" font-weight="bold" text-anchor="middle" fill="#222" textLength="7.8" lengthAdjust="spacingAndGlyphs" >20</text>
<line x1="440.5" y1="322.5" x2="440.5" y2="324.5" stroke="#333" stroke-width="0.8"/>
<text x="440.5" y="337.2" font-size="8.4" font-weight="bold" text-anchor="middle" fill="#222" textLength="7.8" lengthAdjust="spacingAndGlyphs" >25</text>
<line x1="459.0" y1="322.5" x2="459.0" y2="324.5" stroke="#333" stroke-width="0.8"/>
<text x="459.0" y="337.2" font-size="8.4" font-weight="bold" text-anchor="middle" fill="#222" textLength="7.8" lengthAdjust="spacingAndGlyphs" >30</text>
<line x1="477.5" y1="322.5" x2="477.5" y2="324.5" stroke="#333" stroke-width="0.8"/>
<text x="477.5" y="337.2" font-size="8.4" font-weight="bold" text-anchor="middle" fill="#222" textLength="7.8" lengthAdjust="spacingAndGlyphs" >35</text>
<line x1="496.0" y1="322.5" x2="496.0" y2="324.5" stroke="#333" stroke-width="0.8"/>
<text x="496.0" y="337.2" font-size="8.4" font-weight="bold" text-anchor="middle" fill="#222" textLength="7.8" lengthAdjust="spacingAndGlyphs" >40</text>
<line x1="514.5" y1="322.5" x2="514.5" y2="324.5" stroke="#333" stroke-width="0.8"/>
<text x="514.5" y="337.2" font-size="8.4" font-weight="bold" text-anchor="middle" fill="#222" textLength="7.8" lengthAdjust="spacingAndGlyphs" >45</text>
<text x="410.5" y="350.4" font-size="8.4" font-weight="bold" text-anchor="start" fill="#222" textLength="35.3" lengthAdjust="spacingAndGlyphs" >Time (min)</text>
<text x="0" y="0" font-size="8" font-weight="bold" fill="#222" text-anchor="middle" textLength="80" lengthAdjust="spacingAndGlyphs" transform="translate(322.8,253.5) rotate(-90)">LSPRmi Signal ΔI/I</text>
<line x1="352.4" y1="201.8" x2="360.4" y2="201.8" stroke="#5a8a3a" stroke-width="1.3"/>
<text x="360.9" y="204.3" font-size="6.9" font-weight="bold" text-anchor="start" fill="#333" textLength="11.3" lengthAdjust="spacingAndGlyphs" >IL-2</text>
<line x1="352.4" y1="212.85000000000002" x2="360.4" y2="212.85000000000002" stroke="#2a70b0" stroke-width="1.3"/>
<text x="360.9" y="215.35000000000002" font-size="6.9" font-weight="bold" text-anchor="start" fill="#333" textLength="11.3" lengthAdjust="spacingAndGlyphs" >IL-6</text>
<line x1="352.4" y1="223.9" x2="360.4" y2="223.9" stroke="#e82828" stroke-width="1.3"/>
<text x="360.9" y="226.4" font-size="6.9" font-weight="bold" text-anchor="start" fill="#333" textLength="18.2" lengthAdjust="spacingAndGlyphs" >TNF-α</text>
<line x1="387.6" y1="201.8" x2="395.7" y2="201.8" stroke="#f0c020" stroke-width="1.3"/>
<text x="396.5" y="204.3" font-size="6.9" font-weight="bold" text-anchor="start" fill="#333" textLength="11.3" lengthAdjust="spacingAndGlyphs" >IL-4</text>
<line x1="387.6" y1="212.85000000000002" x2="395.7" y2="212.85000000000002" stroke="#a8a8a0" stroke-width="1.3"/>
<text x="396.5" y="215.35000000000002" font-size="6.9" font-weight="bold" text-anchor="start" fill="#333" textLength="14.7" lengthAdjust="spacingAndGlyphs" >IL-10</text>
<line x1="387.6" y1="223.9" x2="395.7" y2="223.9" stroke="#8a5aa8" stroke-width="1.3"/>
<text x="396.5" y="226.4" font-size="6.9" font-weight="bold" text-anchor="start" fill="#333" textLength="17" lengthAdjust="spacingAndGlyphs" >IFN-γ</text>
<text x="382.7" y="258.4" font-size="7.2" font-weight="bold" text-anchor="start" fill="#222" textLength="30.3" lengthAdjust="spacingAndGlyphs" >Incubation</text>
<text x="440.8" y="216.2" font-size="7.2" font-weight="bold" text-anchor="start" fill="#222" textLength="36.2" lengthAdjust="spacingAndGlyphs" >Equilibration</text>
<text x="481.6" y="224.5" font-size="7.4" font-weight="bold" text-anchor="start" fill="#222" textLength="15.6" lengthAdjust="spacingAndGlyphs" >Wash</text>
<text x="353" y="316.6" font-size="7" font-weight="bold" text-anchor="start" fill="#222" textLength="9.4" lengthAdjust="spacingAndGlyphs" >Pre</text>
<defs><radialGradient id="memb" cx="0.45" cy="0.4" r="0.6"><stop offset="0" stop-color="#ffffff"/><stop offset="0.7" stop-color="#f2ecf6"/><stop offset="1" stop-color="#d8cce8"/></radialGradient><radialGradient id="nuc" cx="0.4" cy="0.35" r="0.7"><stop offset="0" stop-color="#f4ecf8"/><stop offset="0.55" stop-color="#c0a4d4"/><stop offset="1" stop-color="#7a5c98"/></radialGradient><linearGradient id="bluebox" x1="0" y1="0" x2="1" y2="0"><stop offset="0" stop-color="#e4f0fa"/><stop offset="1" stop-color="#a8d0ee"/></linearGradient><linearGradient id="pinkbox" x1="0" y1="0" x2="1" y2="0"><stop offset="0" stop-color="#fceef4"/><stop offset="1" stop-color="#f6c4dc"/></linearGradient></defs>
<rect x="19.9" y="412.9" width="37.2" height="9" fill="#eef6fc" stroke="#555" stroke-width="0.5"/>
<rect x="57.1" y="412.9" width="36.5" height="9" fill="#c8e2f6" stroke="#555" stroke-width="0.5"/>
<rect x="93.60" y="412.9" width="6.75" height="9" fill="#fce8f0" stroke="#555" stroke-width="0.4"/>
<rect x="100.35" y="412.9" width="6.75" height="9" fill="#f9d4e4" stroke="#555" stroke-width="0.4"/>
<rect x="107.10" y="412.9" width="6.75" height="9" fill="#f6c0d8" stroke="#555" stroke-width="0.4"/>
<rect x="113.85" y="412.9" width="6.75" height="9" fill="#f2aacb" stroke="#555" stroke-width="0.4"/>
<rect x="120.60" y="412.9" width="6.75" height="9" fill="#ee94be" stroke="#555" stroke-width="0.4"/>
<rect x="127.35" y="412.9" width="6.75" height="9" fill="#e87cb0" stroke="#555" stroke-width="0.4"/>
<text x="20.4" y="429.6" font-size="4.6" font-weight="bold" text-anchor="middle" fill="#222" >0</text>
<text x="54.7" y="429.6" font-size="4.6" font-weight="bold" text-anchor="start" fill="#222" textLength="4.9" lengthAdjust="spacingAndGlyphs" >1hr</text>
<text x="90.6" y="429.6" font-size="4.6" font-weight="bold" text-anchor="start" fill="#222" textLength="5.8" lengthAdjust="spacingAndGlyphs" >2hr</text>
<text x="99.3" y="429.6" font-size="4.6" font-weight="bold" text-anchor="start" fill="#222" textLength="4.2" lengthAdjust="spacingAndGlyphs" >10</text>
<text x="105.5" y="429.6" font-size="4.6" font-weight="bold" text-anchor="start" fill="#222" textLength="4.2" lengthAdjust="spacingAndGlyphs" >20</text>
<text x="113" y="429.6" font-size="4.6" font-weight="bold" text-anchor="start" fill="#222" textLength="4.2" lengthAdjust="spacingAndGlyphs" >30</text>
<text x="119.2" y="429.6" font-size="4.6" font-weight="bold" text-anchor="start" fill="#222" textLength="4.2" lengthAdjust="spacingAndGlyphs" >40</text>
<text x="125.9" y="429.6" font-size="4.6" font-weight="bold" text-anchor="start" fill="#222" textLength="4.2" lengthAdjust="spacingAndGlyphs" >50</text>
<text x="132.8" y="429.6" font-size="4.6" font-weight="bold" text-anchor="start" fill="#222" textLength="11.2" lengthAdjust="spacingAndGlyphs" >60min</text>
<line x1="20.4" y1="437.3" x2="20.4" y2="433" stroke="#2040d0" stroke-width="0.8"/><polygon points="20.4,431 19.1,433.6 21.7,433.6" fill="#2040d0"/>
<line x1="94.4" y1="437.3" x2="94.4" y2="433" stroke="#e02020" stroke-width="0.8"/><polygon points="94.4,431 93.1,433.6 95.7,433.6" fill="#e02020"/>
<text x="15.5" y="444" font-size="5.4" font-weight="bold" text-anchor="start" fill="#222" textLength="62" lengthAdjust="spacingAndGlyphs" >PMA + Ionomycin stimulation</text>
<text x="89.9" y="444" font-size="5.4" font-weight="bold" text-anchor="start" fill="#222" textLength="44.2" lengthAdjust="spacingAndGlyphs" >Tacro. Administration</text>
<text x="107.2" y="393" font-size="5.4" font-weight="bold" text-anchor="start" fill="#222" textLength="28.7" lengthAdjust="spacingAndGlyphs" >Cell secretion</text>
<text x="102.8" y="400.6" font-size="5.4" font-weight="bold" text-anchor="start" fill="#222" textLength="37.5" lengthAdjust="spacingAndGlyphs" >samples collected</text>
<text x="108.3" y="407.6" font-size="5.4" font-weight="bold" text-anchor="start" fill="#222" textLength="26.5" lengthAdjust="spacingAndGlyphs" >every 10min</text>
<g transform="translate(40,394) scale(1.05)"><polygon points="0,6 14,0 22,5 8,12" fill="#f0eaea" stroke="#666" stroke-width="0.5"/><polygon points="0,6 8,12 8,14 0,8" fill="#888"/><polygon points="8,12 22,5 22,7 8,14" fill="#aaa"/><ellipse cx="6" cy="5.5" rx="1.8" ry="1.1" fill="#c04050"/><ellipse cx="10" cy="3.7" rx="1.8" ry="1.1" fill="#c04050"/><ellipse cx="14" cy="2" rx="1.8" ry="1.1" fill="#c04050"/><ellipse cx="9" cy="8.3" rx="1.8" ry="1.1" fill="#c04050"/><ellipse cx="13" cy="6.5" rx="1.8" ry="1.1" fill="#c04050"/><ellipse cx="17" cy="4.8" rx="1.8" ry="1.1" fill="#c04050"/></g>
<polygon points="59.2,404 60.4,404.5 71.6,381.5 69.8,380.6" fill="#e8e8ec" stroke="#777" stroke-width="0.5"/><circle cx="70.8" cy="380" r="0.9" fill="#2050d0"/>
<polygon points="142.6,399 143.8,399.4 148.6,388.2 147.2,387.6" fill="#e8e8ec" stroke="#777" stroke-width="0.5"/><circle cx="148" cy="387.4" r="0.8" fill="#2050d0"/>
<line x1="97" y1="410" x2="110" y2="395" stroke="#99b" stroke-width="0.4" stroke-dasharray="1,0.6"/>
<rect x="13.2" y="448.3" width="64.8" height="64.7" rx="8" fill="url(#bluebox)" stroke="#444" stroke-width="0.8"/>
<rect x="84.1" y="448.3" width="64.8" height="64.7" rx="8" fill="url(#pinkbox)" stroke="#444" stroke-width="0.8"/>
<ellipse cx="29.3" cy="472" rx="10.3" ry="11" fill="url(#memb)" stroke="#a090c0" stroke-width="0.7"/>
<circle cx="29.3" cy="473.3" r="7.2" fill="url(#nuc)"/>
<ellipse cx="55.5" cy="490.2" rx="11.8" ry="14" fill="url(#memb)" stroke="#a090c0" stroke-width="0.7"/>
<circle cx="56.3" cy="490.8" r="7.9" fill="url(#nuc)"/>
<ellipse cx="98.8" cy="470.7" rx="10.5" ry="11" fill="url(#memb)" stroke="#a090c0" stroke-width="0.7"/>
<circle cx="98.8" cy="472.7" r="7.1" fill="url(#nuc)"/>
<ellipse cx="128.4" cy="489.2" rx="11.6" ry="13.5" fill="url(#memb)" stroke="#a090c0" stroke-width="0.7"/>
<circle cx="127.0" cy="489.2" r="8.1" fill="url(#nuc)"/>
<text x="34.5" y="455" font-size="5.4" font-weight="bold" text-anchor="start" fill="#222" textLength="37.7" lengthAdjust="spacingAndGlyphs" >PMA + Ionomycin</text>
<polygon points="41,456.5 45,458 42.5,466 39,463 36,465" fill="#2070d0"/>
<text x="110.3" y="455" font-size="5.4" font-weight="bold" text-anchor="start" fill="#222" textLength="21.5" lengthAdjust="spacingAndGlyphs" >Tacrolimus</text>
<polygon points="109,456.5 112,459 107.5,466 106,462 103,462" fill="#e02020"/>
<text x="17.1" y="488.7" font-size="5.4" font-weight="bold" text-anchor="start" fill="#222" textLength="21.5" lengthAdjust="spacingAndGlyphs" >Jurkat cell</text>
<text x="90.4" y="504.7" font-size="5.4" font-weight="bold" text-anchor="start" fill="#222" textLength="17.7" lengthAdjust="spacingAndGlyphs" >Cytokine</text>
<line x1="110.5" y1="503" x2="116" y2="503" stroke="#222" stroke-width="0.6"/><polygon points="117.5,503 115.5,501.8 115.5,504.2" fill="#222"/>
<line x1="102" y1="494" x2="103" y2="498" stroke="#222" stroke-width="0.5"/>
<path d="M41.1,476.2 l1.5,-0.6 l-0.3,1.6 z" fill="#2080d0" stroke="#2080d0" stroke-width="0.5"/>
<path d="M137.6,509.4 l1.5,-0.6 l-0.3,1.6 z" fill="#e04060" stroke="#e04060" stroke-width="0.5"/>
<path d="M46.3,465.7 l1.5,-0.6 l-0.3,1.6 z" fill="#20a080" stroke="#20a080" stroke-width="0.5"/>
<path d="M38.3,486.0 l1.5,-0.6 l-0.3,1.6 z" fill="#20a080" stroke="#20a080" stroke-width="0.5"/>
<path d="M63.6,465.5 l1.5,-0.6 l-0.3,1.6 z" fill="#f08040" stroke="#f08040" stroke-width="0.5"/>
<path d="M42.2,509.7 l1.5,-0.6 l-0.3,1.6 z" fill="#e04060" stroke="#e04060" stroke-width="0.5"/>
<path d="M89.0,471.1 l1.5,-0.6 l-0.3,1.6 z" fill="#e04060" stroke="#e04060" stroke-width="0.5"/>
<path d="M54.9,506.4 l1.5,-0.6 l-0.3,1.6 z" fill="#20a080" stroke="#20a080" stroke-width="0.5"/>
<path d="M60.5,457.1 l1.5,-0.6 l-0.3,1.6 z" fill="#20a080" stroke="#20a080" stroke-width="0.5"/>
<path d="M96.7,494.3 l1.5,-0.6 l-0.3,1.6 z" fill="#e04060" stroke="#e04060" stroke-width="0.5"/>
<path d="M96.1,490.6 l1.5,-0.6 l-0.3,1.6 z" fill="#e04060" stroke="#e04060" stroke-width="0.5"/>
<path d="M20.5,463.4 l1.5,-0.6 l-0.3,1.6 z" fill="#20a080" stroke="#20a080" stroke-width="0.5"/>
<path d="M49.6,484.4 l1.5,-0.6 l-0.3,1.6 z" fill="#e04060" stroke="#e04060" stroke-width="0.5"/>
<path d="M36.5,460.5 l1.5,-0.6 l-0.3,1.6 z" fill="#e04060" stroke="#e04060" stroke-width="0.5"/>
<path d="M108.9,478.2 l1.5,-0.6 l-0.3,1.6 z" fill="#e04060" stroke="#e04060" stroke-width="0.5"/>
<path d="M146.7,474.4 l1.5,-0.6 l-0.3,1.6 z" fill="#20a080" stroke="#20a080" stroke-width="0.5"/>
<path d="M25.5,493.5 l1.5,-0.6 l-0.3,1.6 z" fill="#e04060" stroke="#e04060" stroke-width="0.5"/>
<path d="M45.5,483.9 l1.5,-0.6 l-0.3,1.6 z" fill="#f08040" stroke="#f08040" stroke-width="0.5"/>
<path d="M120.4,488.1 l1.5,-0.6 l-0.3,1.6 z" fill="#f08040" stroke="#f08040" stroke-width="0.5"/>
<path d="M53.6,500.4 l1.5,-0.6 l-0.3,1.6 z" fill="#2080d0" stroke="#2080d0" stroke-width="0.5"/>
<path d="M132.7,505.9 l1.5,-0.6 l-0.3,1.6 z" fill="#f08040" stroke="#f08040" stroke-width="0.5"/>
<path d="M26.1,505.5 l1.5,-0.6 l-0.3,1.6 z" fill="#f08040" stroke="#f08040" stroke-width="0.5"/>
<polyline points="16,513 33,524" stroke="#333" stroke-width="0.5" stroke-dasharray="1.5,1" fill="none"/>
<polyline points="76,513 52,524" stroke="#333" stroke-width="0.5" stroke-dasharray="1.5,1" fill="none"/>
<polyline points="87,513 106,527" stroke="#333" stroke-width="0.5" stroke-dasharray="1.5,1" fill="none"/>
<polyline points="147,513 127,527" stroke="#333" stroke-width="0.5" stroke-dasharray="1.5,1" fill="none"/>
<g transform="translate(33,521) scale(0.92)"><polygon points="0,6 14,0 22,5 8,12" fill="#f0eaea" stroke="#666" stroke-width="0.5"/><polygon points="0,6 8,12 8,14 0,8" fill="#888"/><polygon points="8,12 22,5 22,7 8,14" fill="#aaa"/><ellipse cx="6" cy="5.5" rx="1.8" ry="1.1" fill="#c04050"/><ellipse cx="10" cy="3.7" rx="1.8" ry="1.1" fill="#c04050"/><ellipse cx="14" cy="2" rx="1.8" ry="1.1" fill="#c04050"/><ellipse cx="9" cy="8.3" rx="1.8" ry="1.1" fill="#c04050"/><ellipse cx="13" cy="6.5" rx="1.8" ry="1.1" fill="#c04050"/><ellipse cx="17" cy="4.8" rx="1.8" ry="1.1" fill="#c04050"/></g>
<g transform="translate(108,523) scale(0.95)"><polygon points="0,6 14,0 22,5 8,12" fill="#f0eaea" stroke="#666" stroke-width="0.5"/><polygon points="0,6 8,12 8,14 0,8" fill="#888"/><polygon points="8,12 22,5 22,7 8,14" fill="#aaa"/><ellipse cx="6" cy="5.5" rx="1.8" ry="1.1" fill="#c04050"/><ellipse cx="10" cy="3.7" rx="1.8" ry="1.1" fill="#c04050"/><ellipse cx="14" cy="2" rx="1.8" ry="1.1" fill="#c04050"/><ellipse cx="9" cy="8.3" rx="1.8" ry="1.1" fill="#c04050"/><ellipse cx="13" cy="6.5" rx="1.8" ry="1.1" fill="#c04050"/><ellipse cx="17" cy="4.8" rx="1.8" ry="1.1" fill="#c04050"/></g>
<text x="55.1" y="536.4" font-size="5.4" font-weight="bold" text-anchor="start" fill="#222" textLength="55.2" lengthAdjust="spacingAndGlyphs" >Cell culturing  6 well plate</text>
<text x="226.8" y="386" font-size="5.4" font-weight="bold" text-anchor="start" fill="#222" textLength="32.2" lengthAdjust="spacingAndGlyphs" >Fluidic Channel</text>
<polygon points="207.4,395 216.5,387.4 266.1,388.2 266.1,402 257.9,410.6 207.4,406.4" fill="#f6f2f2" stroke="#b0a8a8" stroke-width="0.4"/>
<polygon points="216.5,389.5 262,390.5 262,397 216.5,396" fill="#f4c4cc"/>
<polygon points="210,398 256,401.5 256,408 210,404.5" fill="#f0b8c4"/>
<polygon points="257.9,399 266.1,388.2 266.1,402 257.9,410.6" fill="#ebe4e6" stroke="#b0a8a8" stroke-width="0.3"/>
<polygon points="259.5,404 265.5,404 265.5,401.5 271,406 265.5,410.5 265.5,408 259.5,408" fill="#e868c8" stroke="#c040a0" stroke-width="0.3"/>
<text x="273.8" y="404" font-size="5.4" font-weight="bold" text-anchor="start" fill="#222" textLength="17" lengthAdjust="spacingAndGlyphs" >Sample</text>
<text x="277.5" y="410" font-size="5.4" font-weight="bold" text-anchor="start" fill="#222" textLength="10" lengthAdjust="spacingAndGlyphs" >flow</text>
<polygon points="223.1,408.9 267.8,415.5 252.9,432 209.1,423" fill="#c4def4" stroke="#a0b8d0" stroke-width="0.4"/>
<rect x="216.5" y="410.8" width="3.2" height="2.6" fill="#3060d0"/>
<rect x="217.4" y="410.4" width="2" height="1.2" fill="#f8c040"/>
<rect x="214.3" y="414.8" width="3.2" height="2.6" fill="#3060d0"/>
<rect x="215.2" y="414.4" width="2" height="1.2" fill="#f8c040"/>
<rect x="212.1" y="418.8" width="3.2" height="2.6" fill="#3060d0"/>
<rect x="213.0" y="418.4" width="2" height="1.2" fill="#f8c040"/>
<rect x="228.3" y="412.4" width="3.2" height="2.6" fill="#e03030"/>
<rect x="229.2" y="412.0" width="2" height="1.2" fill="#f8c040"/>
<rect x="226.1" y="416.4" width="3.2" height="2.6" fill="#e03030"/>
<rect x="227.0" y="416.0" width="2" height="1.2" fill="#f8c040"/>
<rect x="223.9" y="420.4" width="3.2" height="2.6" fill="#e03030"/>
<rect x="224.8" y="420.0" width="2" height="1.2" fill="#f8c040"/>
<rect x="221.7" y="424.4" width="3.2" height="2.6" fill="#e03030"/>
<rect x="222.6" y="424.0" width="2" height="1.2" fill="#f8c040"/>
<rect x="240.1" y="414.0" width="3.2" height="2.6" fill="#20a040"/>
<rect x="241.0" y="413.6" width="2" height="1.2" fill="#f8c040"/>
<rect x="237.9" y="418.0" width="3.2" height="2.6" fill="#20a040"/>
<rect x="238.8" y="417.6" width="2" height="1.2" fill="#f8c040"/>
<rect x="235.7" y="422.0" width="3.2" height="2.6" fill="#20a040"/>
<rect x="236.6" y="421.6" width="2" height="1.2" fill="#f8c040"/>
<rect x="233.5" y="426.0" width="3.2" height="2.6" fill="#20a040"/>
<rect x="234.4" y="425.6" width="2" height="1.2" fill="#f8c040"/>
<rect x="251.9" y="415.6" width="3.2" height="2.6" fill="#f0a020"/>
<rect x="252.8" y="415.2" width="2" height="1.2" fill="#f8c040"/>
<rect x="249.7" y="419.6" width="3.2" height="2.6" fill="#f0a020"/>
<rect x="250.6" y="419.2" width="2" height="1.2" fill="#f8c040"/>
<rect x="247.5" y="423.6" width="3.2" height="2.6" fill="#f0a020"/>
<rect x="248.4" y="423.2" width="2" height="1.2" fill="#f8c040"/>
<rect x="245.3" y="427.6" width="3.2" height="2.6" fill="#f0a020"/>
<rect x="246.2" y="427.2" width="2" height="1.2" fill="#f8c040"/>
<text x="163.5" y="403" font-size="5.4" font-weight="bold" text-anchor="start" fill="#222" textLength="36.8" lengthAdjust="spacingAndGlyphs" >Collected sample</text>
<text x="164.5" y="410.3" font-size="5.4" font-weight="bold" text-anchor="start" fill="#222" textLength="34.5" lengthAdjust="spacingAndGlyphs" >loaded into chip</text>
<polygon points="148,409 151,404.5 165,414.5 167.5,411 171,423.5 158.5,422 161.5,418.5" fill="#707070"/>
<polygon points="148,409 151,404.5 165,414.5 161.5,418.5" fill="#8a8a8a"/>
<line x1="174" y1="425" x2="176" y2="426" stroke="#666" stroke-width="1.2"/>
<polygon points="176,424 194,432.5 192.5,436 174.5,427.5" fill="#c8c8cc" stroke="#777" stroke-width="0.4"/>
<polygon points="184,428 194,432.5 192.5,436 182.5,431.5" fill="#7a8aa8"/>
<line x1="194" y1="434" x2="215" y2="446" stroke="#6aa0d0" stroke-width="0.6"/>
<line x1="188" y1="425" x2="210" y2="445" stroke="#666" stroke-width="0.4"/>
<polygon points="195,458 228,443 283,467 242,490" fill="#e8eaec" stroke="#c4c8cc" stroke-width="0.4"/>
<polygon points="203,447 218,436.5 255,437.4 266,452 244,463" fill="#bfe0f4" stroke="#98c0dc" stroke-width="0.4"/>
<polygon points="203,447 244,463 244,478 203,462" fill="#a6d2ee" stroke="#98c0dc" stroke-width="0.3"/>
<polygon points="244,463 266,452 266,467 244,478" fill="#b4daf2" stroke="#98c0dc" stroke-width="0.3"/>
<line x1="214" y1="448" x2="214" y2="460" stroke="#5aa8d8" stroke-width="1.4"/>
<line x1="218" y1="445" x2="218" y2="457" stroke="#5aa8d8" stroke-width="1.4"/>
<line x1="222" y1="442" x2="222" y2="453" stroke="#5aa8d8" stroke-width="1.4"/>
<line x1="226" y1="440" x2="226" y2="449" stroke="#5aa8d8" stroke-width="1.4"/>
<line x1="232" y1="440" x2="232" y2="448" stroke="#5aa8d8" stroke-width="1.4"/>
<line x1="238" y1="441" x2="238" y2="450" stroke="#5aa8d8" stroke-width="1.4"/>
<line x1="246" y1="446" x2="246" y2="458" stroke="#5aa8d8" stroke-width="1.4"/>
<line x1="251" y1="448" x2="251" y2="460" stroke="#5aa8d8" stroke-width="1.4"/>
<line x1="256" y1="450" x2="256" y2="462" stroke="#5aa8d8" stroke-width="1.4"/>
<line x1="216" y1="455" x2="216" y2="465" stroke="#5aa8d8" stroke-width="1.4"/>
<line x1="222" y1="456" x2="222" y2="465" stroke="#5aa8d8" stroke-width="1.4"/>
<ellipse cx="236" cy="452" rx="9" ry="4" fill="none" stroke="#d8b870" stroke-width="0.8"/>
<ellipse cx="232" cy="460" rx="9" ry="4" fill="none" stroke="#d8b870" stroke-width="0.8"/>
<polygon points="214,443 219,443 222.5,448.5 219,450.5 215.5,447" fill="#e0409a" stroke="#fff" stroke-width="0.3"/>
<polygon points="221,455 227,455 229,458 225,459.5 220.5,458" fill="#e0409a" stroke="#fff" stroke-width="0.3"/>
<polygon points="235,459 241,459.5 243,462 239,463.5 234.5,462" fill="#f08020" stroke="#fff" stroke-width="0.3"/>
<polygon points="246,461 247,457.5 252,456 253,459 248,463" fill="#f08020" stroke="#fff" stroke-width="0.3"/>
<text x="189.1" y="446.4" font-size="5.4" font-weight="bold" text-anchor="start" fill="#e8309a" textLength="21.2" lengthAdjust="spacingAndGlyphs" >Sample In</text>
<text x="252.8" y="462.8" font-size="5.4" font-weight="bold" text-anchor="start" fill="#f08020" textLength="25.2" lengthAdjust="spacingAndGlyphs" >Sample Out</text>
<text x="269.5" y="444.6" font-size="5.4" font-weight="bold" text-anchor="start" fill="#222" textLength="31" lengthAdjust="spacingAndGlyphs" >PDMS sample</text>
<text x="271" y="452.1" font-size="5.4" font-weight="bold" text-anchor="start" fill="#222" textLength="29" lengthAdjust="spacingAndGlyphs" >loading layer</text>
<line x1="260" y1="450" x2="268" y2="446" stroke="#222" stroke-width="0.6"/><polygon points="259,450.5 261.5,448 262,451" fill="#222"/>
<text x="271" y="478" font-size="5.4" font-weight="bold" text-anchor="start" fill="#222" textLength="12" lengthAdjust="spacingAndGlyphs" >Glass</text>
<line x1="261" y1="476.3" x2="269" y2="476.3" stroke="#222" stroke-width="0.6"/><polygon points="259.8,476.3 262.5,474.8 262.5,477.8" fill="#222"/>
<text x="176.5" y="469.3" font-size="5.4" font-weight="bold" text-anchor="start" fill="#222" textLength="23.2" lengthAdjust="spacingAndGlyphs" >Patterned</text>
<text x="171.5" y="476.3" font-size="5.4" font-weight="bold" text-anchor="start" fill="#222" textLength="30.4" lengthAdjust="spacingAndGlyphs" >nanoparticles</text>
<line x1="202" y1="473" x2="222" y2="466" stroke="#222" stroke-width="0.6"/>
<line x1="179" y1="494" x2="229" y2="458" stroke="#333" stroke-width="0.4"/><line x1="241" y1="494" x2="233" y2="460" stroke="#333" stroke-width="0.4"/>
<line x1="211" y1="432" x2="240" y2="455" stroke="#333" stroke-width="0.4"/><line x1="262" y1="424" x2="238" y2="455" stroke="#333" stroke-width="0.4"/>
<line x1="207" y1="406" x2="210" y2="423" stroke="#333" stroke-width="0.4"/><line x1="257" y1="410" x2="253" y2="430" stroke="#333" stroke-width="0.4"/>
<defs><linearGradient id="rbar" x1="0" y1="0" x2="1" y2="0"><stop offset="0" stop-color="#600000"/><stop offset="0.25" stop-color="#d01010"/><stop offset="0.5" stop-color="#f01818"/><stop offset="0.75" stop-color="#d01010"/><stop offset="1" stop-color="#600000"/></linearGradient></defs>
<rect x="179.9" y="493.8" width="63" height="43.8" fill="#120202"/>
<rect x="182.5" y="493.8" width="1.2" height="43.8" fill="#3a0404"/>
<rect x="185.5" y="493.8" width="1.2" height="43.8" fill="#3a0404"/>
<rect x="189.3" y="493.8" width="6.8" height="43.8" fill="url(#rbar)"/>
<rect x="200.9" y="493.8" width="6.8" height="43.8" fill="url(#rbar)"/>
<rect x="212.5" y="493.8" width="6.8" height="43.8" fill="url(#rbar)"/>
<rect x="224.1" y="493.8" width="6.8" height="43.8" fill="url(#rbar)"/>
<rect x="226" y="509" width="3.5" height="3.5" fill="none" stroke="#888" stroke-width="0.4"/>
<path d="M190.2,488.5 L192,490.8 L193.8,488.5 M192,490.8 L192,493.6" stroke="#2080e0" stroke-width="1.3" fill="none"/>
<text x="0" y="0" font-size="3.8" font-weight="bold" fill="#2080e0" transform="translate(194.2,491.5) rotate(-50)">IL-2</text>
<path d="M201.7,488.5 L203.5,490.8 L205.3,488.5 M203.5,490.8 L203.5,493.6" stroke="#e02020" stroke-width="1.3" fill="none"/>
<text x="0" y="0" font-size="3.8" font-weight="bold" fill="#e02020" transform="translate(205.7,491.5) rotate(-50)">IFN-γ</text>
<path d="M213.2,488.5 L215,490.8 L216.8,488.5 M215,490.8 L215,493.6" stroke="#10a030" stroke-width="1.3" fill="none"/>
<text x="0" y="0" font-size="3.8" font-weight="bold" fill="#10a030" transform="translate(217.2,491.5) rotate(-50)">TNF-α</text>
<path d="M224.7,488.5 L226.5,490.8 L228.3,488.5 M226.5,490.8 L226.5,493.6" stroke="#f09020" stroke-width="1.3" fill="none"/>
<text x="0" y="0" font-size="3.8" font-weight="bold" fill="#f09020" transform="translate(228.7,491.5) rotate(-50)">IL-10</text>
<text x="226.2" y="534.6" font-size="4" font-weight="bold" text-anchor="start" fill="#fff" textLength="13.5" lengthAdjust="spacingAndGlyphs" >100 μm</text>
<rect x="232" y="536.3" width="7.5" height="0.7" fill="#ccc"/>
<defs><linearGradient id="semg" x1="0" y1="0" x2="0.6" y2="1"><stop offset="0" stop-color="#222"/><stop offset="0.6" stop-color="#2a2a2a"/><stop offset="1" stop-color="#3c3c3c"/></linearGradient></defs>
<rect x="249.1" y="493.9" width="41.5" height="43.7" fill="url(#semg)"/>
<circle cx="281.1" cy="510.7" r="0.5" fill="#4a4a4a"/>
<circle cx="277.3" cy="523.4" r="0.5" fill="#4a4a4a"/>
<circle cx="285.9" cy="535.2" r="0.5" fill="#4a4a4a"/>
<circle cx="266.3" cy="536.5" r="0.5" fill="#4a4a4a"/>
<circle cx="288.5" cy="519.8" r="0.5" fill="#4a4a4a"/>
<circle cx="285.3" cy="515.6" r="0.5" fill="#4a4a4a"/>
<circle cx="265.0" cy="505.4" r="0.5" fill="#4a4a4a"/>
<circle cx="285.0" cy="501.8" r="0.5" fill="#4a4a4a"/>
<circle cx="252.8" cy="528.8" r="0.5" fill="#4a4a4a"/>
<circle cx="281.0" cy="515.3" r="0.5" fill="#4a4a4a"/>
<circle cx="283.5" cy="497.2" r="0.5" fill="#4a4a4a"/>
<circle cx="260.3" cy="507.2" r="0.5" fill="#4a4a4a"/>
<circle cx="266.8" cy="502.2" r="0.5" fill="#4a4a4a"/>
<circle cx="252.8" cy="509.2" r="0.5" fill="#4a4a4a"/>
<circle cx="286.0" cy="536.3" r="0.5" fill="#4a4a4a"/>
<circle cx="279.8" cy="515.1" r="0.5" fill="#4a4a4a"/>
<circle cx="260.1" cy="535.3" r="0.5" fill="#4a4a4a"/>
<circle cx="271.0" cy="525.6" r="0.5" fill="#4a4a4a"/>
<circle cx="251.1" cy="503.9" r="0.5" fill="#4a4a4a"/>
<circle cx="283.5" cy="528.4" r="0.5" fill="#4a4a4a"/>
<circle cx="285.3" cy="520.3" r="0.5" fill="#4a4a4a"/>
<circle cx="267.0" cy="519.4" r="0.5" fill="#4a4a4a"/>
<circle cx="284.0" cy="507.9" r="0.5" fill="#4a4a4a"/>
<circle cx="271.4" cy="506.6" r="0.5" fill="#4a4a4a"/>
<circle cx="280.7" cy="495.4" r="0.5" fill="#4a4a4a"/>
<circle cx="277.4" cy="535.1" r="0.5" fill="#4a4a4a"/>
<circle cx="250.9" cy="519.9" r="0.5" fill="#4a4a4a"/>
<circle cx="275.8" cy="530.8" r="0.5" fill="#4a4a4a"/>
<circle cx="273.4" cy="505.8" r="0.5" fill="#4a4a4a"/>
<circle cx="266.2" cy="535.3" r="0.5" fill="#4a4a4a"/>
<circle cx="286.2" cy="500.6" r="0.5" fill="#4a4a4a"/>
<circle cx="253.8" cy="498.9" r="0.5" fill="#4a4a4a"/>
<circle cx="251.0" cy="513.8" r="0.5" fill="#4a4a4a"/>
<circle cx="255.6" cy="531.4" r="0.5" fill="#4a4a4a"/>
<circle cx="276.2" cy="500.3" r="0.5" fill="#4a4a4a"/>
<circle cx="271.5" cy="508.6" r="0.5" fill="#4a4a4a"/>
<circle cx="269.8" cy="504.2" r="0.5" fill="#4a4a4a"/>
<circle cx="256.6" cy="502.7" r="0.5" fill="#4a4a4a"/>
<circle cx="265.1" cy="524.8" r="0.5" fill="#4a4a4a"/>
<circle cx="272.0" cy="496.9" r="0.5" fill="#4a4a4a"/>
<circle cx="278.4" cy="531.7" r="0.5" fill="#4a4a4a"/>
<circle cx="281.0" cy="528.2" r="0.5" fill="#4a4a4a"/>
<circle cx="250.3" cy="514.5" r="0.5" fill="#4a4a4a"/>
<circle cx="252.5" cy="527.1" r="0.5" fill="#4a4a4a"/>
<circle cx="257.0" cy="524.9" r="0.5" fill="#4a4a4a"/>
<circle cx="260.1" cy="524.3" r="0.5" fill="#4a4a4a"/>
<circle cx="262.5" cy="496.8" r="0.5" fill="#4a4a4a"/>
<circle cx="265.6" cy="508.0" r="0.5" fill="#4a4a4a"/>
<circle cx="286.0" cy="507.4" r="0.5" fill="#4a4a4a"/>
<circle cx="270.1" cy="518.1" r="0.5" fill="#4a4a4a"/>
<circle cx="287.9" cy="499.1" r="0.5" fill="#4a4a4a"/>
<circle cx="274.0" cy="516.3" r="0.5" fill="#4a4a4a"/>
<circle cx="279.4" cy="535.6" r="0.5" fill="#4a4a4a"/>
<circle cx="262.4" cy="524.4" r="0.5" fill="#4a4a4a"/>
<circle cx="271.0" cy="518.5" r="0.5" fill="#4a4a4a"/>
<circle cx="252.5" cy="529.2" r="0.5" fill="#4a4a4a"/>
<circle cx="289.1" cy="509.9" r="0.5" fill="#4a4a4a"/>
<circle cx="262.7" cy="536.7" r="0.5" fill="#4a4a4a"/>
<circle cx="254.3" cy="498.2" r="0.5" fill="#4a4a4a"/>
<circle cx="252.9" cy="529.2" r="0.5" fill="#4a4a4a"/>
<ellipse cx="283.7" cy="499.8" rx="3.2" ry="2" fill="#8a8a8a" stroke="#f0f0f0" stroke-width="0.8"/>
<ellipse cx="254.3" cy="508.1" rx="2.1" ry="3.4" fill="#8a8a8a" stroke="#f0f0f0" stroke-width="0.8"/>
<ellipse cx="256.8" cy="529.2" rx="2.3" ry="3.1" fill="#8a8a8a" stroke="#f0f0f0" stroke-width="0.8"/>
<line x1="274" y1="497.5" x2="281" y2="499.5" stroke="#ddd" stroke-width="0.6"/>
<line x1="258" y1="509" x2="262" y2="511.5" stroke="#ddd" stroke-width="0.6"/>
<line x1="261" y1="521" x2="260" y2="526" stroke="#ddd" stroke-width="0.6"/>
<text x="261.7" y="499" font-size="4.3" font-weight="bold" text-anchor="start" fill="#eee" textLength="10.8" lengthAdjust="spacingAndGlyphs" >AuNR</text>
<text x="263.1" y="516.4" font-size="4.3" font-weight="bold" text-anchor="start" fill="#eee" textLength="16.2" lengthAdjust="spacingAndGlyphs" >Antibody</text>
<text x="265.6" y="522.9" font-size="4.3" font-weight="bold" text-anchor="start" fill="#eee" textLength="11.4" lengthAdjust="spacingAndGlyphs" >coated</text>
<text x="276.9" y="534.6" font-size="4" font-weight="bold" text-anchor="start" fill="#eee" textLength="12.7" lengthAdjust="spacingAndGlyphs" >100 nm</text>
<rect x="280" y="536.3" width="9" height="0.7" fill="#ccc"/>
<line x1="229.5" y1="509" x2="249.1" y2="494" stroke="#777" stroke-width="0.4"/><line x1="229.5" y1="512.5" x2="249.1" y2="537.6" stroke="#777" stroke-width="0.4"/>
<line x1="375.9" y1="497.1" x2="375.9" y2="485.5" stroke="#8a8a8a" stroke-width="0.9"/>
<line x1="374.3" y1="497.1" x2="377.5" y2="497.1" stroke="#8a8a8a" stroke-width="0.9"/>
<line x1="374.3" y1="485.5" x2="377.5" y2="485.5" stroke="#8a8a8a" stroke-width="0.9"/>
<line x1="438.0" y1="487.2" x2="438.0" y2="479.1" stroke="#8a8a8a" stroke-width="0.9"/>
<line x1="436.4" y1="487.2" x2="439.6" y2="487.2" stroke="#8a8a8a" stroke-width="0.9"/>
<line x1="436.4" y1="479.1" x2="439.6" y2="479.1" stroke="#8a8a8a" stroke-width="0.9"/>
<line x1="464.8" y1="476.2" x2="464.8" y2="467.0" stroke="#8a8a8a" stroke-width="0.9"/>
<line x1="463.2" y1="476.2" x2="466.4" y2="476.2" stroke="#8a8a8a" stroke-width="0.9"/>
<line x1="463.2" y1="467.0" x2="466.4" y2="467.0" stroke="#8a8a8a" stroke-width="0.9"/>
<line x1="500.1" y1="449.0" x2="500.1" y2="440.9" stroke="#8a8a8a" stroke-width="0.9"/>
<line x1="498.5" y1="449.0" x2="501.7" y2="449.0" stroke="#8a8a8a" stroke-width="0.9"/>
<line x1="498.5" y1="440.9" x2="501.7" y2="440.9" stroke="#8a8a8a" stroke-width="0.9"/>
<line x1="375.9" y1="499.4" x2="375.9" y2="487.8" stroke="#8a8a8a" stroke-width="0.9"/>
<line x1="374.3" y1="499.4" x2="377.5" y2="499.4" stroke="#8a8a8a" stroke-width="0.9"/>
<line x1="374.3" y1="487.8" x2="377.5" y2="487.8" stroke="#8a8a8a" stroke-width="0.9"/>
<line x1="438.0" y1="487.8" x2="438.0" y2="476.2" stroke="#8a8a8a" stroke-width="0.9"/>
<line x1="436.4" y1="487.8" x2="439.6" y2="487.8" stroke="#8a8a8a" stroke-width="0.9"/>
<line x1="436.4" y1="476.2" x2="439.6" y2="476.2" stroke="#8a8a8a" stroke-width="0.9"/>
<line x1="464.8" y1="475.1" x2="464.8" y2="461.2" stroke="#8a8a8a" stroke-width="0.9"/>
<line x1="463.2" y1="475.1" x2="466.4" y2="475.1" stroke="#8a8a8a" stroke-width="0.9"/>
<line x1="463.2" y1="461.2" x2="466.4" y2="461.2" stroke="#8a8a8a" stroke-width="0.9"/>
<line x1="500.1" y1="431.1" x2="500.1" y2="424.1" stroke="#8a8a8a" stroke-width="0.9"/>
<line x1="498.5" y1="431.1" x2="501.7" y2="431.1" stroke="#8a8a8a" stroke-width="0.9"/>
<line x1="498.5" y1="424.1" x2="501.7" y2="424.1" stroke="#8a8a8a" stroke-width="0.9"/>
<line x1="375.9" y1="493.6" x2="375.9" y2="482.0" stroke="#8a8a8a" stroke-width="0.9"/>
<line x1="374.3" y1="493.6" x2="377.5" y2="493.6" stroke="#8a8a8a" stroke-width="0.9"/>
<line x1="374.3" y1="482.0" x2="377.5" y2="482.0" stroke="#8a8a8a" stroke-width="0.9"/>
<line x1="438.0" y1="483.2" x2="438.0" y2="473.9" stroke="#8a8a8a" stroke-width="0.9"/>
<line x1="436.4" y1="483.2" x2="439.6" y2="483.2" stroke="#8a8a8a" stroke-width="0.9"/>
<line x1="436.4" y1="473.9" x2="439.6" y2="473.9" stroke="#8a8a8a" stroke-width="0.9"/>
<line x1="464.8" y1="473.9" x2="464.8" y2="462.3" stroke="#8a8a8a" stroke-width="0.9"/>
<line x1="463.2" y1="473.9" x2="466.4" y2="473.9" stroke="#8a8a8a" stroke-width="0.9"/>
<line x1="463.2" y1="462.3" x2="466.4" y2="462.3" stroke="#8a8a8a" stroke-width="0.9"/>
<line x1="500.1" y1="448.4" x2="500.1" y2="439.2" stroke="#8a8a8a" stroke-width="0.9"/>
<line x1="498.5" y1="448.4" x2="501.7" y2="448.4" stroke="#8a8a8a" stroke-width="0.9"/>
<line x1="498.5" y1="439.2" x2="501.7" y2="439.2" stroke="#8a8a8a" stroke-width="0.9"/>
<line x1="375.9" y1="491.3" x2="375.9" y2="479.7" stroke="#8a8a8a" stroke-width="0.9"/>
<line x1="374.3" y1="491.3" x2="377.5" y2="491.3" stroke="#8a8a8a" stroke-width="0.9"/>
<line x1="374.3" y1="479.7" x2="377.5" y2="479.7" stroke="#8a8a8a" stroke-width="0.9"/>
<line x1="438.0" y1="470.4" x2="438.0" y2="461.2" stroke="#8a8a8a" stroke-width="0.9"/>
<line x1="436.4" y1="470.4" x2="439.6" y2="470.4" stroke="#8a8a8a" stroke-width="0.9"/>
<line x1="436.4" y1="461.2" x2="439.6" y2="461.2" stroke="#8a8a8a" stroke-width="0.9"/>
<line x1="464.8" y1="449.6" x2="464.8" y2="438.0" stroke="#8a8a8a" stroke-width="0.9"/>
<line x1="463.2" y1="449.6" x2="466.4" y2="449.6" stroke="#8a8a8a" stroke-width="0.9"/>
<line x1="463.2" y1="438.0" x2="466.4" y2="438.0" stroke="#8a8a8a" stroke-width="0.9"/>
<line x1="500.1" y1="407.9" x2="500.1" y2="398.6" stroke="#8a8a8a" stroke-width="0.9"/>
<line x1="498.5" y1="407.9" x2="501.7" y2="407.9" stroke="#8a8a8a" stroke-width="0.9"/>
<line x1="498.5" y1="398.6" x2="501.7" y2="398.6" stroke="#8a8a8a" stroke-width="0.9"/>
<polyline points="375.9,489.5 377.9,489.4 380.0,489.3 382.1,489.2 384.1,489.1 386.2,489.0 388.3,488.9 390.4,488.8 392.4,488.6 394.5,488.5 396.6,488.3 398.6,488.2 400.7,488.0 402.8,487.8 404.9,487.6 406.9,487.4 409.0,487.2 411.1,487.0 413.1,486.8 415.2,486.5 417.3,486.3 419.4,486.0 421.4,485.7 423.5,485.4 425.6,485.1 427.6,484.7 429.7,484.4 431.8,484.0 433.9,483.6 435.9,483.2 438.0,482.7 440.1,482.2 442.1,481.7 444.2,481.2 446.3,480.6 448.4,480.0 450.4,479.4 452.5,478.7 454.6,478.0 456.6,477.3 458.7,476.5 460.8,475.6 462.9,474.7 464.9,473.8 467.0,472.7 469.1,471.7 471.1,470.5 473.2,469.3 475.3,468.0 477.4,466.7 479.4,465.2 481.5,463.7 483.6,462.0 485.6,460.3 487.7,458.4 489.8,456.5 491.9,454.3 493.9,452.1 496.0,449.7 498.1,447.1 500.1,444.4" fill="none" stroke="#1040d0" stroke-width="1.3" stroke-dasharray="2.6,1.6"/>
<polyline points="375.9,492.0 377.9,491.9 380.0,491.7 382.1,491.6 384.1,491.4 386.2,491.3 388.3,491.1 390.4,490.9 392.4,490.7 394.5,490.5 396.6,490.3 398.6,490.1 400.7,489.9 402.8,489.6 404.9,489.4 406.9,489.1 409.0,488.8 411.1,488.5 413.1,488.1 415.2,487.8 417.3,487.4 419.4,487.0 421.4,486.6 423.5,486.2 425.6,485.7 427.6,485.2 429.7,484.7 431.8,484.2 433.9,483.6 435.9,483.0 438.0,482.4 440.1,481.7 442.1,481.0 444.2,480.2 446.3,479.4 448.4,478.6 450.4,477.7 452.5,476.7 454.6,475.7 456.6,474.6 458.7,473.5 460.8,472.3 462.9,471.0 464.9,469.7 467.0,468.2 469.1,466.7 471.1,465.1 473.2,463.4 475.3,461.6 477.4,459.6 479.4,457.6 481.5,455.4 483.6,453.0 485.6,450.6 487.7,447.9 489.8,445.1 491.9,442.1 493.9,438.9 496.0,435.5 498.1,431.9 500.1,428.0" fill="none" stroke="#e81818" stroke-width="1.3" stroke-dasharray="2.6,1.6"/>
<polyline points="375.9,485.4 377.9,485.3 380.0,485.3 382.1,485.2 384.1,485.1 386.2,485.0 388.3,484.8 390.4,484.7 392.4,484.6 394.5,484.5 396.6,484.3 398.6,484.2 400.7,484.0 402.8,483.9 404.9,483.7 406.9,483.5 409.0,483.3 411.1,483.1 413.1,482.9 415.2,482.7 417.3,482.4 419.4,482.2 421.4,481.9 423.5,481.6 425.6,481.3 427.6,481.0 429.7,480.6 431.8,480.3 433.9,479.9 435.9,479.5 438.0,479.1 440.1,478.6 442.1,478.2 444.2,477.7 446.3,477.1 448.4,476.6 450.4,476.0 452.5,475.4 454.6,474.7 456.6,474.0 458.7,473.3 460.8,472.5 462.9,471.6 464.9,470.7 467.0,469.8 469.1,468.8 471.1,467.7 473.2,466.6 475.3,465.4 477.4,464.1 479.4,462.8 481.5,461.3 483.6,459.8 485.6,458.2 487.7,456.4 489.8,454.6 491.9,452.6 493.9,450.5 496.0,448.3 498.1,445.9 500.1,443.3" fill="none" stroke="#10b040" stroke-width="1.3" stroke-dasharray="2.6,1.6"/>
<polyline points="375.9,479.2 377.9,479.0 380.0,478.9 382.1,478.7 384.1,478.5 386.2,478.3 388.3,478.1 390.4,477.9 392.4,477.7 394.5,477.4 396.6,477.2 398.6,476.9 400.7,476.6 402.8,476.3 404.9,476.0 406.9,475.7 409.0,475.3 411.1,474.9 413.1,474.5 415.2,474.1 417.3,473.7 419.4,473.2 421.4,472.7 423.5,472.2 425.6,471.7 427.6,471.1 429.7,470.5 431.8,469.8 433.9,469.1 435.9,468.4 438.0,467.7 440.1,466.8 442.1,466.0 444.2,465.1 446.3,464.1 448.4,463.1 450.4,462.0 452.5,460.9 454.6,459.7 456.6,458.4 458.7,457.0 460.8,455.6 462.9,454.1 464.9,452.4 467.0,450.7 469.1,448.9 471.1,447.0 473.2,444.9 475.3,442.7 477.4,440.4 479.4,438.0 481.5,435.3 483.6,432.6 485.6,429.6 487.7,426.4 489.8,423.1 491.9,419.5 493.9,415.7 496.0,411.6 498.1,407.2 500.1,402.6" fill="none" stroke="#f08020" stroke-width="1.3" stroke-dasharray="2.6,1.6"/>
<circle cx="375.9" cy="491.3" r="3.2" fill="#1040d0"/>
<circle cx="438.0" cy="483.2" r="3.2" fill="#1040d0"/>
<circle cx="464.8" cy="471.6" r="3.2" fill="#1040d0"/>
<circle cx="500.1" cy="445.0" r="3.2" fill="#1040d0"/>
<circle cx="375.9" cy="493.6" r="3.2" fill="#e81818"/>
<circle cx="438.0" cy="482.0" r="3.2" fill="#e81818"/>
<circle cx="464.8" cy="468.1" r="3.2" fill="#e81818"/>
<circle cx="500.1" cy="427.6" r="3.2" fill="#e81818"/>
<circle cx="375.9" cy="487.8" r="2.9" fill="none" stroke="#10b040" stroke-width="1.3"/>
<circle cx="438.0" cy="478.5" r="2.9" fill="none" stroke="#10b040" stroke-width="1.3"/>
<circle cx="464.8" cy="468.1" r="2.9" fill="none" stroke="#10b040" stroke-width="1.3"/>
<circle cx="500.1" cy="443.8" r="2.9" fill="none" stroke="#10b040" stroke-width="1.3"/>
<circle cx="375.9" cy="485.5" r="2.9" fill="none" stroke="#f08020" stroke-width="1.3"/>
<circle cx="438.0" cy="465.8" r="2.9" fill="none" stroke="#f08020" stroke-width="1.3"/>
<circle cx="464.8" cy="443.8" r="2.9" fill="none" stroke="#f08020" stroke-width="1.3"/>
<circle cx="500.1" cy="403.3" r="2.9" fill="none" stroke="#f08020" stroke-width="1.3"/>
<line x1="349" y1="379.3" x2="349" y2="515.6" stroke="#111" stroke-width="1"/>
<line x1="349" y1="515.6" x2="526.7" y2="515.6" stroke="#111" stroke-width="1"/>
<line x1="346.1" y1="515.6" x2="349" y2="515.6" stroke="#111" stroke-width="0.9"/>
<text x="340.2" y="518.6" font-size="8.5" font-weight="bold" text-anchor="end" fill="#222" >0</text>
<line x1="346.1" y1="492.4" x2="349" y2="492.4" stroke="#111" stroke-width="0.9"/>
<text x="340.2" y="495.4" font-size="8.5" font-weight="bold" text-anchor="end" fill="#222" >2</text>
<line x1="346.1" y1="469.3" x2="349" y2="469.3" stroke="#111" stroke-width="0.9"/>
<text x="340.2" y="472.3" font-size="8.5" font-weight="bold" text-anchor="end" fill="#222" >4</text>
<line x1="346.1" y1="446.1" x2="349" y2="446.1" stroke="#111" stroke-width="0.9"/>
<text x="340.2" y="449.1" font-size="8.5" font-weight="bold" text-anchor="end" fill="#222" >6</text>
<line x1="346.1" y1="423.0" x2="349" y2="423.0" stroke="#111" stroke-width="0.9"/>
<text x="340.2" y="426.0" font-size="8.5" font-weight="bold" text-anchor="end" fill="#222" >8</text>
<line x1="346.1" y1="399.8" x2="349" y2="399.8" stroke="#111" stroke-width="0.9"/>
<text x="340.2" y="402.8" font-size="8.5" font-weight="bold" text-anchor="end" fill="#222" >10</text>
<line x1="349.1" y1="515.6" x2="349.1" y2="518.4" stroke="#111" stroke-width="0.9"/>
<text x="349.1" y="530.8" font-size="8.3" font-weight="bold" text-anchor="middle" fill="#222" >50</text>
<line x1="438.0" y1="515.6" x2="438.0" y2="518.4" stroke="#111" stroke-width="0.9"/>
<text x="438.0" y="530.8" font-size="8.3" font-weight="bold" text-anchor="middle" fill="#222" >500</text>
<line x1="526.9" y1="515.6" x2="526.9" y2="518.4" stroke="#111" stroke-width="0.9"/>
<text x="526.9" y="530.8" font-size="8.3" font-weight="bold" text-anchor="middle" fill="#222" >5000</text>
<text x="369.3" y="543.3" font-size="8.3" font-weight="bold" text-anchor="start" fill="#222" textLength="137.7" lengthAdjust="spacingAndGlyphs" >Cytokine concentration (pg/mL)</text>
<text x="0" y="0" font-size="8.2" font-weight="bold" fill="#222" text-anchor="middle" textLength="94" lengthAdjust="spacingAndGlyphs" transform="translate(328.4,446.1) rotate(-90)">Intensity signal change (%)</text>
<circle cx="361.8" cy="389.6" r="2.9" fill="#1040d0"/>
<text x="367.3" y="392.6" font-size="8.6" font-weight="bold" text-anchor="start" fill="#222" textLength="15.4" lengthAdjust="spacingAndGlyphs" >IL-2</text>
<circle cx="361.8" cy="406.2" r="2.9" fill="#e81818"/>
<text x="367.3" y="409.2" font-size="8.6" font-weight="bold" text-anchor="start" fill="#222" textLength="23.1" lengthAdjust="spacingAndGlyphs" >IFN-γ</text>
<circle cx="361.8" cy="421.6" r="2.6" fill="none" stroke="#10b040" stroke-width="1.3"/>
<text x="367.3" y="424.6" font-size="8.6" font-weight="bold" text-anchor="start" fill="#222" textLength="25.4" lengthAdjust="spacingAndGlyphs" >TNF-α</text>
<circle cx="361.8" cy="438.4" r="2.6" fill="none" stroke="#f08020" stroke-width="1.3"/>
<text x="367.3" y="441.4" font-size="8.6" font-weight="bold" text-anchor="start" fill="#222" textLength="20.9" lengthAdjust="spacingAndGlyphs" >IL-10</text>
</svg>
</body></html>
